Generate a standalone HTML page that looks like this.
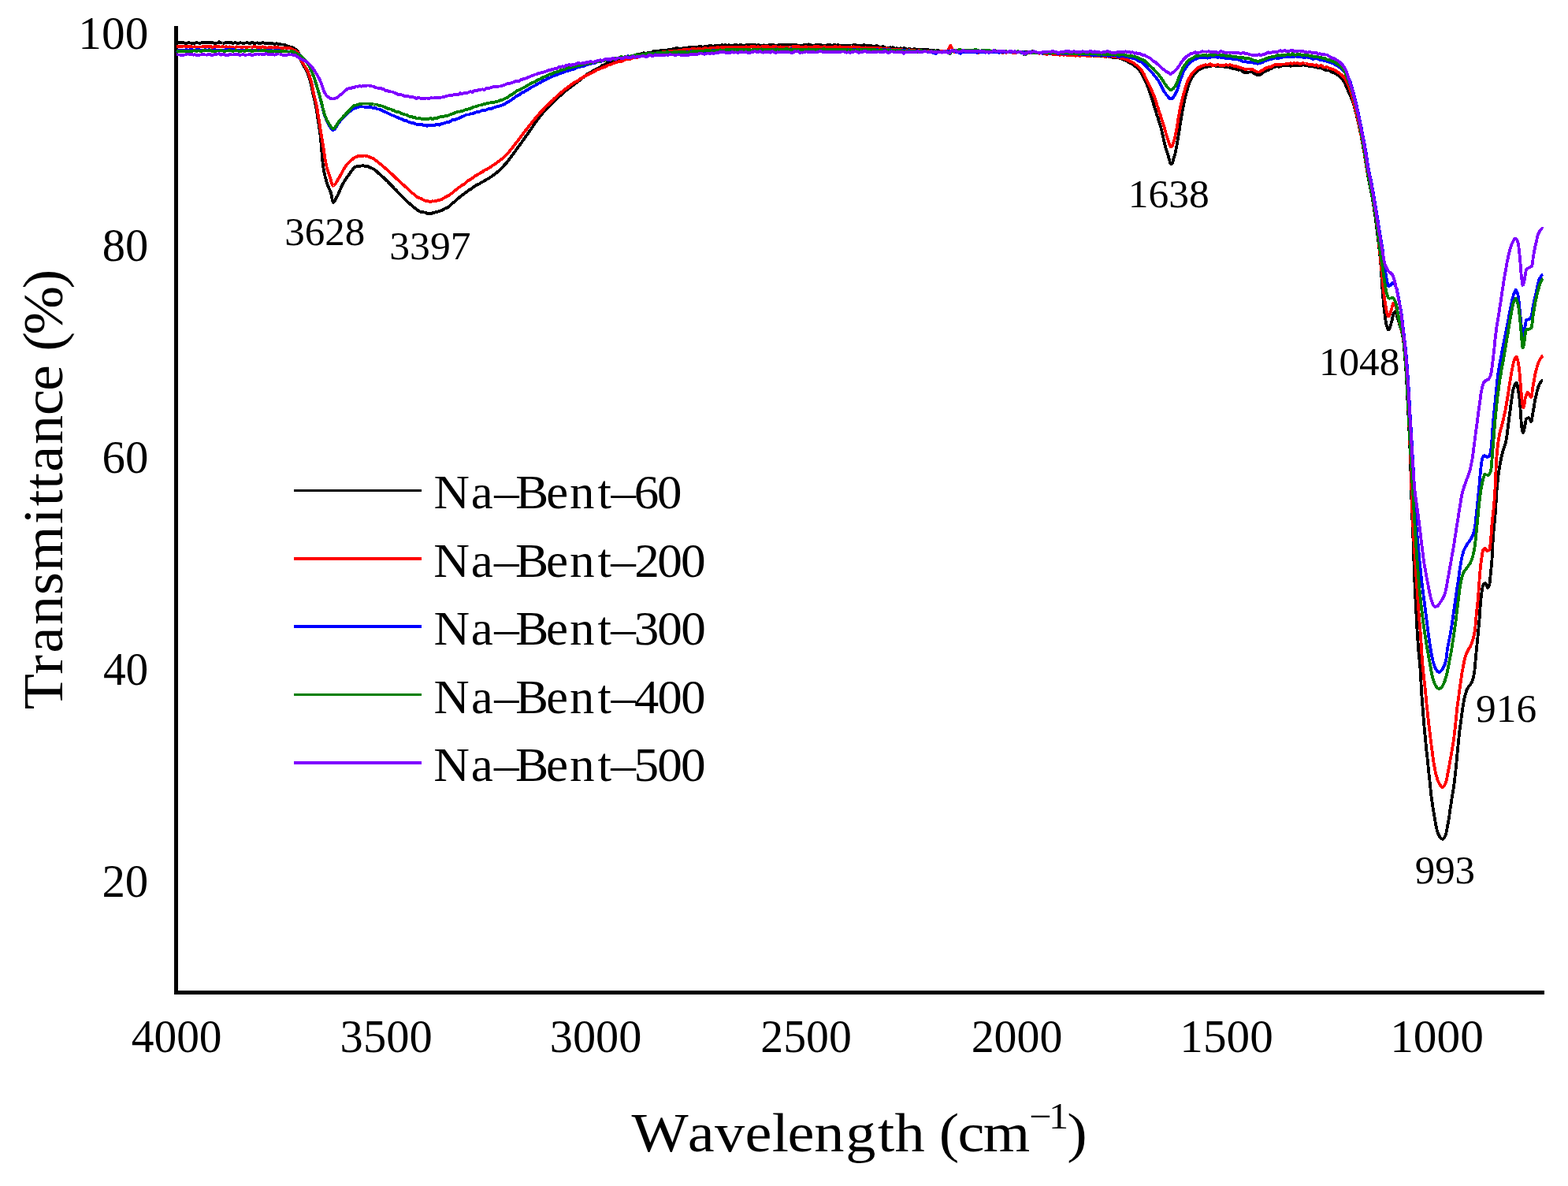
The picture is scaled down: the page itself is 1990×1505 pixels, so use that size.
<!DOCTYPE html>
<html lang="en">
<head>
<meta charset="utf-8">
<title>FTIR spectra of Na-Bent samples</title>
<style>
html,body{margin:0;padding:0;background:#fff;}
body{width:1990px;height:1505px;overflow:hidden;}
svg{display:block;}
text{font-family:"Liberation Serif","DejaVu Serif",serif;fill:#000;font-kerning:none;font-variant-ligatures:none;}
.curve{fill:none;stroke-width:3.8;stroke-linejoin:round;stroke-linecap:butt;}
</style>
</head>
<body>
<svg width="1990" height="1505" viewBox="0 0 1990 1505">
<rect x="0" y="0" width="1990" height="1505" fill="#ffffff"/>
<g id="axes" shape-rendering="crispEdges">
<rect x="221" y="33" width="5" height="1229" fill="#000"/>
<rect x="221" y="1257" width="1739" height="5" fill="#000"/>
</g>
<g id="curves" shape-rendering="crispEdges">
<polyline class="curve" stroke="#000000" points="224.0,54.6 224.8,54.5 225.5,54.4 226.2,54.3 227.0,54.2 227.8,54.1 228.5,54.2 229.2,54.3 230.0,54.3 230.8,54.2 231.5,54.1 232.2,54.1 233.0,54.3 233.8,54.5 234.5,54.7 235.2,55.0 236.0,55.2 236.8,55.2 237.5,54.8 238.2,54.5 239.0,54.3 239.8,54.3 240.5,54.3 241.2,54.4 242.0,54.6 242.8,54.8 243.5,54.9 244.2,54.8 245.0,54.8 245.8,54.8 246.5,54.7 247.2,54.7 248.0,54.5 248.8,54.3 249.5,54.1 250.2,54.2 251.0,54.4 251.8,54.6 252.5,54.7 253.2,54.8 254.0,55.0 254.8,54.6 255.5,54.2 256.2,53.9 257.0,54.0 257.8,54.2 258.5,54.3 259.2,54.0 260.0,53.8 260.8,53.6 261.5,53.7 262.2,53.8 263.0,53.9 263.8,53.8 264.5,53.7 265.2,53.7 266.0,54.0 266.8,54.3 267.5,54.4 268.2,54.2 269.0,54.0 269.8,54.0 270.5,54.3 271.2,54.6 272.0,54.7 272.8,54.7 273.5,54.7 274.2,54.6 275.0,54.6 275.8,54.5 276.5,54.2 277.2,53.8 278.0,53.3 278.8,53.5 279.5,53.9 280.2,54.2 281.0,54.4 281.8,54.5 282.5,54.6 283.2,54.6 284.0,54.6 284.8,54.7 285.5,54.4 286.2,54.1 287.0,53.8 287.8,54.0 288.5,54.2 289.2,54.3 290.0,54.2 290.8,54.1 291.5,54.1 292.2,54.1 293.0,54.1 293.8,54.2 294.5,54.6 295.2,54.9 296.0,55.1 296.8,54.7 297.5,54.4 298.2,54.2 299.0,54.3 299.8,54.5 300.5,54.7 301.2,54.8 302.0,55.0 302.8,55.0 303.5,54.7 304.2,54.4 305.0,54.3 305.8,54.4 306.5,54.5 307.2,54.6 308.0,54.6 308.8,54.6 309.5,54.7 310.2,54.6 311.0,54.6 311.8,54.5 312.5,54.2 313.2,54.0 314.0,54.1 314.8,54.4 315.5,54.6 316.2,54.9 317.0,55.1 317.8,55.3 318.5,54.8 319.2,54.3 320.0,53.7 320.8,54.2 321.5,54.7 322.2,55.1 323.0,54.9 323.8,54.8 324.5,54.6 325.2,54.5 326.0,54.4 326.8,54.3 327.5,54.8 328.2,55.3 329.0,55.6 329.8,55.4 330.5,55.2 331.2,54.9 332.0,54.5 332.8,54.2 333.5,54.0 334.2,54.3 335.0,54.5 335.8,54.7 336.5,54.8 337.2,54.9 338.0,54.8 338.8,54.7 339.5,54.6 340.2,54.6 341.0,54.8 341.8,54.9 342.5,54.9 343.2,54.9 344.0,54.8 344.8,54.9 345.5,55.1 346.2,55.3 347.0,55.5 347.8,55.7 348.5,56.0 349.2,55.8 350.0,55.5 350.8,55.2 351.5,55.5 352.2,55.7 353.0,56.0 353.8,55.9 354.5,55.9 355.2,56.0 356.0,56.2 356.8,56.4 357.5,56.6 358.2,56.5 359.0,56.5 359.8,56.5 360.5,56.7 361.2,57.0 362.0,57.3 362.8,57.5 363.5,57.7 364.2,58.0 365.0,58.4 365.8,58.8 366.5,59.1 367.2,59.3 368.0,59.6 368.8,59.7 369.5,59.7 370.2,59.7 371.0,59.9 371.8,60.3 372.5,60.8 373.2,61.3 374.0,61.9 374.8,62.5 375.5,62.9 376.2,63.5 377.0,64.3 377.8,65.3 378.5,66.4 379.2,67.7 380.0,69.1 380.8,71.0 381.5,73.9 382.2,77.0 383.0,79.2 383.8,80.8 384.5,82.2 385.2,83.3 386.0,84.4 386.8,85.5 387.5,86.6 388.2,87.9 389.0,89.4 389.8,91.1 390.5,92.9 391.2,94.9 392.0,97.1 392.8,99.4 393.5,101.8 394.2,104.6 395.0,108.1 395.8,111.9 396.5,115.8 397.2,119.4 398.0,122.5 398.8,125.4 399.5,128.3 400.2,131.6 401.0,135.2 401.8,139.4 402.5,144.1 403.2,149.3 404.0,154.5 404.8,159.7 405.5,164.5 406.2,169.6 407.0,176.2 407.8,184.9 408.5,194.4 409.2,203.3 410.0,210.3 410.8,215.0 411.5,218.9 412.2,222.4 413.0,225.5 413.8,228.2 414.5,230.8 415.2,233.2 416.0,235.3 416.8,237.1 417.5,238.8 418.2,240.4 419.0,242.1 419.8,244.2 420.5,246.8 421.2,251.1 422.0,255.2 422.8,256.9 423.5,256.5 424.2,255.7 425.0,254.6 425.8,253.1 426.5,251.6 427.2,250.1 428.0,248.8 428.8,247.3 429.5,245.7 430.2,244.1 431.0,242.3 431.8,240.6 432.5,238.8 433.2,237.1 434.0,235.5 434.8,234.0 435.5,232.6 436.2,231.4 437.0,230.1 437.8,228.9 438.5,227.8 439.2,226.7 440.0,225.6 440.8,224.5 441.5,223.5 442.2,222.4 443.0,221.4 443.8,220.4 444.5,219.2 445.2,218.1 446.0,217.0 446.8,216.0 447.5,215.0 448.2,214.1 449.0,213.3 449.8,212.5 450.5,212.0 451.2,211.7 452.0,211.4 452.8,211.2 453.5,211.0 454.2,211.0 455.0,210.9 455.8,210.8 456.5,210.8 457.2,210.7 458.0,210.5 458.8,210.4 459.5,210.3 460.2,210.3 461.0,210.3 461.8,210.5 462.5,210.7 463.2,210.8 464.0,210.9 464.8,211.1 465.5,211.1 466.2,211.2 467.0,211.2 467.8,211.5 468.5,211.9 469.2,212.3 470.0,212.7 470.8,213.1 471.5,213.4 472.2,213.7 473.0,214.0 473.8,214.3 474.5,214.8 475.2,215.4 476.0,216.1 476.8,216.6 477.5,217.1 478.2,217.7 479.0,218.4 479.8,219.1 480.5,219.9 481.2,220.5 482.0,221.1 482.8,221.8 483.5,222.4 484.2,223.1 485.0,223.8 485.8,224.4 486.5,225.0 487.2,225.7 488.0,226.4 488.8,227.2 489.5,227.9 490.2,228.6 491.0,229.3 491.8,230.0 492.5,230.8 493.2,231.6 494.0,232.4 494.8,233.2 495.5,234.1 496.2,234.8 497.0,235.5 497.8,236.2 498.5,237.0 499.2,237.9 500.0,238.7 500.8,239.5 501.5,240.2 502.2,240.8 503.0,241.6 503.8,242.5 504.5,243.4 505.2,244.1 506.0,244.9 506.8,245.6 507.5,246.4 508.2,247.3 509.0,248.1 509.8,248.9 510.5,249.7 511.2,250.4 512.0,251.1 512.8,251.8 513.5,252.5 514.2,253.3 515.0,254.1 515.8,254.9 516.5,255.6 517.2,256.3 518.0,257.0 518.8,257.5 519.5,258.1 520.2,258.6 521.0,259.3 521.8,259.9 522.5,260.6 523.2,261.3 524.0,261.9 524.8,262.6 525.5,263.2 526.2,263.8 527.0,264.4 527.8,265.1 528.5,265.8 529.2,266.5 530.0,266.8 530.8,267.2 531.5,267.5 532.2,268.0 533.0,268.4 533.8,268.7 534.5,268.9 535.2,269.0 536.0,269.1 536.8,269.3 537.5,269.4 538.2,269.5 539.0,269.6 539.8,269.6 540.5,269.9 541.2,270.5 542.0,271.0 542.8,271.0 543.5,270.8 544.2,270.6 545.0,270.8 545.8,271.0 546.5,271.2 547.2,271.0 548.0,270.7 548.8,270.4 549.5,270.2 550.2,269.9 551.0,269.7 551.8,269.5 552.5,269.4 553.2,269.3 554.0,269.1 554.8,268.8 555.5,268.6 556.2,268.5 557.0,268.3 557.8,268.1 558.5,267.8 559.2,267.4 560.0,267.1 560.8,266.8 561.5,266.5 562.2,266.1 563.0,265.6 563.8,265.1 564.5,264.7 565.2,264.4 566.0,264.1 566.8,263.8 567.5,263.6 568.2,263.3 569.0,262.7 569.8,262.0 570.5,261.2 571.2,260.6 572.0,259.9 572.8,259.3 573.5,258.7 574.2,258.1 575.0,257.5 575.8,256.9 576.5,256.3 577.2,255.7 578.0,254.9 578.8,254.1 579.5,253.3 580.2,252.7 581.0,252.1 581.8,251.6 582.5,250.9 583.2,250.3 584.0,249.6 584.8,248.9 585.5,248.2 586.2,247.5 587.0,247.2 587.8,246.8 588.5,246.4 589.2,245.8 590.0,245.1 590.8,244.6 591.5,244.0 592.2,243.5 593.0,243.0 593.8,242.4 594.5,241.8 595.2,241.2 596.0,240.8 596.8,240.4 597.5,239.9 598.2,239.4 599.0,238.8 599.8,238.2 600.5,237.8 601.2,237.3 602.0,236.8 602.8,236.2 603.5,235.7 604.2,235.1 605.0,234.7 605.8,234.2 606.5,233.9 607.2,233.7 608.0,233.6 608.8,233.1 609.5,232.5 610.2,231.9 611.0,231.5 611.8,231.2 612.5,230.8 613.2,230.4 614.0,230.0 614.8,229.5 615.5,229.0 616.2,228.6 617.0,228.1 617.8,227.7 618.5,227.2 619.2,226.8 620.0,226.4 620.8,226.1 621.5,225.7 622.2,225.1 623.0,224.5 623.8,224.0 624.5,223.4 625.2,222.9 626.0,222.4 626.8,221.8 627.5,221.3 628.2,220.7 629.0,220.2 629.8,219.6 630.5,219.0 631.2,218.3 632.0,217.6 632.8,216.9 633.5,216.2 634.2,215.5 635.0,214.8 635.8,214.0 636.5,213.2 637.2,212.5 638.0,211.7 638.8,210.9 639.5,210.2 640.2,209.4 641.0,208.7 641.8,207.8 642.5,207.0 643.2,206.1 644.0,205.1 644.8,204.2 645.5,203.2 646.2,202.3 647.0,201.3 647.8,200.3 648.5,199.3 649.2,198.2 650.0,197.2 650.8,196.2 651.5,195.1 652.2,194.1 653.0,193.1 653.8,192.0 654.5,191.0 655.2,190.0 656.0,189.0 656.8,188.0 657.5,186.9 658.2,185.9 659.0,184.9 659.8,183.8 660.5,182.8 661.2,181.7 662.0,180.7 662.8,179.6 663.5,178.6 664.2,177.5 665.0,176.5 665.8,175.4 666.5,174.3 667.2,173.3 668.0,172.2 668.8,171.2 669.5,170.1 670.2,169.1 671.0,168.0 671.8,166.9 672.5,165.9 673.2,164.8 674.0,163.7 674.8,162.6 675.5,161.5 676.2,160.4 677.0,159.3 677.8,158.2 678.5,157.1 679.2,156.0 680.0,155.0 680.8,153.9 681.5,152.9 682.2,151.8 683.0,150.8 683.8,149.8 684.5,148.9 685.2,147.9 686.0,147.0 686.8,146.1 687.5,145.1 688.2,144.2 689.0,143.3 689.8,142.5 690.5,141.6 691.2,140.8 692.0,140.0 692.8,139.2 693.5,138.4 694.2,137.5 695.0,136.7 695.8,135.9 696.5,135.1 697.2,134.4 698.0,133.6 698.8,132.8 699.5,132.1 700.2,131.3 701.0,130.5 701.8,129.7 702.5,129.0 703.2,128.3 704.0,127.6 704.8,127.0 705.5,126.3 706.2,125.5 707.0,124.8 707.8,124.1 708.5,123.4 709.2,122.7 710.0,122.1 710.8,121.6 711.5,121.1 712.2,120.4 713.0,119.7 713.8,119.0 714.5,118.4 715.2,117.8 716.0,117.2 716.8,116.5 717.5,115.8 718.2,115.1 719.0,114.5 719.8,113.9 720.5,113.3 721.2,112.7 722.0,112.1 722.8,111.5 723.5,110.9 724.2,110.3 725.0,109.7 725.8,109.2 726.5,108.7 727.2,108.2 728.0,107.5 728.8,106.9 729.5,106.3 730.2,105.8 731.0,105.3 731.8,104.7 732.5,104.1 733.2,103.5 734.0,103.0 734.8,102.5 735.5,102.1 736.2,101.4 737.0,100.5 737.8,99.7 738.5,99.1 739.2,98.7 740.0,98.3 740.8,97.8 741.5,97.1 742.2,96.5 743.0,96.0 743.8,95.4 744.5,94.9 745.2,94.3 746.0,93.7 746.8,93.1 747.5,92.7 748.2,92.3 749.0,92.0 749.8,91.6 750.5,91.3 751.2,91.0 752.0,90.4 752.8,89.9 753.5,89.4 754.2,89.0 755.0,88.6 755.8,88.2 756.5,87.7 757.2,87.3 758.0,86.9 758.8,86.6 759.5,86.4 760.2,86.1 761.0,85.6 761.8,85.1 762.5,84.5 763.2,83.9 764.0,83.3 764.8,82.9 765.5,82.7 766.2,82.6 767.0,82.3 767.8,81.8 768.5,81.3 769.2,80.8 770.0,80.4 770.8,79.9 771.5,79.8 772.2,79.8 773.0,79.9 773.8,79.9 774.5,79.9 775.2,79.9 776.0,79.6 776.8,79.1 777.5,78.7 778.2,78.3 779.0,77.9 779.8,77.5 780.5,77.2 781.2,77.0 782.0,76.8 782.8,76.9 783.5,77.0 784.2,77.0 785.0,76.6 785.8,76.3 786.5,75.9 787.2,75.7 788.0,75.5 788.8,75.2 789.5,75.0 790.2,74.7 791.0,74.5 791.8,74.3 792.5,74.1 793.2,73.9 794.0,73.8 794.8,73.7 795.5,73.5 796.2,73.3 797.0,73.0 797.8,72.7 798.5,72.5 799.2,72.2 800.0,71.9 800.8,71.5 801.5,71.1 802.2,70.9 803.0,70.9 803.8,71.0 804.5,70.7 805.2,70.3 806.0,70.0 806.8,69.9 807.5,70.0 808.2,70.1 809.0,69.7 809.8,69.1 810.5,68.6 811.2,68.5 812.0,68.5 812.8,68.5 813.5,68.4 814.2,68.3 815.0,68.1 815.8,67.8 816.5,67.4 817.2,67.1 818.0,67.5 818.8,67.8 819.5,68.1 820.2,67.9 821.0,67.8 821.8,67.5 822.5,67.1 823.2,66.7 824.0,66.4 824.8,66.5 825.5,66.5 826.2,66.5 827.0,66.4 827.8,66.2 828.5,65.8 829.2,65.2 830.0,64.6 830.8,64.5 831.5,64.8 832.2,65.2 833.0,65.3 833.8,65.1 834.5,65.0 835.2,64.8 836.0,64.8 836.8,64.7 837.5,64.4 838.2,64.1 839.0,63.8 839.8,63.8 840.5,63.8 841.2,63.8 842.0,63.7 842.8,63.7 843.5,63.6 844.2,63.7 845.0,63.8 845.8,63.9 846.5,63.7 847.2,63.4 848.0,63.2 848.8,63.0 849.5,62.9 850.2,62.7 851.0,62.9 851.8,63.1 852.5,63.1 853.2,62.7 854.0,62.3 854.8,61.9 855.5,61.8 856.2,61.8 857.0,61.6 857.8,61.3 858.5,61.0 859.2,60.9 860.0,61.4 860.8,62.0 861.5,62.2 862.2,62.0 863.0,61.8 863.8,61.7 864.5,61.6 865.2,61.5 866.0,61.4 866.8,61.3 867.5,61.2 868.2,61.1 869.0,60.9 869.8,60.8 870.5,60.7 871.2,60.6 872.0,60.6 872.8,60.5 873.5,60.3 874.2,60.2 875.0,60.1 875.8,60.1 876.5,60.0 877.2,60.0 878.0,60.0 878.8,60.0 879.5,60.2 880.2,60.4 881.0,60.6 881.8,60.4 882.5,60.2 883.2,60.0 884.0,59.8 884.8,59.6 885.5,59.5 886.2,59.3 887.0,59.2 887.8,59.1 888.5,59.0 889.2,59.0 890.0,59.0 890.8,59.4 891.5,59.7 892.2,59.8 893.0,59.6 893.8,59.4 894.5,59.2 895.2,59.0 896.0,58.9 896.8,58.8 897.5,58.7 898.2,58.5 899.0,58.4 899.8,58.2 900.5,58.0 901.2,58.0 902.0,58.2 902.8,58.3 903.5,58.4 904.2,58.6 905.0,58.7 905.8,58.5 906.5,58.3 907.2,58.0 908.0,57.9 908.8,57.9 909.5,57.9 910.2,57.9 911.0,57.8 911.8,57.8 912.5,57.8 913.2,57.9 914.0,57.9 914.8,57.5 915.5,57.2 916.2,56.9 917.0,57.1 917.8,57.3 918.5,57.5 919.2,57.4 920.0,57.2 920.8,57.2 921.5,57.5 922.2,57.8 923.0,57.9 923.8,57.6 924.5,57.3 925.2,57.1 926.0,57.4 926.8,57.6 927.5,57.8 928.2,58.0 929.0,58.1 929.8,58.1 930.5,57.7 931.2,57.4 932.0,57.2 932.8,57.1 933.5,57.1 934.2,57.1 935.0,57.3 935.8,57.4 936.5,57.4 937.2,57.4 938.0,57.4 938.8,57.2 939.5,57.0 940.2,56.8 941.0,57.0 941.8,57.3 942.5,57.6 943.2,57.8 944.0,58.1 944.8,58.4 945.5,58.0 946.2,57.6 947.0,57.2 947.8,57.2 948.5,57.2 949.2,57.2 950.0,57.0 950.8,56.9 951.5,56.8 952.2,57.0 953.0,57.3 953.8,57.4 954.5,57.1 955.2,56.8 956.0,56.6 956.8,56.6 957.5,56.6 958.2,56.8 959.0,57.3 959.8,57.7 960.5,57.8 961.2,57.4 962.0,57.0 962.8,56.9 963.5,57.3 964.2,57.7 965.0,57.9 965.8,58.0 966.5,58.0 967.2,57.9 968.0,57.7 968.8,57.5 969.5,57.4 970.2,57.5 971.0,57.5 971.8,57.7 972.5,58.0 973.2,58.2 974.0,58.0 974.8,57.6 975.5,57.2 976.2,57.1 977.0,57.0 977.8,56.9 978.5,56.8 979.2,56.6 980.0,56.5 980.8,56.7 981.5,57.0 982.2,57.3 983.0,57.5 983.8,57.8 984.5,58.0 985.2,57.9 986.0,57.8 986.8,57.7 987.5,57.3 988.2,56.9 989.0,56.7 989.8,56.7 990.5,56.7 991.2,56.8 992.0,56.8 992.8,56.9 993.5,57.0 994.2,57.1 995.0,57.3 995.8,57.3 996.5,57.2 997.2,57.1 998.0,57.1 998.8,57.2 999.5,57.3 1000.2,57.3 1001.0,57.3 1001.8,57.4 1002.5,57.3 1003.2,57.2 1004.0,57.1 1004.8,57.1 1005.5,57.1 1006.2,57.2 1007.0,57.2 1007.8,57.3 1008.5,57.3 1009.2,57.3 1010.0,57.2 1010.8,57.2 1011.5,57.3 1012.2,57.4 1013.0,57.5 1013.8,57.8 1014.5,58.0 1015.2,58.2 1016.0,58.0 1016.8,57.8 1017.5,57.6 1018.2,57.5 1019.0,57.4 1019.8,57.2 1020.5,56.9 1021.2,56.6 1022.0,56.5 1022.8,56.9 1023.5,57.2 1024.2,57.4 1025.0,56.9 1025.8,56.5 1026.5,56.3 1027.2,56.4 1028.0,56.5 1028.8,56.8 1029.5,57.2 1030.2,57.6 1031.0,57.8 1031.8,57.8 1032.5,57.8 1033.2,57.7 1034.0,57.5 1034.8,57.3 1035.5,57.1 1036.2,56.8 1037.0,56.5 1037.8,56.7 1038.5,56.9 1039.2,57.2 1040.0,57.2 1040.8,57.1 1041.5,57.1 1042.2,57.3 1043.0,57.5 1043.8,57.8 1044.5,58.1 1045.2,58.4 1046.0,58.7 1046.8,58.3 1047.5,58.0 1048.2,57.6 1049.0,57.4 1049.8,57.2 1050.5,57.1 1051.2,57.0 1052.0,57.0 1052.8,56.9 1053.5,57.2 1054.2,57.4 1055.0,57.5 1055.8,57.5 1056.5,57.5 1057.2,57.4 1058.0,57.2 1058.8,57.1 1059.5,57.1 1060.2,57.3 1061.0,57.5 1061.8,57.6 1062.5,57.3 1063.2,57.1 1064.0,57.2 1064.8,57.7 1065.5,58.1 1066.2,58.2 1067.0,58.2 1067.8,58.2 1068.5,58.2 1069.2,58.3 1070.0,58.3 1070.8,58.1 1071.5,57.8 1072.2,57.5 1073.0,57.6 1073.8,57.8 1074.5,58.0 1075.2,57.9 1076.0,57.8 1076.8,57.7 1077.5,57.6 1078.2,57.6 1079.0,57.5 1079.8,57.5 1080.5,57.6 1081.2,57.6 1082.0,57.4 1082.8,57.2 1083.5,57.1 1084.2,57.0 1085.0,57.0 1085.8,57.1 1086.5,57.5 1087.2,57.9 1088.0,58.2 1088.8,58.0 1089.5,57.9 1090.2,57.8 1091.0,57.9 1091.8,57.9 1092.5,58.1 1093.2,58.2 1094.0,58.4 1094.8,58.2 1095.5,57.7 1096.2,57.2 1097.0,57.1 1097.8,57.3 1098.5,57.5 1099.2,57.7 1100.0,57.9 1100.8,58.1 1101.5,58.2 1102.2,58.2 1103.0,58.3 1103.8,58.2 1104.5,58.1 1105.2,58.0 1106.0,58.3 1106.8,58.6 1107.5,58.9 1108.2,58.8 1109.0,58.7 1109.8,58.7 1110.5,58.5 1111.2,58.3 1112.0,58.1 1112.8,58.2 1113.5,58.4 1114.2,58.5 1115.0,58.9 1115.8,59.3 1116.5,59.6 1117.2,59.6 1118.0,59.6 1118.8,59.6 1119.5,59.2 1120.2,58.9 1121.0,58.8 1121.8,59.5 1122.5,60.1 1123.2,60.5 1124.0,60.5 1124.8,60.4 1125.5,60.5 1126.2,60.7 1127.0,60.9 1127.8,60.9 1128.5,60.6 1129.2,60.4 1130.0,60.3 1130.8,60.4 1131.5,60.5 1132.2,60.4 1133.0,60.3 1133.8,60.3 1134.5,60.7 1135.2,61.4 1136.0,62.1 1136.8,62.0 1137.5,61.6 1138.2,61.1 1139.0,61.4 1139.8,61.7 1140.5,62.1 1141.2,61.8 1142.0,61.5 1142.8,61.2 1143.5,61.3 1144.2,61.5 1145.0,61.7 1145.8,61.5 1146.5,61.2 1147.2,61.0 1148.0,61.2 1148.8,61.5 1149.5,61.8 1150.2,62.1 1151.0,62.4 1151.8,62.6 1152.5,62.2 1153.2,61.9 1154.0,61.8 1154.8,62.2 1155.5,62.7 1156.2,63.0 1157.0,62.9 1157.8,62.8 1158.5,62.7 1159.2,62.5 1160.0,62.3 1160.8,62.2 1161.5,62.4 1162.2,62.5 1163.0,62.6 1163.8,62.7 1164.5,62.8 1165.2,62.9 1166.0,63.0 1166.8,63.1 1167.5,63.1 1168.2,63.1 1169.0,63.1 1169.8,63.0 1170.5,63.0 1171.2,63.0 1172.0,63.2 1172.8,63.3 1173.5,63.4 1174.2,63.4 1175.0,63.3 1175.8,63.2 1176.5,63.2 1177.2,63.2 1178.0,63.2 1178.8,63.5 1179.5,63.8 1180.2,64.0 1181.0,64.3 1181.8,64.5 1182.5,64.6 1183.2,64.2 1184.0,63.8 1184.8,63.6 1185.5,63.9 1186.2,64.2 1187.0,64.4 1187.8,64.4 1188.5,64.3 1189.2,64.2 1190.0,64.2 1190.8,64.2 1191.5,64.3 1192.2,64.7 1193.0,65.0 1193.8,65.1 1194.5,64.9 1195.2,64.7 1196.0,64.8 1196.8,65.2 1197.5,65.6 1198.2,65.5 1199.0,65.1 1199.8,64.7 1200.5,64.7 1201.2,65.0 1202.0,65.2 1202.8,65.2 1203.5,65.1 1204.2,65.0 1205.0,64.9 1205.8,64.8 1206.5,64.8 1207.2,65.0 1208.0,65.2 1208.8,65.5 1209.5,65.4 1210.2,65.3 1211.0,65.2 1211.8,65.3 1212.5,65.5 1213.2,65.6 1214.0,65.5 1214.8,65.4 1215.5,65.3 1216.2,65.1 1217.0,64.9 1217.8,64.8 1218.5,65.0 1219.2,65.2 1220.0,65.4 1220.8,65.4 1221.5,65.4 1222.2,65.5 1223.0,65.7 1223.8,65.9 1224.5,65.9 1225.2,65.5 1226.0,65.2 1226.8,65.1 1227.5,65.3 1228.2,65.4 1229.0,65.4 1229.8,65.1 1230.5,64.7 1231.2,64.9 1232.0,65.3 1232.8,65.8 1233.5,65.7 1234.2,65.4 1235.0,65.1 1235.8,64.9 1236.5,64.8 1237.2,64.7 1238.0,64.9 1238.8,65.3 1239.5,65.6 1240.2,65.8 1241.0,66.1 1241.8,66.3 1242.5,65.8 1243.2,65.4 1244.0,64.9 1244.8,65.0 1245.5,65.1 1246.2,65.1 1247.0,65.2 1247.8,65.3 1248.5,65.3 1249.2,65.3 1250.0,65.2 1250.8,65.2 1251.5,65.5 1252.2,65.8 1253.0,66.0 1253.8,65.7 1254.5,65.5 1255.2,65.4 1256.0,65.4 1256.8,65.4 1257.5,65.6 1258.2,65.8 1259.0,66.1 1259.8,66.1 1260.5,65.8 1261.2,65.6 1262.0,65.6 1262.8,65.8 1263.5,66.1 1264.2,66.0 1265.0,65.8 1265.8,65.5 1266.5,65.4 1267.2,65.4 1268.0,65.3 1268.8,65.2 1269.5,65.1 1270.2,65.0 1271.0,65.6 1271.8,66.2 1272.5,66.9 1273.2,66.7 1274.0,66.3 1274.8,65.9 1275.5,66.0 1276.2,66.1 1277.0,66.2 1277.8,66.2 1278.5,66.1 1279.2,66.1 1280.0,66.1 1280.8,66.2 1281.5,66.2 1282.2,66.2 1283.0,66.2 1283.8,66.3 1284.5,66.6 1285.2,67.0 1286.0,67.1 1286.8,66.6 1287.5,66.0 1288.2,65.7 1289.0,65.6 1289.8,65.5 1290.5,65.5 1291.2,65.6 1292.0,65.7 1292.8,65.8 1293.5,65.7 1294.2,65.7 1295.0,65.9 1295.8,66.3 1296.5,66.7 1297.2,66.8 1298.0,66.9 1298.8,66.9 1299.5,66.7 1300.2,66.4 1301.0,66.1 1301.8,66.0 1302.5,65.9 1303.2,65.9 1304.0,66.0 1304.8,66.2 1305.5,66.4 1306.2,66.8 1307.0,67.1 1307.8,67.4 1308.5,66.8 1309.2,66.0 1310.0,65.3 1310.8,65.9 1311.5,66.6 1312.2,67.2 1313.0,66.9 1313.8,66.6 1314.5,66.5 1315.2,66.9 1316.0,67.3 1316.8,67.6 1317.5,67.2 1318.2,66.9 1319.0,66.7 1319.8,66.8 1320.5,67.0 1321.2,67.1 1322.0,66.9 1322.8,66.7 1323.5,66.6 1324.2,66.8 1325.0,66.9 1325.8,67.2 1326.5,67.7 1327.2,68.1 1328.0,68.3 1328.8,68.3 1329.5,68.2 1330.2,68.1 1331.0,67.9 1331.8,67.7 1332.5,67.6 1333.2,67.6 1334.0,67.5 1334.8,67.4 1335.5,67.3 1336.2,67.1 1337.0,67.4 1337.8,67.7 1338.5,68.0 1339.2,68.1 1340.0,68.2 1340.8,68.3 1341.5,68.4 1342.2,68.4 1343.0,68.4 1343.8,68.5 1344.5,68.5 1345.2,68.6 1346.0,68.4 1346.8,68.3 1347.5,68.2 1348.2,68.4 1349.0,68.6 1349.8,68.8 1350.5,68.9 1351.2,68.9 1352.0,69.1 1352.8,69.3 1353.5,69.6 1354.2,69.9 1355.0,70.0 1355.8,70.1 1356.5,70.1 1357.2,69.8 1358.0,69.5 1358.8,69.3 1359.5,69.2 1360.2,69.1 1361.0,69.2 1361.8,69.4 1362.5,69.5 1363.2,69.6 1364.0,69.5 1364.8,69.4 1365.5,69.4 1366.2,69.4 1367.0,69.5 1367.8,69.6 1368.5,69.7 1369.2,69.9 1370.0,69.8 1370.8,69.7 1371.5,69.5 1372.2,69.8 1373.0,70.1 1373.8,70.5 1374.5,70.4 1375.2,70.3 1376.0,70.2 1376.8,70.3 1377.5,70.4 1378.2,70.5 1379.0,70.5 1379.8,70.4 1380.5,70.4 1381.2,70.3 1382.0,70.2 1382.8,70.2 1383.5,70.2 1384.2,70.2 1385.0,70.2 1385.8,70.4 1386.5,70.5 1387.2,70.6 1388.0,70.6 1388.8,70.6 1389.5,70.6 1390.2,70.8 1391.0,71.0 1391.8,71.1 1392.5,71.1 1393.2,71.1 1394.0,71.0 1394.8,70.8 1395.5,70.6 1396.2,70.7 1397.0,71.0 1397.8,71.3 1398.5,71.3 1399.2,71.1 1400.0,70.9 1400.8,71.0 1401.5,71.1 1402.2,71.3 1403.0,71.5 1403.8,71.6 1404.5,71.7 1405.2,71.5 1406.0,71.3 1406.8,71.0 1407.5,71.4 1408.2,71.9 1409.0,72.3 1409.8,72.4 1410.5,72.5 1411.2,72.6 1412.0,72.7 1412.8,72.7 1413.5,72.8 1414.2,72.8 1415.0,72.9 1415.8,73.0 1416.5,73.1 1417.2,73.2 1418.0,73.4 1418.8,73.4 1419.5,73.5 1420.2,73.6 1421.0,73.9 1421.8,74.2 1422.5,74.5 1423.2,74.7 1424.0,74.9 1424.8,75.2 1425.5,75.6 1426.2,76.0 1427.0,76.2 1427.8,76.4 1428.5,76.6 1429.2,77.0 1430.0,77.5 1430.8,78.0 1431.5,78.4 1432.2,78.8 1433.0,79.2 1433.8,79.5 1434.5,79.9 1435.2,80.3 1436.0,80.7 1436.8,81.2 1437.5,81.6 1438.2,82.2 1439.0,82.8 1439.8,83.5 1440.5,83.9 1441.2,84.4 1442.0,84.9 1442.8,85.7 1443.5,86.6 1444.2,87.4 1445.0,88.2 1445.8,89.0 1446.5,89.8 1447.2,90.8 1448.0,92.0 1448.8,93.2 1449.5,94.5 1450.2,95.9 1451.0,97.3 1451.8,98.8 1452.5,100.4 1453.2,102.0 1454.0,103.6 1454.8,105.3 1455.5,107.0 1456.2,108.9 1457.0,110.9 1457.8,113.0 1458.5,115.2 1459.2,117.4 1460.0,119.7 1460.8,122.0 1461.5,124.2 1462.2,126.5 1463.0,128.9 1463.8,131.3 1464.5,133.7 1465.2,136.1 1466.0,138.6 1466.8,141.0 1467.5,143.4 1468.2,145.8 1469.0,148.0 1469.8,150.3 1470.5,152.6 1471.2,154.9 1472.0,157.3 1472.8,159.8 1473.5,162.5 1474.2,165.3 1475.0,168.6 1475.8,172.0 1476.5,175.5 1477.2,178.9 1478.0,182.1 1478.8,185.1 1479.5,187.7 1480.2,190.3 1481.0,192.7 1481.8,195.1 1482.5,197.4 1483.2,199.8 1484.0,202.5 1484.8,205.5 1485.5,207.7 1486.2,207.9 1487.0,208.1 1487.8,206.7 1488.5,204.7 1489.2,202.4 1490.0,199.9 1490.8,197.5 1491.5,194.5 1492.2,191.0 1493.0,187.2 1493.8,183.2 1494.5,179.1 1495.2,174.7 1496.0,169.9 1496.8,164.9 1497.5,159.9 1498.2,155.0 1499.0,150.5 1499.8,146.2 1500.5,141.9 1501.2,137.8 1502.0,133.7 1502.8,129.9 1503.5,126.4 1504.2,123.2 1505.0,120.3 1505.8,117.4 1506.5,114.7 1507.2,112.1 1508.0,109.7 1508.8,107.5 1509.5,105.4 1510.2,103.7 1511.0,102.1 1511.8,100.6 1512.5,99.2 1513.2,97.9 1514.0,96.7 1514.8,95.6 1515.5,94.5 1516.2,93.6 1517.0,92.7 1517.8,92.0 1518.5,91.4 1519.2,90.7 1520.0,90.0 1520.8,89.3 1521.5,88.6 1522.2,88.1 1523.0,87.6 1523.8,87.2 1524.5,86.9 1525.2,86.6 1526.0,86.3 1526.8,86.0 1527.5,85.7 1528.2,85.6 1529.0,85.5 1529.8,85.4 1530.5,85.2 1531.2,84.9 1532.0,84.7 1532.8,84.4 1533.5,84.2 1534.2,84.0 1535.0,83.9 1535.8,84.0 1536.5,84.0 1537.2,83.8 1538.0,83.5 1538.8,83.3 1539.5,83.2 1540.2,83.1 1541.0,83.0 1541.8,83.4 1542.5,83.8 1543.2,84.2 1544.0,84.2 1544.8,84.1 1545.5,84.1 1546.2,84.2 1547.0,84.3 1547.8,84.4 1548.5,84.1 1549.2,83.8 1550.0,83.7 1550.8,84.0 1551.5,84.3 1552.2,84.5 1553.0,84.6 1553.8,84.6 1554.5,84.7 1555.2,84.7 1556.0,84.8 1556.8,84.7 1557.5,84.6 1558.2,84.5 1559.0,84.7 1559.8,85.1 1560.5,85.5 1561.2,85.9 1562.0,86.3 1562.8,86.6 1563.5,86.8 1564.2,86.9 1565.0,86.9 1565.8,87.0 1566.5,87.0 1567.2,87.1 1568.0,87.3 1568.8,87.6 1569.5,87.9 1570.2,88.2 1571.0,88.5 1571.8,88.8 1572.5,88.6 1573.2,88.3 1574.0,88.1 1574.8,88.8 1575.5,89.5 1576.2,90.2 1577.0,90.6 1577.8,91.1 1578.5,91.5 1579.2,91.8 1580.0,92.0 1580.8,92.2 1581.5,92.3 1582.2,92.4 1583.0,92.3 1583.8,92.1 1584.5,91.8 1585.2,91.6 1586.0,91.4 1586.8,91.2 1587.5,91.1 1588.2,91.2 1589.0,91.5 1589.8,91.9 1590.5,92.4 1591.2,92.9 1592.0,93.4 1592.8,93.8 1593.5,94.2 1594.2,94.5 1595.0,94.8 1595.8,95.0 1596.5,95.2 1597.2,95.2 1598.0,95.1 1598.8,95.0 1599.5,94.7 1600.2,94.4 1601.0,93.8 1601.8,93.1 1602.5,92.5 1603.2,92.0 1604.0,91.5 1604.8,91.1 1605.5,90.6 1606.2,90.2 1607.0,89.9 1607.8,89.7 1608.5,89.5 1609.2,89.2 1610.0,88.7 1610.8,88.2 1611.5,87.7 1612.2,87.5 1613.0,87.3 1613.8,87.0 1614.5,86.4 1615.2,85.8 1616.0,85.3 1616.8,85.1 1617.5,85.0 1618.2,84.8 1619.0,84.6 1619.8,84.5 1620.5,84.5 1621.2,84.5 1622.0,84.6 1622.8,84.6 1623.5,84.6 1624.2,84.6 1625.0,84.3 1625.8,83.8 1626.5,83.2 1627.2,83.1 1628.0,83.1 1628.8,83.1 1629.5,83.3 1630.2,83.4 1631.0,83.6 1631.8,83.5 1632.5,83.3 1633.2,83.0 1634.0,82.8 1634.8,82.6 1635.5,82.5 1636.2,82.8 1637.0,83.2 1637.8,83.7 1638.5,83.6 1639.2,83.4 1640.0,83.3 1640.8,83.3 1641.5,83.3 1642.2,83.2 1643.0,83.0 1643.8,82.8 1644.5,82.7 1645.2,82.9 1646.0,83.2 1646.8,83.3 1647.5,83.1 1648.2,82.9 1649.0,82.7 1649.8,83.0 1650.5,83.2 1651.2,83.3 1652.0,82.9 1652.8,82.6 1653.5,82.4 1654.2,82.5 1655.0,82.6 1655.8,82.7 1656.5,83.0 1657.2,83.3 1658.0,83.4 1658.8,83.3 1659.5,83.3 1660.2,83.4 1661.0,83.8 1661.8,84.1 1662.5,84.3 1663.2,84.3 1664.0,84.4 1664.8,84.3 1665.5,84.3 1666.2,84.2 1667.0,84.4 1667.8,84.7 1668.5,85.0 1669.2,85.1 1670.0,85.2 1670.8,85.2 1671.5,85.5 1672.2,85.9 1673.0,86.2 1673.8,86.1 1674.5,86.0 1675.2,86.0 1676.0,86.2 1676.8,86.4 1677.5,86.6 1678.2,87.0 1679.0,87.5 1679.8,87.9 1680.5,88.2 1681.2,88.6 1682.0,88.9 1682.8,89.1 1683.5,89.3 1684.2,89.4 1685.0,89.4 1685.8,89.3 1686.5,89.5 1687.2,89.7 1688.0,90.1 1688.8,90.4 1689.5,90.9 1690.2,91.4 1691.0,91.7 1691.8,91.9 1692.5,92.1 1693.2,92.4 1694.0,92.7 1694.8,93.0 1695.5,93.5 1696.2,94.1 1697.0,94.7 1697.8,95.2 1698.5,95.8 1699.2,96.4 1700.0,96.9 1700.8,97.5 1701.5,98.2 1702.2,98.9 1703.0,99.8 1703.8,100.7 1704.5,101.7 1705.2,102.7 1706.0,103.8 1706.8,105.3 1707.5,106.9 1708.2,108.7 1709.0,110.5 1709.8,112.4 1710.5,114.2 1711.2,116.0 1712.0,117.6 1712.8,119.3 1713.5,120.9 1714.2,122.6 1715.0,124.3 1715.8,126.1 1716.5,128.0 1717.2,130.1 1718.0,132.4 1718.8,134.9 1719.5,137.7 1720.2,140.6 1721.0,143.6 1721.8,146.7 1722.5,149.7 1723.2,152.9 1724.0,156.2 1724.8,159.5 1725.5,163.0 1726.2,166.5 1727.0,170.2 1727.8,174.0 1728.5,177.9 1729.2,181.9 1730.0,186.1 1730.8,190.4 1731.5,194.8 1732.2,199.5 1733.0,204.3 1733.8,209.1 1734.5,213.8 1735.2,218.2 1736.0,222.4 1736.8,226.3 1737.5,230.1 1738.2,233.9 1739.0,237.6 1739.8,241.3 1740.5,245.1 1741.2,249.0 1742.0,253.2 1742.8,257.5 1743.5,262.2 1744.2,267.2 1745.0,272.4 1745.8,277.9 1746.5,283.5 1747.2,289.4 1748.0,295.5 1748.8,301.7 1749.5,308.0 1750.2,314.3 1751.0,321.0 1751.8,328.4 1752.5,337.0 1753.2,348.8 1754.0,361.5 1754.8,371.5 1755.5,380.5 1756.2,388.5 1757.0,395.2 1757.8,400.9 1758.5,406.1 1759.2,410.5 1760.0,413.8 1760.8,416.2 1761.5,418.0 1762.2,418.4 1763.0,417.8 1763.8,416.1 1764.5,413.9 1765.2,411.5 1766.0,408.9 1766.8,405.5 1767.5,402.1 1768.2,399.4 1769.0,397.6 1769.8,396.1 1770.5,395.4 1771.2,395.7 1772.0,397.6 1772.8,400.2 1773.5,402.9 1774.2,405.2 1775.0,407.7 1775.8,410.3 1776.5,413.0 1777.2,415.5 1778.0,417.8 1778.8,420.1 1779.5,422.8 1780.2,426.3 1781.0,431.6 1781.8,438.5 1782.5,446.3 1783.2,455.2 1784.0,465.2 1784.8,476.2 1785.5,489.3 1786.2,504.2 1787.0,518.9 1787.8,533.4 1788.5,548.7 1789.2,564.5 1790.0,582.6 1790.8,612.0 1791.5,636.9 1792.2,655.3 1793.0,672.7 1793.8,692.7 1794.5,714.3 1795.2,734.6 1796.0,751.6 1796.8,766.6 1797.5,780.4 1798.2,793.9 1799.0,807.2 1799.8,818.9 1800.5,827.8 1801.2,834.5 1802.0,842.0 1802.8,853.1 1803.5,866.6 1804.2,879.8 1805.0,890.8 1805.8,900.7 1806.5,910.0 1807.2,918.8 1808.0,927.2 1808.8,935.3 1809.5,943.1 1810.2,950.5 1811.0,957.7 1811.8,964.8 1812.5,971.9 1813.2,979.1 1814.0,986.5 1814.8,993.9 1815.5,1001.1 1816.2,1007.8 1817.0,1013.7 1817.8,1019.2 1818.5,1024.3 1819.2,1029.1 1820.0,1033.6 1820.8,1037.9 1821.5,1042.2 1822.2,1046.4 1823.0,1050.2 1823.8,1053.5 1824.5,1056.0 1825.2,1058.0 1826.0,1059.6 1826.8,1061.1 1827.5,1062.5 1828.2,1063.4 1829.0,1064.0 1829.8,1064.4 1830.5,1064.7 1831.2,1064.7 1832.0,1064.0 1832.8,1063.4 1833.5,1062.3 1834.2,1060.6 1835.0,1058.4 1835.8,1055.4 1836.5,1051.7 1837.2,1047.6 1838.0,1043.4 1838.8,1038.9 1839.5,1034.1 1840.2,1029.0 1841.0,1023.8 1841.8,1018.7 1842.5,1013.9 1843.2,1009.2 1844.0,1004.6 1844.8,999.8 1845.5,994.6 1846.2,988.8 1847.0,981.9 1847.8,974.4 1848.5,966.7 1849.2,959.1 1850.0,951.4 1850.8,943.5 1851.5,936.0 1852.2,929.2 1853.0,923.1 1853.8,917.4 1854.5,912.0 1855.2,906.7 1856.0,901.4 1856.8,896.1 1857.5,891.4 1858.2,887.5 1859.0,884.2 1859.8,881.2 1860.5,878.6 1861.2,876.3 1862.0,874.5 1862.8,873.1 1863.5,871.9 1864.2,870.9 1865.0,870.1 1865.8,869.1 1866.5,868.1 1867.2,866.9 1868.0,865.4 1868.8,863.5 1869.5,861.2 1870.2,858.3 1871.0,854.5 1871.8,847.3 1872.5,839.0 1873.2,831.2 1874.0,823.3 1874.8,815.5 1875.5,808.0 1876.2,800.5 1877.0,792.2 1877.8,782.3 1878.5,771.8 1879.2,762.7 1880.0,755.0 1880.8,749.4 1881.5,745.7 1882.2,742.8 1883.0,741.4 1883.8,740.7 1884.5,740.3 1885.2,740.3 1886.0,741.3 1886.8,742.9 1887.5,744.4 1888.2,746.0 1889.0,744.6 1889.8,743.0 1890.5,740.6 1891.2,734.3 1892.0,725.5 1892.8,718.6 1893.5,710.5 1894.2,695.4 1895.0,680.3 1895.8,672.0 1896.5,665.6 1897.2,658.3 1898.0,647.4 1898.8,634.4 1899.5,623.2 1900.2,615.1 1901.0,608.1 1901.8,602.0 1902.5,596.7 1903.2,592.0 1904.0,587.7 1904.8,583.8 1905.5,580.2 1906.2,576.9 1907.0,573.8 1907.8,571.0 1908.5,568.7 1909.2,566.6 1910.0,564.4 1910.8,561.9 1911.5,558.8 1912.2,554.5 1913.0,548.9 1913.8,542.6 1914.5,536.5 1915.2,530.7 1916.0,524.9 1916.8,519.2 1917.5,513.8 1918.2,508.4 1919.0,502.9 1919.8,497.9 1920.5,494.2 1921.2,491.8 1922.0,489.6 1922.8,487.8 1923.5,486.5 1924.2,485.6 1925.0,486.6 1925.8,489.1 1926.5,492.8 1927.2,497.1 1928.0,502.4 1928.8,509.7 1929.5,518.3 1930.2,528.8 1931.0,540.0 1931.8,545.1 1932.5,548.5 1933.2,549.1 1934.0,546.6 1934.8,542.8 1935.5,539.1 1936.2,534.6 1937.0,531.5 1937.8,531.1 1938.5,530.7 1939.2,530.3 1940.0,530.2 1940.8,530.6 1941.5,532.0 1942.2,533.6 1943.0,534.9 1943.8,534.1 1944.5,530.1 1945.2,525.0 1946.0,520.8 1946.8,516.4 1947.5,511.9 1948.2,507.6 1949.0,503.8 1949.8,500.6 1950.5,497.5 1951.2,494.6 1952.0,492.0 1952.8,489.7 1953.5,488.0 1954.2,486.6 1955.0,485.4 1955.8,484.3 1956.5,483.4 1957.2,482.7 1958.0,482.4 1958.4,482.4"/>
<polyline class="curve" stroke="#ff0000" points="224.0,58.8 224.8,58.8 225.5,58.8 226.2,58.7 227.0,58.7 227.8,58.7 228.5,59.0 229.2,59.2 230.0,59.4 230.8,59.2 231.5,59.0 232.2,58.8 233.0,58.6 233.8,58.4 234.5,58.5 235.2,58.9 236.0,59.3 236.8,59.5 237.5,59.3 238.2,59.2 239.0,59.2 239.8,59.3 240.5,59.4 241.2,59.4 242.0,59.3 242.8,59.3 243.5,59.3 244.2,59.4 245.0,59.5 245.8,59.5 246.5,59.4 247.2,59.3 248.0,59.4 248.8,59.6 249.5,59.8 250.2,59.7 251.0,59.6 251.8,59.5 252.5,59.5 253.2,59.5 254.0,59.5 254.8,59.5 255.5,59.5 256.2,59.5 257.0,59.2 257.8,58.9 258.5,58.7 259.2,58.9 260.0,59.1 260.8,59.2 261.5,59.2 262.2,59.2 263.0,59.2 263.8,59.3 264.5,59.4 265.2,59.4 266.0,59.1 266.8,58.9 267.5,58.9 268.2,59.4 269.0,59.9 269.8,60.0 270.5,59.8 271.2,59.6 272.0,59.3 272.8,59.2 273.5,59.0 274.2,58.8 275.0,58.8 275.8,58.7 276.5,58.8 277.2,59.1 278.0,59.3 278.8,59.4 279.5,59.4 280.2,59.4 281.0,59.4 281.8,59.3 282.5,59.2 283.2,59.3 284.0,59.4 284.8,59.6 285.5,59.5 286.2,59.4 287.0,59.3 287.8,59.4 288.5,59.6 289.2,59.8 290.0,59.6 290.8,59.4 291.5,59.3 292.2,59.4 293.0,59.5 293.8,59.6 294.5,59.8 295.2,60.0 296.0,60.1 296.8,60.4 297.5,60.6 298.2,60.6 299.0,60.1 299.8,59.6 300.5,59.3 301.2,59.4 302.0,59.5 302.8,59.5 303.5,59.4 304.2,59.4 305.0,59.5 305.8,59.8 306.5,60.0 307.2,59.9 308.0,59.7 308.8,59.4 309.5,59.4 310.2,59.5 311.0,59.6 311.8,59.7 312.5,59.7 313.2,59.8 314.0,59.7 314.8,59.6 315.5,59.5 316.2,59.4 317.0,59.5 317.8,59.5 318.5,59.6 319.2,59.6 320.0,59.7 320.8,59.5 321.5,59.2 322.2,59.0 323.0,59.1 323.8,59.2 324.5,59.4 325.2,59.5 326.0,59.7 326.8,59.9 327.5,59.9 328.2,60.0 329.0,60.1 329.8,60.1 330.5,60.0 331.2,59.9 332.0,59.7 332.8,59.5 333.5,59.4 334.2,59.6 335.0,59.8 335.8,60.0 336.5,60.2 337.2,60.4 338.0,60.5 338.8,60.5 339.5,60.5 340.2,60.4 341.0,60.3 341.8,60.2 342.5,60.1 343.2,60.0 344.0,59.9 344.8,60.0 345.5,60.3 346.2,60.5 347.0,60.4 347.8,60.3 348.5,60.1 349.2,60.0 350.0,59.9 350.8,59.8 351.5,59.9 352.2,60.0 353.0,60.0 353.8,60.4 354.5,60.8 355.2,61.1 356.0,60.9 356.8,60.7 357.5,60.6 358.2,60.8 359.0,60.9 359.8,61.0 360.5,60.8 361.2,60.6 362.0,60.5 362.8,60.7 363.5,61.0 364.2,61.1 365.0,60.9 365.8,60.7 366.5,60.7 367.2,60.9 368.0,61.1 368.8,61.5 369.5,62.1 370.2,62.6 371.0,62.9 371.8,63.0 372.5,63.2 373.2,63.5 374.0,63.8 374.8,64.2 375.5,64.7 376.2,65.2 377.0,65.8 377.8,66.4 378.5,67.3 379.2,68.6 380.0,70.2 380.8,72.0 381.5,73.9 382.2,75.8 383.0,77.6 383.8,79.1 384.5,80.4 385.2,81.6 386.0,82.7 386.8,83.8 387.5,84.9 388.2,86.1 389.0,87.4 389.8,88.9 390.5,90.5 391.2,92.3 392.0,94.2 392.8,96.3 393.5,98.6 394.2,101.0 395.0,103.6 395.8,106.9 396.5,110.6 397.2,114.5 398.0,118.2 398.8,121.5 399.5,124.5 400.2,127.3 401.0,130.4 401.8,134.0 402.5,137.9 403.2,142.3 404.0,147.0 404.8,151.9 405.5,156.8 406.2,161.6 407.0,166.2 407.8,170.8 408.5,175.4 409.2,180.0 410.0,184.6 410.8,189.6 411.5,194.7 412.2,199.8 413.0,204.3 413.8,208.1 414.5,211.3 415.2,214.1 416.0,216.7 416.8,219.1 417.5,221.4 418.2,223.6 419.0,225.8 419.8,228.3 420.5,230.9 421.2,233.2 422.0,234.9 422.8,235.7 423.5,235.5 424.2,234.8 425.0,234.0 425.8,233.1 426.5,231.9 427.2,230.7 428.0,229.4 428.8,228.0 429.5,226.8 430.2,225.6 431.0,224.4 431.8,223.1 432.5,221.8 433.2,220.4 434.0,219.0 434.8,217.5 435.5,216.1 436.2,214.7 437.0,213.4 437.8,212.2 438.5,211.1 439.2,210.1 440.0,209.2 440.8,208.3 441.5,207.4 442.2,206.5 443.0,205.7 443.8,204.9 444.5,204.2 445.2,203.5 446.0,202.9 446.8,202.4 447.5,201.9 448.2,201.3 449.0,200.7 449.8,200.1 450.5,199.8 451.2,199.5 452.0,199.3 452.8,198.9 453.5,198.4 454.2,198.1 455.0,198.1 455.8,198.2 456.5,198.2 457.2,198.2 458.0,198.2 458.8,198.2 459.5,198.2 460.2,198.1 461.0,198.0 461.8,197.7 462.5,197.5 463.2,197.4 464.0,197.7 464.8,198.0 465.5,198.2 466.2,198.4 467.0,198.6 467.8,198.8 468.5,199.0 469.2,199.3 470.0,199.6 470.8,200.1 471.5,200.5 472.2,200.7 473.0,200.8 473.8,201.0 474.5,201.5 475.2,202.2 476.0,202.9 476.8,203.4 477.5,203.9 478.2,204.4 479.0,205.1 479.8,205.8 480.5,206.4 481.2,207.0 482.0,207.6 482.8,208.2 483.5,208.7 484.2,209.3 485.0,209.9 485.8,210.5 486.5,211.2 487.2,211.9 488.0,212.5 488.8,213.2 489.5,213.9 490.2,214.5 491.0,215.2 491.8,215.9 492.5,216.6 493.2,217.3 494.0,218.0 494.8,218.7 495.5,219.4 496.2,220.0 497.0,220.7 497.8,221.3 498.5,222.1 499.2,222.9 500.0,223.7 500.8,224.4 501.5,225.1 502.2,225.8 503.0,226.5 503.8,227.2 504.5,227.8 505.2,228.5 506.0,229.2 506.8,229.9 507.5,230.7 508.2,231.4 509.0,232.1 509.8,232.8 510.5,233.4 511.2,234.0 512.0,234.7 512.8,235.3 513.5,236.0 514.2,236.7 515.0,237.3 515.8,238.0 516.5,238.7 517.2,239.4 518.0,240.2 518.8,240.7 519.5,241.3 520.2,241.9 521.0,242.7 521.8,243.5 522.5,244.3 523.2,244.9 524.0,245.5 524.8,246.1 525.5,246.7 526.2,247.3 527.0,247.9 527.8,248.6 528.5,249.3 529.2,249.9 530.0,250.3 530.8,250.7 531.5,251.0 532.2,251.3 533.0,251.5 533.8,251.7 534.5,252.1 535.2,252.5 536.0,252.9 536.8,253.3 537.5,253.8 538.2,254.1 539.0,254.4 539.8,254.7 540.5,254.8 541.2,254.8 542.0,254.8 542.8,255.0 543.5,255.3 544.2,255.5 545.0,255.7 545.8,255.8 546.5,255.9 547.2,255.7 548.0,255.5 548.8,255.3 549.5,255.3 550.2,255.4 551.0,255.4 551.8,255.3 552.5,255.1 553.2,254.9 554.0,254.7 554.8,254.5 555.5,254.3 556.2,254.1 557.0,254.0 557.8,253.8 558.5,253.6 559.2,253.4 560.0,253.1 560.8,252.8 561.5,252.4 562.2,252.0 563.0,251.6 563.8,251.1 564.5,250.7 565.2,250.3 566.0,249.8 566.8,249.4 567.5,249.1 568.2,248.7 569.0,248.3 569.8,247.7 570.5,247.2 571.2,246.7 572.0,246.2 572.8,245.7 573.5,245.2 574.2,244.6 575.0,243.9 575.8,243.3 576.5,242.6 577.2,241.9 578.0,241.4 578.8,240.8 579.5,240.4 580.2,239.7 581.0,238.9 581.8,238.2 582.5,237.7 583.2,237.3 584.0,236.9 584.8,236.3 585.5,235.7 586.2,235.1 587.0,234.7 587.8,234.4 588.5,234.0 589.2,233.5 590.0,232.9 590.8,232.3 591.5,231.6 592.2,230.8 593.0,230.1 593.8,229.6 594.5,229.1 595.2,228.7 596.0,228.2 596.8,227.8 597.5,227.3 598.2,226.8 599.0,226.3 599.8,225.8 600.5,225.3 601.2,224.8 602.0,224.2 602.8,223.7 603.5,223.1 604.2,222.7 605.0,222.2 605.8,221.8 606.5,221.4 607.2,221.0 608.0,220.5 608.8,220.0 609.5,219.6 610.2,219.1 611.0,218.7 611.8,218.4 612.5,218.0 613.2,217.4 614.0,216.7 614.8,216.0 615.5,215.8 616.2,215.6 617.0,215.4 617.8,214.8 618.5,214.2 619.2,213.7 620.0,213.4 620.8,213.1 621.5,212.8 622.2,212.2 623.0,211.7 623.8,211.1 624.5,210.6 625.2,210.0 626.0,209.5 626.8,209.1 627.5,208.7 628.2,208.2 629.0,207.6 629.8,207.0 630.5,206.4 631.2,205.9 632.0,205.4 632.8,204.8 633.5,204.2 634.2,203.7 635.0,203.1 635.8,202.6 636.5,202.1 637.2,201.6 638.0,201.0 638.8,200.3 639.5,199.7 640.2,199.0 641.0,198.3 641.8,197.6 642.5,196.7 643.2,195.9 644.0,195.1 644.8,194.2 645.5,193.4 646.2,192.5 647.0,191.5 647.8,190.6 648.5,189.6 649.2,188.7 650.0,187.7 650.8,186.8 651.5,185.8 652.2,184.8 653.0,183.8 653.8,182.9 654.5,181.9 655.2,181.0 656.0,180.0 656.8,179.1 657.5,178.1 658.2,177.2 659.0,176.2 659.8,175.2 660.5,174.2 661.2,173.3 662.0,172.3 662.8,171.3 663.5,170.3 664.2,169.3 665.0,168.3 665.8,167.3 666.5,166.3 667.2,165.4 668.0,164.4 668.8,163.4 669.5,162.5 670.2,161.5 671.0,160.6 671.8,159.6 672.5,158.7 673.2,157.8 674.0,156.8 674.8,155.9 675.5,154.9 676.2,154.0 677.0,153.1 677.8,152.2 678.5,151.2 679.2,150.3 680.0,149.4 680.8,148.5 681.5,147.7 682.2,146.8 683.0,146.0 683.8,145.1 684.5,144.2 685.2,143.4 686.0,142.6 686.8,141.8 687.5,141.1 688.2,140.3 689.0,139.5 689.8,138.7 690.5,137.9 691.2,137.1 692.0,136.3 692.8,135.5 693.5,134.8 694.2,134.1 695.0,133.4 695.8,132.7 696.5,132.0 697.2,131.2 698.0,130.5 698.8,129.8 699.5,129.0 700.2,128.3 701.0,127.6 701.8,126.9 702.5,126.2 703.2,125.4 704.0,124.7 704.8,123.9 705.5,123.2 706.2,122.6 707.0,121.9 707.8,121.2 708.5,120.4 709.2,119.6 710.0,119.0 710.8,118.5 711.5,117.9 712.2,117.2 713.0,116.6 713.8,115.9 714.5,115.2 715.2,114.6 716.0,114.0 716.8,113.5 717.5,112.9 718.2,112.4 719.0,111.9 719.8,111.4 720.5,110.9 721.2,110.2 722.0,109.6 722.8,108.9 723.5,108.4 724.2,107.9 725.0,107.4 725.8,106.9 726.5,106.4 727.2,106.0 728.0,105.4 728.8,104.8 729.5,104.3 730.2,103.9 731.0,103.5 731.8,103.2 732.5,102.9 733.2,102.6 734.0,102.1 734.8,101.4 735.5,100.7 736.2,100.2 737.0,99.9 737.8,99.6 738.5,99.1 739.2,98.4 740.0,97.8 740.8,97.4 741.5,97.1 742.2,96.8 743.0,96.4 743.8,95.9 744.5,95.4 745.2,95.0 746.0,94.7 746.8,94.3 747.5,93.9 748.2,93.6 749.0,93.3 749.8,93.0 750.5,92.7 751.2,92.4 752.0,91.9 752.8,91.4 753.5,90.9 754.2,90.6 755.0,90.2 755.8,89.8 756.5,89.3 757.2,88.9 758.0,88.5 758.8,88.3 759.5,88.1 760.2,87.9 761.0,87.4 761.8,87.0 762.5,86.7 763.2,86.5 764.0,86.3 764.8,86.0 765.5,85.6 766.2,85.2 767.0,84.9 767.8,84.8 768.5,84.7 769.2,84.3 770.0,83.6 770.8,82.9 771.5,82.6 772.2,82.5 773.0,82.4 773.8,82.3 774.5,82.1 775.2,82.0 776.0,81.6 776.8,81.2 777.5,80.8 778.2,80.5 779.0,80.2 779.8,79.9 780.5,79.7 781.2,79.5 782.0,79.3 782.8,79.0 783.5,78.6 784.2,78.3 785.0,78.2 785.8,78.1 786.5,78.1 787.2,78.1 788.0,78.2 788.8,78.2 789.5,77.8 790.2,77.4 791.0,77.1 791.8,76.6 792.5,76.1 793.2,75.7 794.0,75.6 794.8,75.4 795.5,75.3 796.2,75.1 797.0,75.0 797.8,74.9 798.5,74.9 799.2,74.9 800.0,74.7 800.8,74.3 801.5,73.9 802.2,73.6 803.0,73.5 803.8,73.3 804.5,73.3 805.2,73.3 806.0,73.4 806.8,73.3 807.5,73.1 808.2,72.9 809.0,72.7 809.8,72.4 810.5,72.0 811.2,71.8 812.0,71.5 812.8,71.3 813.5,71.1 814.2,70.9 815.0,70.7 815.8,70.6 816.5,70.6 817.2,70.5 818.0,70.2 818.8,69.8 819.5,69.6 820.2,69.8 821.0,70.0 821.8,70.2 822.5,69.8 823.2,69.5 824.0,69.3 824.8,69.3 825.5,69.3 826.2,69.3 827.0,69.4 827.8,69.4 828.5,69.4 829.2,69.1 830.0,68.9 830.8,68.6 831.5,68.2 832.2,67.7 833.0,67.6 833.8,67.8 834.5,67.9 835.2,67.9 836.0,67.9 836.8,67.8 837.5,67.5 838.2,67.1 839.0,66.8 839.8,66.6 840.5,66.4 841.2,66.3 842.0,66.3 842.8,66.3 843.5,66.3 844.2,66.0 845.0,65.7 845.8,65.4 846.5,65.7 847.2,66.0 848.0,66.3 848.8,65.7 849.5,65.1 850.2,64.5 851.0,64.6 851.8,64.6 852.5,64.7 853.2,64.7 854.0,64.8 854.8,64.8 855.5,64.7 856.2,64.6 857.0,64.5 857.8,64.5 858.5,64.5 859.2,64.4 860.0,64.4 860.8,64.3 861.5,64.2 862.2,64.1 863.0,63.9 863.8,63.9 864.5,64.0 865.2,64.1 866.0,63.9 866.8,63.3 867.5,62.8 868.2,62.7 869.0,62.9 869.8,63.2 870.5,63.1 871.2,63.0 872.0,62.8 872.8,62.8 873.5,62.8 874.2,62.9 875.0,62.9 875.8,62.8 876.5,62.8 877.2,62.6 878.0,62.3 878.8,62.1 879.5,62.1 880.2,62.1 881.0,62.1 881.8,62.2 882.5,62.4 883.2,62.5 884.0,62.4 884.8,62.3 885.5,62.1 886.2,61.9 887.0,61.7 887.8,61.6 888.5,62.0 889.2,62.3 890.0,62.6 890.8,62.6 891.5,62.6 892.2,62.3 893.0,61.7 893.8,61.1 894.5,60.9 895.2,61.1 896.0,61.3 896.8,61.5 897.5,61.8 898.2,62.1 899.0,62.0 899.8,61.7 900.5,61.4 901.2,61.2 902.0,61.1 902.8,61.0 903.5,60.9 904.2,60.8 905.0,60.7 905.8,60.6 906.5,60.5 907.2,60.4 908.0,60.4 908.8,60.4 909.5,60.4 910.2,60.3 911.0,60.2 911.8,60.1 912.5,60.3 913.2,60.4 914.0,60.6 914.8,60.4 915.5,60.2 916.2,60.0 917.0,60.0 917.8,59.9 918.5,59.9 919.2,59.7 920.0,59.6 920.8,59.5 921.5,59.7 922.2,59.8 923.0,59.9 923.8,59.7 924.5,59.6 925.2,59.5 926.0,59.6 926.8,59.7 927.5,59.8 928.2,60.0 929.0,60.2 929.8,60.2 930.5,60.1 931.2,60.0 932.0,60.0 932.8,60.0 933.5,60.0 934.2,60.0 935.0,59.9 935.8,59.9 936.5,59.9 937.2,59.8 938.0,59.8 938.8,59.7 939.5,59.7 940.2,59.6 941.0,59.6 941.8,59.6 942.5,59.5 943.2,59.7 944.0,59.8 944.8,60.0 945.5,59.7 946.2,59.4 947.0,59.2 947.8,59.5 948.5,59.9 949.2,60.2 950.0,60.0 950.8,59.8 951.5,59.6 952.2,59.5 953.0,59.3 953.8,59.3 954.5,59.3 955.2,59.3 956.0,59.3 956.8,59.3 957.5,59.3 958.2,59.3 959.0,59.4 959.8,59.5 960.5,59.6 961.2,59.4 962.0,59.3 962.8,59.3 963.5,59.6 964.2,59.9 965.0,59.9 965.8,59.6 966.5,59.3 967.2,59.0 968.0,58.8 968.8,58.5 969.5,58.6 970.2,58.9 971.0,59.1 971.8,59.0 972.5,58.8 973.2,58.6 974.0,58.8 974.8,59.1 975.5,59.4 976.2,59.6 977.0,59.7 977.8,59.9 978.5,59.9 979.2,59.8 980.0,59.7 980.8,59.4 981.5,59.1 982.2,58.8 983.0,58.9 983.8,59.0 984.5,59.1 985.2,59.5 986.0,59.9 986.8,60.2 987.5,59.9 988.2,59.7 989.0,59.5 989.8,59.5 990.5,59.4 991.2,59.5 992.0,59.6 992.8,59.8 993.5,60.0 994.2,60.2 995.0,60.4 995.8,60.4 996.5,60.2 997.2,60.1 998.0,59.9 998.8,59.7 999.5,59.5 1000.2,59.5 1001.0,59.5 1001.8,59.5 1002.5,59.6 1003.2,59.6 1004.0,59.7 1004.8,59.5 1005.5,59.4 1006.2,59.2 1007.0,59.1 1007.8,59.0 1008.5,58.9 1009.2,59.1 1010.0,59.3 1010.8,59.4 1011.5,59.3 1012.2,59.1 1013.0,59.0 1013.8,59.1 1014.5,59.3 1015.2,59.4 1016.0,59.4 1016.8,59.5 1017.5,59.5 1018.2,59.9 1019.0,60.2 1019.8,60.4 1020.5,59.9 1021.2,59.4 1022.0,59.1 1022.8,59.2 1023.5,59.3 1024.2,59.4 1025.0,59.4 1025.8,59.4 1026.5,59.4 1027.2,59.5 1028.0,59.6 1028.8,59.7 1029.5,59.8 1030.2,59.9 1031.0,59.9 1031.8,59.6 1032.5,59.4 1033.2,59.3 1034.0,59.2 1034.8,59.2 1035.5,59.1 1036.2,59.0 1037.0,58.9 1037.8,58.9 1038.5,59.0 1039.2,59.1 1040.0,59.4 1040.8,59.6 1041.5,59.8 1042.2,59.8 1043.0,59.7 1043.8,59.6 1044.5,59.5 1045.2,59.3 1046.0,59.2 1046.8,59.3 1047.5,59.4 1048.2,59.5 1049.0,59.6 1049.8,59.6 1050.5,59.7 1051.2,59.8 1052.0,59.9 1052.8,59.9 1053.5,59.8 1054.2,59.6 1055.0,59.5 1055.8,59.6 1056.5,59.6 1057.2,59.6 1058.0,59.4 1058.8,59.1 1059.5,59.0 1060.2,59.1 1061.0,59.3 1061.8,59.5 1062.5,60.0 1063.2,60.4 1064.0,60.3 1064.8,59.7 1065.5,59.1 1066.2,59.1 1067.0,59.4 1067.8,59.7 1068.5,59.8 1069.2,59.9 1070.0,60.0 1070.8,60.0 1071.5,59.9 1072.2,59.8 1073.0,59.8 1073.8,59.7 1074.5,59.7 1075.2,59.8 1076.0,59.9 1076.8,60.0 1077.5,60.1 1078.2,60.1 1079.0,60.1 1079.8,60.1 1080.5,60.1 1081.2,60.1 1082.0,59.8 1082.8,59.6 1083.5,59.4 1084.2,59.7 1085.0,59.9 1085.8,60.1 1086.5,60.0 1087.2,59.9 1088.0,59.9 1088.8,60.0 1089.5,60.0 1090.2,60.1 1091.0,60.2 1091.8,60.4 1092.5,60.5 1093.2,60.6 1094.0,60.6 1094.8,60.7 1095.5,60.7 1096.2,60.8 1097.0,60.7 1097.8,60.5 1098.5,60.3 1099.2,60.4 1100.0,60.6 1100.8,60.9 1101.5,61.0 1102.2,61.0 1103.0,61.1 1103.8,61.1 1104.5,61.1 1105.2,61.2 1106.0,61.2 1106.8,61.3 1107.5,61.4 1108.2,61.2 1109.0,61.0 1109.8,60.8 1110.5,60.9 1111.2,60.9 1112.0,60.9 1112.8,61.1 1113.5,61.3 1114.2,61.5 1115.0,61.2 1115.8,61.0 1116.5,60.8 1117.2,61.1 1118.0,61.3 1118.8,61.6 1119.5,61.5 1120.2,61.4 1121.0,61.4 1121.8,61.5 1122.5,61.6 1123.2,61.6 1124.0,61.5 1124.8,61.3 1125.5,61.3 1126.2,61.5 1127.0,61.7 1127.8,61.8 1128.5,62.0 1129.2,62.2 1130.0,62.4 1130.8,62.6 1131.5,62.8 1132.2,62.9 1133.0,63.0 1133.8,63.0 1134.5,63.0 1135.2,62.9 1136.0,62.8 1136.8,62.8 1137.5,62.8 1138.2,62.8 1139.0,62.8 1139.8,62.7 1140.5,62.7 1141.2,62.9 1142.0,63.1 1142.8,63.3 1143.5,63.3 1144.2,63.2 1145.0,63.2 1145.8,63.4 1146.5,63.5 1147.2,63.7 1148.0,63.9 1148.8,64.1 1149.5,64.3 1150.2,64.1 1151.0,63.9 1151.8,63.6 1152.5,63.5 1153.2,63.3 1154.0,63.2 1154.8,63.4 1155.5,63.5 1156.2,63.6 1157.0,63.5 1157.8,63.5 1158.5,63.5 1159.2,63.6 1160.0,63.7 1160.8,63.9 1161.5,64.3 1162.2,64.7 1163.0,64.8 1163.8,64.7 1164.5,64.6 1165.2,64.4 1166.0,64.2 1166.8,64.0 1167.5,64.2 1168.2,64.5 1169.0,64.9 1169.8,65.0 1170.5,65.2 1171.2,65.3 1172.0,65.1 1172.8,64.9 1173.5,64.7 1174.2,64.7 1175.0,64.6 1175.8,64.6 1176.5,64.7 1177.2,64.7 1178.0,64.8 1178.8,64.9 1179.5,65.0 1180.2,65.1 1181.0,65.2 1181.8,65.3 1182.5,65.3 1183.2,65.4 1184.0,65.5 1184.8,65.6 1185.5,65.6 1186.2,65.6 1187.0,65.6 1187.8,65.6 1188.5,65.6 1189.2,65.7 1190.0,65.7 1190.8,65.7 1191.5,65.7 1192.2,65.6 1193.0,65.5 1193.8,65.3 1194.5,65.0 1195.2,64.6 1196.0,64.6 1196.8,64.8 1197.5,65.0 1198.2,65.2 1199.0,65.2 1199.8,65.3 1200.5,65.3 1201.2,65.2 1202.0,64.9 1202.8,64.2 1203.5,63.1 1204.2,61.9 1205.0,60.4 1205.8,58.8 1206.5,58.1 1207.2,59.3 1208.0,61.2 1208.8,62.7 1209.5,63.9 1210.2,64.9 1211.0,65.8 1211.8,65.8 1212.5,65.8 1213.2,65.7 1214.0,65.6 1214.8,65.6 1215.5,65.6 1216.2,65.7 1217.0,65.8 1217.8,65.9 1218.5,66.0 1219.2,66.0 1220.0,66.0 1220.8,65.9 1221.5,65.9 1222.2,65.7 1223.0,65.3 1223.8,64.9 1224.5,64.7 1225.2,65.0 1226.0,65.3 1226.8,65.5 1227.5,65.5 1228.2,65.6 1229.0,65.6 1229.8,65.5 1230.5,65.4 1231.2,65.5 1232.0,65.7 1232.8,65.9 1233.5,66.1 1234.2,66.2 1235.0,66.4 1235.8,66.3 1236.5,66.0 1237.2,65.8 1238.0,65.6 1238.8,65.6 1239.5,65.5 1240.2,65.9 1241.0,66.4 1241.8,66.9 1242.5,66.5 1243.2,66.2 1244.0,65.8 1244.8,65.7 1245.5,65.6 1246.2,65.5 1247.0,65.7 1247.8,65.9 1248.5,66.1 1249.2,66.2 1250.0,66.2 1250.8,66.2 1251.5,66.0 1252.2,65.9 1253.0,65.8 1253.8,66.0 1254.5,66.3 1255.2,66.4 1256.0,66.2 1256.8,66.0 1257.5,65.8 1258.2,65.8 1259.0,65.7 1259.8,65.8 1260.5,65.9 1261.2,66.1 1262.0,66.2 1262.8,66.3 1263.5,66.4 1264.2,66.3 1265.0,66.1 1265.8,65.9 1266.5,65.9 1267.2,66.1 1268.0,66.2 1268.8,66.2 1269.5,66.2 1270.2,66.1 1271.0,66.5 1271.8,66.9 1272.5,67.4 1273.2,67.0 1274.0,66.4 1274.8,65.9 1275.5,66.2 1276.2,66.5 1277.0,66.8 1277.8,66.6 1278.5,66.4 1279.2,66.2 1280.0,66.2 1280.8,66.2 1281.5,66.2 1282.2,66.3 1283.0,66.5 1283.8,66.6 1284.5,66.6 1285.2,66.6 1286.0,66.7 1286.8,66.7 1287.5,66.8 1288.2,66.8 1289.0,66.7 1289.8,66.5 1290.5,66.4 1291.2,66.3 1292.0,66.2 1292.8,66.1 1293.5,66.1 1294.2,66.1 1295.0,66.2 1295.8,66.4 1296.5,66.6 1297.2,66.7 1298.0,66.7 1298.8,66.7 1299.5,66.8 1300.2,67.0 1301.0,67.1 1301.8,67.1 1302.5,66.9 1303.2,66.8 1304.0,66.9 1304.8,67.0 1305.5,67.1 1306.2,67.2 1307.0,67.3 1307.8,67.4 1308.5,67.3 1309.2,67.1 1310.0,66.9 1310.8,66.7 1311.5,66.5 1312.2,66.3 1313.0,66.4 1313.8,66.5 1314.5,66.6 1315.2,66.6 1316.0,66.6 1316.8,66.7 1317.5,67.2 1318.2,67.7 1319.0,68.0 1319.8,67.7 1320.5,67.4 1321.2,67.3 1322.0,67.6 1322.8,68.0 1323.5,68.2 1324.2,68.1 1325.0,68.1 1325.8,68.2 1326.5,68.4 1327.2,68.6 1328.0,68.7 1328.8,68.7 1329.5,68.6 1330.2,68.5 1331.0,68.4 1331.8,68.3 1332.5,68.3 1333.2,68.4 1334.0,68.4 1334.8,68.5 1335.5,68.6 1336.2,68.7 1337.0,68.8 1337.8,68.8 1338.5,68.9 1339.2,68.9 1340.0,68.8 1340.8,68.8 1341.5,68.9 1342.2,69.0 1343.0,69.1 1343.8,69.4 1344.5,69.7 1345.2,70.0 1346.0,69.5 1346.8,69.1 1347.5,68.8 1348.2,69.1 1349.0,69.5 1349.8,69.7 1350.5,69.6 1351.2,69.5 1352.0,69.4 1352.8,69.6 1353.5,69.8 1354.2,70.0 1355.0,70.1 1355.8,70.3 1356.5,70.3 1357.2,70.2 1358.0,70.1 1358.8,70.2 1359.5,70.3 1360.2,70.5 1361.0,70.4 1361.8,70.1 1362.5,69.7 1363.2,69.9 1364.0,70.3 1364.8,70.7 1365.5,70.7 1366.2,70.5 1367.0,70.2 1367.8,70.3 1368.5,70.5 1369.2,70.7 1370.0,70.7 1370.8,70.7 1371.5,70.6 1372.2,70.2 1373.0,69.8 1373.8,69.4 1374.5,69.7 1375.2,69.9 1376.0,70.2 1376.8,70.4 1377.5,70.5 1378.2,70.7 1379.0,70.9 1379.8,71.1 1380.5,71.3 1381.2,71.1 1382.0,70.9 1382.8,70.7 1383.5,70.7 1384.2,70.7 1385.0,70.7 1385.8,70.4 1386.5,70.2 1387.2,70.2 1388.0,70.6 1388.8,71.0 1389.5,71.3 1390.2,71.4 1391.0,71.5 1391.8,71.4 1392.5,71.1 1393.2,70.8 1394.0,70.7 1394.8,70.7 1395.5,70.6 1396.2,70.5 1397.0,70.3 1397.8,70.1 1398.5,70.3 1399.2,70.7 1400.0,71.1 1400.8,71.4 1401.5,71.7 1402.2,72.0 1403.0,71.8 1403.8,71.6 1404.5,71.3 1405.2,71.4 1406.0,71.6 1406.8,71.7 1407.5,71.7 1408.2,71.6 1409.0,71.6 1409.8,71.5 1410.5,71.3 1411.2,71.3 1412.0,71.7 1412.8,72.1 1413.5,72.4 1414.2,72.2 1415.0,71.9 1415.8,71.8 1416.5,72.0 1417.2,72.3 1418.0,72.5 1418.8,72.7 1419.5,72.9 1420.2,73.1 1421.0,73.3 1421.8,73.6 1422.5,73.8 1423.2,73.9 1424.0,74.1 1424.8,74.3 1425.5,74.5 1426.2,74.7 1427.0,74.9 1427.8,75.1 1428.5,75.3 1429.2,75.5 1430.0,75.7 1430.8,76.0 1431.5,76.4 1432.2,76.9 1433.0,77.3 1433.8,77.7 1434.5,78.0 1435.2,78.2 1436.0,78.6 1436.8,78.9 1437.5,79.3 1438.2,79.7 1439.0,80.2 1439.8,80.7 1440.5,81.3 1441.2,81.9 1442.0,82.5 1442.8,83.0 1443.5,83.5 1444.2,84.2 1445.0,84.9 1445.8,85.6 1446.5,86.4 1447.2,87.2 1448.0,88.1 1448.8,89.1 1449.5,90.2 1450.2,91.5 1451.0,92.8 1451.8,94.3 1452.5,95.8 1453.2,97.3 1454.0,98.9 1454.8,100.5 1455.5,102.1 1456.2,103.6 1457.0,105.1 1457.8,106.6 1458.5,108.1 1459.2,109.6 1460.0,111.2 1460.8,112.8 1461.5,114.4 1462.2,116.1 1463.0,117.8 1463.8,119.6 1464.5,121.5 1465.2,123.6 1466.0,125.7 1466.8,128.0 1467.5,130.3 1468.2,132.6 1469.0,135.0 1469.8,137.3 1470.5,139.6 1471.2,141.8 1472.0,144.1 1472.8,146.3 1473.5,148.5 1474.2,150.8 1475.0,153.1 1475.8,155.4 1476.5,157.8 1477.2,160.3 1478.0,163.0 1478.8,165.7 1479.5,168.5 1480.2,171.2 1481.0,173.6 1481.8,175.8 1482.5,178.0 1483.2,180.3 1484.0,182.5 1484.8,184.4 1485.5,185.8 1486.2,186.6 1487.0,186.2 1487.8,185.0 1488.5,183.3 1489.2,181.0 1490.0,178.4 1490.8,175.6 1491.5,172.7 1492.2,169.7 1493.0,165.8 1493.8,161.3 1494.5,156.4 1495.2,151.5 1496.0,146.9 1496.8,142.8 1497.5,139.1 1498.2,135.5 1499.0,132.0 1499.8,128.7 1500.5,125.5 1501.2,122.6 1502.0,119.8 1502.8,117.1 1503.5,114.4 1504.2,111.9 1505.0,109.5 1505.8,107.2 1506.5,105.1 1507.2,103.2 1508.0,101.6 1508.8,100.1 1509.5,98.7 1510.2,97.4 1511.0,96.2 1511.8,95.0 1512.5,93.9 1513.2,92.9 1514.0,92.0 1514.8,91.0 1515.5,90.4 1516.2,89.8 1517.0,89.2 1517.8,88.4 1518.5,87.6 1519.2,86.8 1520.0,86.3 1520.8,85.9 1521.5,85.4 1522.2,85.0 1523.0,84.7 1523.8,84.3 1524.5,84.1 1525.2,83.8 1526.0,83.6 1526.8,83.4 1527.5,83.2 1528.2,82.9 1529.0,82.6 1529.8,82.3 1530.5,82.3 1531.2,82.5 1532.0,82.6 1532.8,82.5 1533.5,82.2 1534.2,82.0 1535.0,81.7 1535.8,81.4 1536.5,81.1 1537.2,81.7 1538.0,82.5 1538.8,83.3 1539.5,83.1 1540.2,82.7 1541.0,82.4 1541.8,82.6 1542.5,82.8 1543.2,82.9 1544.0,82.5 1544.8,82.2 1545.5,81.9 1546.2,82.3 1547.0,82.6 1547.8,83.0 1548.5,83.0 1549.2,83.1 1550.0,83.1 1550.8,83.1 1551.5,83.2 1552.2,83.1 1553.0,82.9 1553.8,82.7 1554.5,82.6 1555.2,82.4 1556.0,82.3 1556.8,82.3 1557.5,82.5 1558.2,82.7 1559.0,82.7 1559.8,82.5 1560.5,82.3 1561.2,82.3 1562.0,82.5 1562.8,82.6 1563.5,82.9 1564.2,83.3 1565.0,83.6 1565.8,83.7 1566.5,83.7 1567.2,83.7 1568.0,83.9 1568.8,84.1 1569.5,84.4 1570.2,84.5 1571.0,84.7 1571.8,84.9 1572.5,85.3 1573.2,85.7 1574.0,86.1 1574.8,86.2 1575.5,86.3 1576.2,86.4 1577.0,86.6 1577.8,86.8 1578.5,87.2 1579.2,87.7 1580.0,88.2 1580.8,88.4 1581.5,88.2 1582.2,87.8 1583.0,87.6 1583.8,87.5 1584.5,87.5 1585.2,87.5 1586.0,87.6 1586.8,87.8 1587.5,87.8 1588.2,87.6 1589.0,87.7 1589.8,88.0 1590.5,88.5 1591.2,89.1 1592.0,89.6 1592.8,89.9 1593.5,90.2 1594.2,90.6 1595.0,91.0 1595.8,91.3 1596.5,91.5 1597.2,91.6 1598.0,91.5 1598.8,91.1 1599.5,90.6 1600.2,90.0 1601.0,89.7 1601.8,89.4 1602.5,89.0 1603.2,88.5 1604.0,88.0 1604.8,87.5 1605.5,87.1 1606.2,86.6 1607.0,86.3 1607.8,86.0 1608.5,85.7 1609.2,85.4 1610.0,85.3 1610.8,85.3 1611.5,85.2 1612.2,85.0 1613.0,84.7 1613.8,84.5 1614.5,84.0 1615.2,83.5 1616.0,83.1 1616.8,82.7 1617.5,82.4 1618.2,82.1 1619.0,82.2 1619.8,82.3 1620.5,82.3 1621.2,82.0 1622.0,81.8 1622.8,81.7 1623.5,81.8 1624.2,81.9 1625.0,81.9 1625.8,81.8 1626.5,81.6 1627.2,81.6 1628.0,81.5 1628.8,81.5 1629.5,81.5 1630.2,81.5 1631.0,81.5 1631.8,81.3 1632.5,81.1 1633.2,80.9 1634.0,80.9 1634.8,80.8 1635.5,80.8 1636.2,80.6 1637.0,80.4 1637.8,80.2 1638.5,80.3 1639.2,80.5 1640.0,80.7 1640.8,80.5 1641.5,80.3 1642.2,80.2 1643.0,80.3 1643.8,80.5 1644.5,80.6 1645.2,80.5 1646.0,80.3 1646.8,80.2 1647.5,80.4 1648.2,80.5 1649.0,80.7 1649.8,80.7 1650.5,80.8 1651.2,80.7 1652.0,80.5 1652.8,80.2 1653.5,80.1 1654.2,80.3 1655.0,80.4 1655.8,80.5 1656.5,80.6 1657.2,80.6 1658.0,80.8 1658.8,81.1 1659.5,81.5 1660.2,81.7 1661.0,82.0 1661.8,82.2 1662.5,82.3 1663.2,82.2 1664.0,82.2 1664.8,82.2 1665.5,82.1 1666.2,82.1 1667.0,82.4 1667.8,82.7 1668.5,83.1 1669.2,82.9 1670.0,82.6 1670.8,82.3 1671.5,82.8 1672.2,83.3 1673.0,83.8 1673.8,83.6 1674.5,83.5 1675.2,83.3 1676.0,83.2 1676.8,83.1 1677.5,83.1 1678.2,83.9 1679.0,84.8 1679.8,85.5 1680.5,85.5 1681.2,85.5 1682.0,85.5 1682.8,85.4 1683.5,85.2 1684.2,85.3 1685.0,85.6 1685.8,86.0 1686.5,86.3 1687.2,86.5 1688.0,86.7 1688.8,87.0 1689.5,87.3 1690.2,87.7 1691.0,87.9 1691.8,88.1 1692.5,88.3 1693.2,88.7 1694.0,89.1 1694.8,89.6 1695.5,90.1 1696.2,90.6 1697.0,91.2 1697.8,91.6 1698.5,92.0 1699.2,92.5 1700.0,93.1 1700.8,93.6 1701.5,94.3 1702.2,94.8 1703.0,95.4 1703.8,96.1 1704.5,96.9 1705.2,97.7 1706.0,98.5 1706.8,99.6 1707.5,100.8 1708.2,102.1 1709.0,103.5 1709.8,105.0 1710.5,106.6 1711.2,108.3 1712.0,110.1 1712.8,112.1 1713.5,114.3 1714.2,116.5 1715.0,118.9 1715.8,121.3 1716.5,124.0 1717.2,126.8 1718.0,129.8 1718.8,132.9 1719.5,136.0 1720.2,139.2 1721.0,142.2 1721.8,145.4 1722.5,148.5 1723.2,151.8 1724.0,155.1 1724.8,158.6 1725.5,162.1 1726.2,165.7 1727.0,169.4 1727.8,173.2 1728.5,177.0 1729.2,181.0 1730.0,185.0 1730.8,189.2 1731.5,193.7 1732.2,198.3 1733.0,203.0 1733.8,207.7 1734.5,212.2 1735.2,216.6 1736.0,220.7 1736.8,224.7 1737.5,228.5 1738.2,232.2 1739.0,235.9 1739.8,239.7 1740.5,243.5 1741.2,247.5 1742.0,251.7 1742.8,255.9 1743.5,260.1 1744.2,264.4 1745.0,268.8 1745.8,273.5 1746.5,278.5 1747.2,283.9 1748.0,289.8 1748.8,296.5 1749.5,303.8 1750.2,311.4 1751.0,319.2 1751.8,327.1 1752.5,334.7 1753.2,342.3 1754.0,350.2 1754.8,357.9 1755.5,364.9 1756.2,371.4 1757.0,377.6 1757.8,383.3 1758.5,387.9 1759.2,391.8 1760.0,395.6 1760.8,398.9 1761.5,401.2 1762.2,401.6 1763.0,401.2 1763.8,399.5 1764.5,397.2 1765.2,394.9 1766.0,392.5 1766.8,389.5 1767.5,386.7 1768.2,384.9 1769.0,384.9 1769.8,385.5 1770.5,386.7 1771.2,388.1 1772.0,390.0 1772.8,392.6 1773.5,395.6 1774.2,398.8 1775.0,402.5 1775.8,406.8 1776.5,411.1 1777.2,414.5 1778.0,417.1 1778.8,419.4 1779.5,421.8 1780.2,424.8 1781.0,429.2 1781.8,435.6 1782.5,443.0 1783.2,451.5 1784.0,461.1 1784.8,471.6 1785.5,483.7 1786.2,498.0 1787.0,513.1 1787.8,528.3 1788.5,544.2 1789.2,560.7 1790.0,578.0 1790.8,599.5 1791.5,625.4 1792.2,646.3 1793.0,662.2 1793.8,675.9 1794.5,688.7 1795.2,700.2 1796.0,711.1 1796.8,721.8 1797.5,733.0 1798.2,744.2 1799.0,755.3 1799.8,766.0 1800.5,776.1 1801.2,785.3 1802.0,794.4 1802.8,803.8 1803.5,814.4 1804.2,826.6 1805.0,838.2 1805.8,847.0 1806.5,854.2 1807.2,860.8 1808.0,867.4 1808.8,874.6 1809.5,882.1 1810.2,889.8 1811.0,897.3 1811.8,904.6 1812.5,911.4 1813.2,918.0 1814.0,924.5 1814.8,930.8 1815.5,936.9 1816.2,942.8 1817.0,948.6 1817.8,954.5 1818.5,960.3 1819.2,965.7 1820.0,970.5 1820.8,974.5 1821.5,978.2 1822.2,981.6 1823.0,984.6 1823.8,987.4 1824.5,989.7 1825.2,991.6 1826.0,993.1 1826.8,994.5 1827.5,995.8 1828.2,997.0 1829.0,997.9 1829.8,998.6 1830.5,999.0 1831.2,998.7 1832.0,998.1 1832.8,997.3 1833.5,996.3 1834.2,994.6 1835.0,992.6 1835.8,990.1 1836.5,986.6 1837.2,982.6 1838.0,978.4 1838.8,974.4 1839.5,970.4 1840.2,966.3 1841.0,962.2 1841.8,957.9 1842.5,953.4 1843.2,948.9 1844.0,944.3 1844.8,939.5 1845.5,934.3 1846.2,928.4 1847.0,921.4 1847.8,913.5 1848.5,905.8 1849.2,899.0 1850.0,893.0 1850.8,887.4 1851.5,882.0 1852.2,876.6 1853.0,871.1 1853.8,865.7 1854.5,860.5 1855.2,855.7 1856.0,851.1 1856.8,846.8 1857.5,843.0 1858.2,839.5 1859.0,836.1 1859.8,833.2 1860.5,830.8 1861.2,828.9 1862.0,827.3 1862.8,825.8 1863.5,824.5 1864.2,823.3 1865.0,822.1 1865.8,820.8 1866.5,819.3 1867.2,817.7 1868.0,815.7 1868.8,813.5 1869.5,811.1 1870.2,808.2 1871.0,804.7 1871.8,800.6 1872.5,794.0 1873.2,785.5 1874.0,777.3 1874.8,770.3 1875.5,763.3 1876.2,755.1 1877.0,743.6 1877.8,732.5 1878.5,724.0 1879.2,716.5 1880.0,710.5 1880.8,705.2 1881.5,700.8 1882.2,698.3 1883.0,697.2 1883.8,696.2 1884.5,695.7 1885.2,696.5 1886.0,697.6 1886.8,698.7 1887.5,699.2 1888.2,699.0 1889.0,698.6 1889.8,698.0 1890.5,697.6 1891.2,692.9 1892.0,684.8 1892.8,675.2 1893.5,665.2 1894.2,657.5 1895.0,650.6 1895.8,643.1 1896.5,635.2 1897.2,625.9 1898.0,609.5 1898.8,589.3 1899.5,579.2 1900.2,571.0 1901.0,564.4 1901.8,559.0 1902.5,554.4 1903.2,550.4 1904.0,547.2 1904.8,544.4 1905.5,541.7 1906.2,539.1 1907.0,536.1 1907.8,532.9 1908.5,529.6 1909.2,526.2 1910.0,522.7 1910.8,519.0 1911.5,515.1 1912.2,510.9 1913.0,506.2 1913.8,501.2 1914.5,496.3 1915.2,491.4 1916.0,486.7 1916.8,482.0 1917.5,477.2 1918.2,472.8 1919.0,468.8 1919.8,465.2 1920.5,461.6 1921.2,458.6 1922.0,456.2 1922.8,454.7 1923.5,453.5 1924.2,452.8 1925.0,453.4 1925.8,455.5 1926.5,458.7 1927.2,462.5 1928.0,467.9 1928.8,476.3 1929.5,485.2 1930.2,493.7 1931.0,502.6 1931.8,509.9 1932.5,514.4 1933.2,517.4 1934.0,516.3 1934.8,511.4 1935.5,506.3 1936.2,503.6 1937.0,501.1 1937.8,499.2 1938.5,498.0 1939.2,498.1 1940.0,499.1 1940.8,500.4 1941.5,501.9 1942.2,503.2 1943.0,504.2 1943.8,503.0 1944.5,498.0 1945.2,492.1 1946.0,487.7 1946.8,483.4 1947.5,479.3 1948.2,475.5 1949.0,472.1 1949.8,469.2 1950.5,466.5 1951.2,463.9 1952.0,461.6 1952.8,459.6 1953.5,457.9 1954.2,456.5 1955.0,455.2 1955.8,454.0 1956.5,453.0 1957.2,452.2 1958.0,451.5 1958.4,451.3"/>
<polyline class="curve" stroke="#0000ff" points="224.0,63.9 224.8,64.2 225.5,64.5 226.2,64.2 227.0,64.0 227.8,63.8 228.5,63.6 229.2,63.5 230.0,63.4 230.8,63.6 231.5,63.7 232.2,63.8 233.0,63.8 233.8,63.7 234.5,63.6 235.2,63.4 236.0,63.2 236.8,63.2 237.5,63.3 238.2,63.5 239.0,63.5 239.8,63.5 240.5,63.4 241.2,63.3 242.0,63.0 242.8,62.7 243.5,62.8 244.2,63.1 245.0,63.4 245.8,63.4 246.5,63.4 247.2,63.4 248.0,63.4 248.8,63.3 249.5,63.3 250.2,63.2 251.0,63.0 251.8,62.8 252.5,63.0 253.2,63.2 254.0,63.4 254.8,63.4 255.5,63.5 256.2,63.5 257.0,63.5 257.8,63.6 258.5,63.6 259.2,63.4 260.0,63.2 260.8,63.1 261.5,63.4 262.2,63.6 263.0,63.8 263.8,63.5 264.5,63.2 265.2,63.0 266.0,63.2 266.8,63.4 267.5,63.6 268.2,63.8 269.0,64.0 269.8,64.0 270.5,63.7 271.2,63.4 272.0,63.3 272.8,63.3 273.5,63.3 274.2,63.5 275.0,63.7 275.8,64.0 276.5,63.9 277.2,63.7 278.0,63.5 278.8,63.4 279.5,63.4 280.2,63.5 281.0,63.5 281.8,63.6 282.5,63.7 283.2,63.8 284.0,64.0 284.8,64.1 285.5,63.6 286.2,63.1 287.0,62.6 287.8,62.8 288.5,63.1 289.2,63.3 290.0,63.2 290.8,63.2 291.5,63.2 292.2,63.2 293.0,63.2 293.8,63.2 294.5,63.2 295.2,63.3 296.0,63.3 296.8,63.3 297.5,63.3 298.2,63.4 299.0,63.5 299.8,63.7 300.5,63.8 301.2,63.6 302.0,63.4 302.8,63.4 303.5,63.5 304.2,63.7 305.0,63.8 305.8,63.9 306.5,63.9 307.2,63.8 308.0,63.6 308.8,63.5 309.5,63.5 310.2,63.7 311.0,63.8 311.8,64.0 312.5,64.2 313.2,64.5 314.0,64.4 314.8,64.2 315.5,64.0 316.2,63.8 317.0,63.7 317.8,63.5 318.5,63.6 319.2,63.7 320.0,63.8 320.8,63.7 321.5,63.5 322.2,63.4 323.0,63.6 323.8,63.8 324.5,64.0 325.2,64.1 326.0,64.2 326.8,64.2 327.5,64.0 328.2,63.7 329.0,63.6 329.8,63.7 330.5,63.8 331.2,63.9 332.0,64.1 332.8,64.3 333.5,64.3 334.2,64.1 335.0,63.9 335.8,63.8 336.5,63.9 337.2,64.0 338.0,64.0 338.8,63.8 339.5,63.6 340.2,63.6 341.0,63.6 341.8,63.6 342.5,63.7 343.2,63.7 344.0,63.8 344.8,64.1 345.5,64.6 346.2,65.0 347.0,64.8 347.8,64.4 348.5,64.0 349.2,64.0 350.0,64.0 350.8,64.0 351.5,64.0 352.2,64.0 353.0,64.1 353.8,64.2 354.5,64.2 355.2,64.3 356.0,64.5 356.8,64.7 357.5,64.8 358.2,64.8 359.0,64.7 359.8,64.8 360.5,65.1 361.2,65.4 362.0,65.6 362.8,65.4 363.5,65.2 364.2,65.1 365.0,65.4 365.8,65.6 366.5,65.7 367.2,65.6 368.0,65.5 368.8,65.5 369.5,65.6 370.2,65.8 371.0,65.7 371.8,65.7 372.5,65.7 373.2,65.9 374.0,66.4 374.8,66.9 375.5,67.3 376.2,67.7 377.0,68.1 377.8,68.5 378.5,68.9 379.2,69.4 380.0,69.7 380.8,70.1 381.5,70.5 382.2,71.2 383.0,72.0 383.8,72.8 384.5,73.5 385.2,74.2 386.0,74.9 386.8,75.8 387.5,76.7 388.2,77.6 389.0,78.5 389.8,79.5 390.5,80.6 391.2,81.8 392.0,83.1 392.8,84.5 393.5,86.1 394.2,87.7 395.0,89.4 395.8,91.2 396.5,93.0 397.2,94.9 398.0,96.9 398.8,99.1 399.5,101.4 400.2,103.7 401.0,106.1 401.8,108.5 402.5,111.0 403.2,113.5 404.0,116.1 404.8,118.7 405.5,121.4 406.2,124.2 407.0,127.0 407.8,129.8 408.5,132.8 409.2,135.9 410.0,139.1 410.8,142.1 411.5,144.7 412.2,146.9 413.0,149.0 413.8,151.0 414.5,152.8 415.2,154.4 416.0,155.9 416.8,157.3 417.5,158.6 418.2,159.9 419.0,161.1 419.8,162.3 420.5,163.4 421.2,164.3 422.0,164.8 422.8,165.0 423.5,164.8 424.2,164.4 425.0,163.6 425.8,162.6 426.5,161.4 427.2,160.2 428.0,158.9 428.8,157.6 429.5,156.4 430.2,155.3 431.0,154.4 431.8,153.5 432.5,152.6 433.2,151.8 434.0,150.9 434.8,150.1 435.5,149.3 436.2,148.5 437.0,147.7 437.8,147.0 438.5,146.2 439.2,145.5 440.0,144.9 440.8,144.3 441.5,143.6 442.2,142.9 443.0,142.1 443.8,141.5 444.5,141.1 445.2,140.6 446.0,140.0 446.8,139.3 447.5,138.7 448.2,138.2 449.0,137.9 449.8,137.6 450.5,137.3 451.2,137.1 452.0,136.9 452.8,136.6 453.5,136.3 454.2,136.0 455.0,135.8 455.8,135.6 456.5,135.4 457.2,135.3 458.0,135.2 458.8,135.2 459.5,135.3 460.2,135.4 461.0,135.5 461.8,135.6 462.5,135.7 463.2,135.8 464.0,135.9 464.8,135.9 465.5,135.9 466.2,135.8 467.0,135.7 467.8,135.7 468.5,135.8 469.2,135.9 470.0,136.1 470.8,136.2 471.5,136.3 472.2,136.5 473.0,136.9 473.8,137.2 474.5,137.2 475.2,137.0 476.0,136.9 476.8,137.2 477.5,137.8 478.2,138.4 479.0,138.5 479.8,138.4 480.5,138.4 481.2,138.6 482.0,138.8 482.8,139.1 483.5,139.5 484.2,139.9 485.0,140.3 485.8,140.7 486.5,141.1 487.2,141.5 488.0,141.7 488.8,142.0 489.5,142.3 490.2,142.7 491.0,143.1 491.8,143.5 492.5,143.8 493.2,144.0 494.0,144.4 494.8,144.8 495.5,145.2 496.2,145.6 497.0,146.0 497.8,146.3 498.5,146.5 499.2,146.7 500.0,146.9 500.8,147.3 501.5,147.8 502.2,148.2 503.0,148.6 503.8,148.8 504.5,149.0 505.2,149.3 506.0,149.7 506.8,150.0 507.5,150.3 508.2,150.5 509.0,150.7 509.8,151.1 510.5,151.4 511.2,151.8 512.0,152.2 512.8,152.6 513.5,153.0 514.2,153.2 515.0,153.2 515.8,153.2 516.5,153.7 517.2,154.2 518.0,154.6 518.8,154.9 519.5,155.1 520.2,155.3 521.0,155.6 521.8,155.8 522.5,156.0 523.2,156.0 524.0,155.9 524.8,156.0 525.5,156.4 526.2,156.9 527.0,157.3 527.8,157.5 528.5,157.8 529.2,158.0 530.0,157.9 530.8,157.9 531.5,157.9 532.2,158.1 533.0,158.4 533.8,158.4 534.5,158.2 535.2,157.9 536.0,158.1 536.8,158.6 537.5,159.1 538.2,159.3 539.0,159.1 539.8,159.0 540.5,159.2 541.2,159.4 542.0,159.7 542.8,159.5 543.5,159.1 544.2,158.7 545.0,158.9 545.8,159.2 546.5,159.6 547.2,159.4 548.0,159.2 548.8,159.0 549.5,159.1 550.2,159.2 551.0,159.2 551.8,158.9 552.5,158.5 553.2,158.2 554.0,158.1 554.8,158.1 555.5,158.0 556.2,158.3 557.0,158.6 557.8,158.6 558.5,158.1 559.2,157.6 560.0,157.2 560.8,157.0 561.5,156.9 562.2,156.7 563.0,156.6 563.8,156.4 564.5,156.2 565.2,155.8 566.0,155.5 566.8,155.3 567.5,155.3 568.2,155.2 569.0,155.1 569.8,154.8 570.5,154.6 571.2,154.1 572.0,153.6 572.8,153.0 573.5,152.6 574.2,152.2 575.0,151.8 575.8,151.7 576.5,151.8 577.2,151.9 578.0,151.7 578.8,151.4 579.5,151.1 580.2,150.8 581.0,150.5 581.8,150.2 582.5,150.0 583.2,149.7 584.0,149.4 584.8,148.9 585.5,148.4 586.2,147.9 587.0,147.7 587.8,147.5 588.5,147.3 589.2,146.9 590.0,146.5 590.8,146.1 591.5,145.8 592.2,145.6 593.0,145.4 593.8,145.4 594.5,145.5 595.2,145.4 596.0,144.9 596.8,144.5 597.5,144.3 598.2,144.4 599.0,144.6 599.8,144.4 600.5,143.9 601.2,143.4 602.0,143.1 602.8,142.8 603.5,142.5 604.2,142.3 605.0,142.3 605.8,142.2 606.5,142.1 607.2,142.0 608.0,141.9 608.8,141.7 609.5,141.3 610.2,140.9 611.0,140.5 611.8,140.1 612.5,139.7 613.2,139.7 614.0,139.7 614.8,139.7 615.5,139.7 616.2,139.6 617.0,139.6 617.8,139.1 618.5,138.7 619.2,138.3 620.0,138.1 620.8,137.9 621.5,137.7 622.2,137.8 623.0,137.8 623.8,137.8 624.5,137.5 625.2,137.2 626.0,136.9 626.8,136.5 627.5,136.2 628.2,135.9 629.0,135.8 629.8,135.6 630.5,135.5 631.2,135.2 632.0,134.9 632.8,134.7 633.5,134.6 634.2,134.5 635.0,134.2 635.8,133.9 636.5,133.6 637.2,133.4 638.0,133.2 638.8,133.0 639.5,132.6 640.2,132.2 641.0,131.8 641.8,131.2 642.5,130.6 643.2,130.0 644.0,129.7 644.8,129.4 645.5,129.0 646.2,128.6 647.0,128.2 647.8,127.7 648.5,127.2 649.2,126.6 650.0,126.1 650.8,125.6 651.5,125.1 652.2,124.7 653.0,124.0 653.8,123.4 654.5,122.8 655.2,122.3 656.0,121.8 656.8,121.3 657.5,121.0 658.2,120.7 659.0,120.3 659.8,119.7 660.5,119.1 661.2,118.5 662.0,118.0 662.8,117.5 663.5,117.1 664.2,116.9 665.0,116.7 665.8,116.4 666.5,115.8 667.2,115.2 668.0,114.7 668.8,114.3 669.5,113.9 670.2,113.5 671.0,112.9 671.8,112.4 672.5,112.0 673.2,111.5 674.0,111.1 674.8,110.7 675.5,110.3 676.2,109.9 677.0,109.5 677.8,109.2 678.5,108.8 679.2,108.5 680.0,108.1 680.8,107.7 681.5,107.1 682.2,106.5 683.0,105.8 683.8,105.6 684.5,105.5 685.2,105.3 686.0,104.7 686.8,104.1 687.5,103.5 688.2,103.1 689.0,102.7 689.8,102.3 690.5,102.1 691.2,101.8 692.0,101.5 692.8,101.0 693.5,100.6 694.2,100.1 695.0,99.6 695.8,99.0 696.5,98.7 697.2,98.7 698.0,98.6 698.8,98.3 699.5,97.7 700.2,97.1 701.0,96.7 701.8,96.5 702.5,96.3 703.2,96.0 704.0,95.7 704.8,95.4 705.5,95.2 706.2,95.0 707.0,94.9 707.8,94.5 708.5,94.0 709.2,93.5 710.0,93.3 710.8,93.2 711.5,93.1 712.2,92.7 713.0,92.2 713.8,91.8 714.5,91.7 715.2,91.6 716.0,91.6 716.8,91.1 717.5,90.7 718.2,90.2 719.0,90.0 719.8,89.8 720.5,89.6 721.2,89.6 722.0,89.6 722.8,89.5 723.5,89.1 724.2,88.7 725.0,88.3 725.8,88.0 726.5,87.8 727.2,87.6 728.0,87.6 728.8,87.6 729.5,87.4 730.2,87.0 731.0,86.5 731.8,86.1 732.5,85.7 733.2,85.4 734.0,85.2 734.8,85.1 735.5,85.1 736.2,84.8 737.0,84.3 737.8,83.9 738.5,83.8 739.2,83.8 740.0,83.9 740.8,83.8 741.5,83.6 742.2,83.4 743.0,83.0 743.8,82.6 744.5,82.2 745.2,81.9 746.0,81.7 746.8,81.5 747.5,81.4 748.2,81.3 749.0,81.2 749.8,81.0 750.5,80.8 751.2,80.6 752.0,80.3 752.8,80.0 753.5,79.7 754.2,79.7 755.0,79.8 755.8,79.7 756.5,79.2 757.2,78.7 758.0,78.3 758.8,78.3 759.5,78.3 760.2,78.3 761.0,78.1 761.8,78.0 762.5,77.8 763.2,77.7 764.0,77.5 764.8,77.4 765.5,77.3 766.2,77.2 767.0,77.0 767.8,76.6 768.5,76.3 769.2,76.2 770.0,76.3 770.8,76.4 771.5,76.2 772.2,76.0 773.0,75.7 773.8,75.5 774.5,75.3 775.2,75.1 776.0,74.9 776.8,74.6 777.5,74.4 778.2,74.3 779.0,74.2 779.8,74.1 780.5,74.1 781.2,74.2 782.0,74.3 782.8,74.0 783.5,73.7 784.2,73.4 785.0,73.4 785.8,73.4 786.5,73.4 787.2,73.4 788.0,73.4 788.8,73.4 789.5,73.3 790.2,73.1 791.0,73.0 791.8,73.0 792.5,73.0 793.2,72.8 794.0,72.4 794.8,72.1 795.5,71.8 796.2,71.6 797.0,71.3 797.8,71.3 798.5,71.5 799.2,71.7 800.0,71.6 800.8,71.4 801.5,71.3 802.2,71.2 803.0,71.2 803.8,71.2 804.5,71.1 805.2,70.8 806.0,70.6 806.8,70.5 807.5,70.6 808.2,70.7 809.0,70.6 809.8,70.5 810.5,70.3 811.2,70.2 812.0,70.1 812.8,70.0 813.5,69.9 814.2,69.8 815.0,69.7 815.8,69.6 816.5,69.5 817.2,69.4 818.0,69.3 818.8,69.2 819.5,69.1 820.2,69.0 821.0,68.9 821.8,68.8 822.5,68.9 823.2,68.9 824.0,68.9 824.8,68.6 825.5,68.3 826.2,68.2 827.0,68.4 827.8,68.7 828.5,68.7 829.2,68.4 830.0,68.1 830.8,67.9 831.5,68.0 832.2,68.1 833.0,68.1 833.8,67.9 834.5,67.6 835.2,67.5 836.0,67.4 836.8,67.4 837.5,67.5 838.2,67.8 839.0,68.1 839.8,67.9 840.5,67.5 841.2,67.1 842.0,66.9 842.8,66.7 843.5,66.5 844.2,66.6 845.0,66.6 845.8,66.6 846.5,66.7 847.2,66.7 848.0,66.7 848.8,67.0 849.5,67.4 850.2,67.6 851.0,67.3 851.8,67.0 852.5,66.7 853.2,66.8 854.0,66.9 854.8,66.9 855.5,66.6 856.2,66.2 857.0,66.1 857.8,66.2 858.5,66.4 859.2,66.5 860.0,66.5 860.8,66.5 861.5,66.6 862.2,66.7 863.0,66.9 863.8,66.8 864.5,66.4 865.2,66.0 866.0,65.9 866.8,66.0 867.5,66.2 868.2,66.2 869.0,66.1 869.8,66.1 870.5,65.9 871.2,65.7 872.0,65.4 872.8,65.5 873.5,65.6 874.2,65.7 875.0,65.7 875.8,65.6 876.5,65.5 877.2,65.2 878.0,64.9 878.8,64.6 879.5,64.9 880.2,65.3 881.0,65.7 881.8,65.7 882.5,65.6 883.2,65.6 884.0,65.4 884.8,65.2 885.5,65.0 886.2,64.9 887.0,64.7 887.8,64.7 888.5,65.0 889.2,65.4 890.0,65.6 890.8,65.4 891.5,65.2 892.2,65.1 893.0,65.2 893.8,65.2 894.5,65.3 895.2,65.3 896.0,65.3 896.8,65.2 897.5,64.9 898.2,64.5 899.0,64.5 899.8,64.6 900.5,64.8 901.2,64.7 902.0,64.6 902.8,64.4 903.5,64.3 904.2,64.3 905.0,64.3 905.8,64.2 906.5,64.2 907.2,64.2 908.0,64.1 908.8,64.1 909.5,64.1 910.2,64.2 911.0,64.4 911.8,64.5 912.5,64.3 913.2,64.2 914.0,64.0 914.8,63.9 915.5,63.8 916.2,63.8 917.0,63.7 917.8,63.7 918.5,63.7 919.2,63.7 920.0,63.8 920.8,63.8 921.5,63.6 922.2,63.4 923.0,63.3 923.8,63.3 924.5,63.3 925.2,63.4 926.0,63.4 926.8,63.5 927.5,63.5 928.2,63.4 929.0,63.3 929.8,63.3 930.5,63.3 931.2,63.4 932.0,63.4 932.8,63.3 933.5,63.2 934.2,63.4 935.0,63.8 935.8,64.2 936.5,64.2 937.2,64.1 938.0,64.0 938.8,63.9 939.5,63.7 940.2,63.6 941.0,63.5 941.8,63.4 942.5,63.3 943.2,63.6 944.0,63.9 944.8,64.3 945.5,64.0 946.2,63.7 947.0,63.4 947.8,63.4 948.5,63.3 949.2,63.2 950.0,63.3 950.8,63.3 951.5,63.4 952.2,63.4 953.0,63.4 953.8,63.4 954.5,63.6 955.2,63.7 956.0,63.8 956.8,63.6 957.5,63.3 958.2,63.3 959.0,63.6 959.8,63.9 960.5,63.9 961.2,63.5 962.0,63.0 962.8,62.9 963.5,63.1 964.2,63.3 965.0,63.3 965.8,63.0 966.5,62.8 967.2,62.9 968.0,63.4 968.8,63.8 969.5,63.7 970.2,63.4 971.0,63.0 971.8,63.0 972.5,63.0 973.2,63.0 974.0,63.2 974.8,63.3 975.5,63.5 976.2,63.5 977.0,63.6 977.8,63.6 978.5,63.3 979.2,62.9 980.0,62.5 980.8,62.7 981.5,62.8 982.2,62.9 983.0,62.7 983.8,62.5 984.5,62.4 985.2,62.7 986.0,62.9 986.8,63.1 987.5,63.0 988.2,63.0 989.0,63.0 989.8,62.9 990.5,62.9 991.2,62.8 992.0,62.8 992.8,62.7 993.5,62.7 994.2,62.8 995.0,62.8 995.8,62.8 996.5,62.7 997.2,62.7 998.0,62.8 998.8,63.0 999.5,63.2 1000.2,63.3 1001.0,63.5 1001.8,63.6 1002.5,63.3 1003.2,62.8 1004.0,62.3 1004.8,62.3 1005.5,62.6 1006.2,62.9 1007.0,62.9 1007.8,62.9 1008.5,62.8 1009.2,62.9 1010.0,63.1 1010.8,63.2 1011.5,63.0 1012.2,62.8 1013.0,62.6 1013.8,62.7 1014.5,62.8 1015.2,62.9 1016.0,62.8 1016.8,62.7 1017.5,62.6 1018.2,62.8 1019.0,63.1 1019.8,63.3 1020.5,63.2 1021.2,63.1 1022.0,63.0 1022.8,63.0 1023.5,63.0 1024.2,63.0 1025.0,63.0 1025.8,63.1 1026.5,63.1 1027.2,63.0 1028.0,62.9 1028.8,62.8 1029.5,62.6 1030.2,62.4 1031.0,62.5 1031.8,62.8 1032.5,63.1 1033.2,63.2 1034.0,63.2 1034.8,63.1 1035.5,63.1 1036.2,63.0 1037.0,62.9 1037.8,63.1 1038.5,63.2 1039.2,63.4 1040.0,63.5 1040.8,63.5 1041.5,63.5 1042.2,63.2 1043.0,62.9 1043.8,62.5 1044.5,62.6 1045.2,62.6 1046.0,62.6 1046.8,63.0 1047.5,63.4 1048.2,63.7 1049.0,63.7 1049.8,63.7 1050.5,63.6 1051.2,63.3 1052.0,62.9 1052.8,62.7 1053.5,62.6 1054.2,62.5 1055.0,62.5 1055.8,62.6 1056.5,62.7 1057.2,62.7 1058.0,62.7 1058.8,62.8 1059.5,62.7 1060.2,62.5 1061.0,62.4 1061.8,62.4 1062.5,62.7 1063.2,62.9 1064.0,62.9 1064.8,62.7 1065.5,62.5 1066.2,62.4 1067.0,62.4 1067.8,62.5 1068.5,62.7 1069.2,63.0 1070.0,63.3 1070.8,63.2 1071.5,63.0 1072.2,62.7 1073.0,62.8 1073.8,62.9 1074.5,63.0 1075.2,63.1 1076.0,63.2 1076.8,63.3 1077.5,63.3 1078.2,63.3 1079.0,63.4 1079.8,63.2 1080.5,63.0 1081.2,62.9 1082.0,62.9 1082.8,63.0 1083.5,63.0 1084.2,62.9 1085.0,62.7 1085.8,62.7 1086.5,63.1 1087.2,63.5 1088.0,63.7 1088.8,63.6 1089.5,63.4 1090.2,63.2 1091.0,62.9 1091.8,62.7 1092.5,62.6 1093.2,62.7 1094.0,62.9 1094.8,63.1 1095.5,63.2 1096.2,63.3 1097.0,63.3 1097.8,63.3 1098.5,63.2 1099.2,63.3 1100.0,63.5 1100.8,63.8 1101.5,63.8 1102.2,63.7 1103.0,63.6 1103.8,63.4 1104.5,63.1 1105.2,62.8 1106.0,62.8 1106.8,62.9 1107.5,63.0 1108.2,62.9 1109.0,62.7 1109.8,62.5 1110.5,62.7 1111.2,63.0 1112.0,63.2 1112.8,63.2 1113.5,63.2 1114.2,63.3 1115.0,63.7 1115.8,64.1 1116.5,64.4 1117.2,64.0 1118.0,63.6 1118.8,63.3 1119.5,63.0 1120.2,62.7 1121.0,62.5 1121.8,62.7 1122.5,63.0 1123.2,63.2 1124.0,63.3 1124.8,63.5 1125.5,63.5 1126.2,63.3 1127.0,63.1 1127.8,63.1 1128.5,63.2 1129.2,63.2 1130.0,63.3 1130.8,63.4 1131.5,63.5 1132.2,63.7 1133.0,63.8 1133.8,63.9 1134.5,64.0 1135.2,63.9 1136.0,63.9 1136.8,63.8 1137.5,63.7 1138.2,63.7 1139.0,63.9 1139.8,64.1 1140.5,64.4 1141.2,64.3 1142.0,64.2 1142.8,64.0 1143.5,64.0 1144.2,64.1 1145.0,64.1 1145.8,64.0 1146.5,63.9 1147.2,63.8 1148.0,64.0 1148.8,64.1 1149.5,64.2 1150.2,64.5 1151.0,64.7 1151.8,64.8 1152.5,64.5 1153.2,64.2 1154.0,64.1 1154.8,64.4 1155.5,64.6 1156.2,64.8 1157.0,65.0 1157.8,65.1 1158.5,65.2 1159.2,65.1 1160.0,64.9 1160.8,64.9 1161.5,65.0 1162.2,65.1 1163.0,65.1 1163.8,64.9 1164.5,64.8 1165.2,64.9 1166.0,65.3 1166.8,65.7 1167.5,65.8 1168.2,65.8 1169.0,65.8 1169.8,65.7 1170.5,65.6 1171.2,65.5 1172.0,65.3 1172.8,65.0 1173.5,64.7 1174.2,64.8 1175.0,65.0 1175.8,65.1 1176.5,65.4 1177.2,65.8 1178.0,66.1 1178.8,66.3 1179.5,66.4 1180.2,66.6 1181.0,66.4 1181.8,66.3 1182.5,66.2 1183.2,66.5 1184.0,66.7 1184.8,66.8 1185.5,66.7 1186.2,67.3 1187.0,67.9 1187.8,68.0 1188.5,67.5 1189.2,66.6 1190.0,66.2 1190.8,66.1 1191.5,66.1 1192.2,66.2 1193.0,66.2 1193.8,66.0 1194.5,65.7 1195.2,65.4 1196.0,65.4 1196.8,65.8 1197.5,66.1 1198.2,66.3 1199.0,66.3 1199.8,66.3 1200.5,66.1 1201.2,65.7 1202.0,65.3 1202.8,65.2 1203.5,65.1 1204.2,65.1 1205.0,65.3 1205.8,65.5 1206.5,65.8 1207.2,65.7 1208.0,65.5 1208.8,65.3 1209.5,65.1 1210.2,64.8 1211.0,64.5 1211.8,65.0 1212.5,65.5 1213.2,66.0 1214.0,65.9 1214.8,65.8 1215.5,65.7 1216.2,65.6 1217.0,66.3 1217.8,67.1 1218.5,67.9 1219.2,67.5 1220.0,66.9 1220.8,66.4 1221.5,66.3 1222.2,66.0 1223.0,65.9 1223.8,65.7 1224.5,65.7 1225.2,65.8 1226.0,66.0 1226.8,66.0 1227.5,65.8 1228.2,65.6 1229.0,65.6 1229.8,65.6 1230.5,65.7 1231.2,65.8 1232.0,66.0 1232.8,66.1 1233.5,66.1 1234.2,66.0 1235.0,65.8 1235.8,65.8 1236.5,65.8 1237.2,65.8 1238.0,66.1 1238.8,66.4 1239.5,66.7 1240.2,66.7 1241.0,66.6 1241.8,66.4 1242.5,66.4 1243.2,66.4 1244.0,66.4 1244.8,66.4 1245.5,66.3 1246.2,66.3 1247.0,66.3 1247.8,66.3 1248.5,66.3 1249.2,66.5 1250.0,66.6 1250.8,66.7 1251.5,66.5 1252.2,66.3 1253.0,66.2 1253.8,66.5 1254.5,66.7 1255.2,66.8 1256.0,66.4 1256.8,66.0 1257.5,65.7 1258.2,65.9 1259.0,66.0 1259.8,65.9 1260.5,65.8 1261.2,65.6 1262.0,65.6 1262.8,65.8 1263.5,66.0 1264.2,66.1 1265.0,66.2 1265.8,66.4 1266.5,66.5 1267.2,66.7 1268.0,66.8 1268.8,66.6 1269.5,66.3 1270.2,66.0 1271.0,66.0 1271.8,66.1 1272.5,66.2 1273.2,66.2 1274.0,66.1 1274.8,66.1 1275.5,66.0 1276.2,66.0 1277.0,65.9 1277.8,65.9 1278.5,65.8 1279.2,65.8 1280.0,66.0 1280.8,66.2 1281.5,66.3 1282.2,66.0 1283.0,65.8 1283.8,65.6 1284.5,65.9 1285.2,66.2 1286.0,66.4 1286.8,66.4 1287.5,66.4 1288.2,66.4 1289.0,66.3 1289.8,66.2 1290.5,66.1 1291.2,66.0 1292.0,66.0 1292.8,65.9 1293.5,65.9 1294.2,65.8 1295.0,66.1 1295.8,66.6 1296.5,67.1 1297.2,67.0 1298.0,66.5 1298.8,66.1 1299.5,66.2 1300.2,66.6 1301.0,67.1 1301.8,67.1 1302.5,67.0 1303.2,66.8 1304.0,66.7 1304.8,66.6 1305.5,66.4 1306.2,66.3 1307.0,66.2 1307.8,66.1 1308.5,66.4 1309.2,66.8 1310.0,67.1 1310.8,67.2 1311.5,67.3 1312.2,67.4 1313.0,67.0 1313.8,66.7 1314.5,66.3 1315.2,66.4 1316.0,66.6 1316.8,66.7 1317.5,66.9 1318.2,67.1 1319.0,67.3 1319.8,67.2 1320.5,67.1 1321.2,67.1 1322.0,67.4 1322.8,67.7 1323.5,67.7 1324.2,67.3 1325.0,67.0 1325.8,66.9 1326.5,67.0 1327.2,67.2 1328.0,67.2 1328.8,66.9 1329.5,66.7 1330.2,66.9 1331.0,67.4 1331.8,68.0 1332.5,67.9 1333.2,67.5 1334.0,67.1 1334.8,66.8 1335.5,66.6 1336.2,66.4 1337.0,66.7 1337.8,67.0 1338.5,67.3 1339.2,67.4 1340.0,67.4 1340.8,67.5 1341.5,67.8 1342.2,68.1 1343.0,68.4 1343.8,68.1 1344.5,67.8 1345.2,67.5 1346.0,67.6 1346.8,67.7 1347.5,67.8 1348.2,67.9 1349.0,68.0 1349.8,68.2 1350.5,68.3 1351.2,68.5 1352.0,68.6 1352.8,68.4 1353.5,68.2 1354.2,68.1 1355.0,68.3 1355.8,68.5 1356.5,68.6 1357.2,68.5 1358.0,68.5 1358.8,68.4 1359.5,68.3 1360.2,68.2 1361.0,68.3 1361.8,68.3 1362.5,68.4 1363.2,68.5 1364.0,68.5 1364.8,68.5 1365.5,68.5 1366.2,68.4 1367.0,68.3 1367.8,68.5 1368.5,68.8 1369.2,69.2 1370.0,69.0 1370.8,68.6 1371.5,68.3 1372.2,68.6 1373.0,69.0 1373.8,69.4 1374.5,69.5 1375.2,69.5 1376.0,69.5 1376.8,69.3 1377.5,69.2 1378.2,69.1 1379.0,69.0 1379.8,69.0 1380.5,68.9 1381.2,69.1 1382.0,69.2 1382.8,69.3 1383.5,69.4 1384.2,69.6 1385.0,69.7 1385.8,69.8 1386.5,69.8 1387.2,69.9 1388.0,69.9 1388.8,69.8 1389.5,69.9 1390.2,70.0 1391.0,70.1 1391.8,70.1 1392.5,69.9 1393.2,69.7 1394.0,69.7 1394.8,69.9 1395.5,70.0 1396.2,70.0 1397.0,69.7 1397.8,69.5 1398.5,69.7 1399.2,70.1 1400.0,70.4 1400.8,70.5 1401.5,70.4 1402.2,70.4 1403.0,70.3 1403.8,70.3 1404.5,70.2 1405.2,70.5 1406.0,70.7 1406.8,71.0 1407.5,71.0 1408.2,70.9 1409.0,70.9 1409.8,70.4 1410.5,69.9 1411.2,69.5 1412.0,69.9 1412.8,70.4 1413.5,70.8 1414.2,70.6 1415.0,70.4 1415.8,70.3 1416.5,70.8 1417.2,71.2 1418.0,71.5 1418.8,71.8 1419.5,72.0 1420.2,72.1 1421.0,71.7 1421.8,71.3 1422.5,71.1 1423.2,71.3 1424.0,71.4 1424.8,71.5 1425.5,71.5 1426.2,71.5 1427.0,71.6 1427.8,71.8 1428.5,71.9 1429.2,72.0 1430.0,72.2 1430.8,72.3 1431.5,72.4 1432.2,72.6 1433.0,72.8 1433.8,72.8 1434.5,72.6 1435.2,72.6 1436.0,73.0 1436.8,73.5 1437.5,74.0 1438.2,74.1 1439.0,74.1 1439.8,74.2 1440.5,74.6 1441.2,75.0 1442.0,75.5 1442.8,75.9 1443.5,76.4 1444.2,76.8 1445.0,77.2 1445.8,77.5 1446.5,77.9 1447.2,78.2 1448.0,78.5 1448.8,78.8 1449.5,79.4 1450.2,80.0 1451.0,80.6 1451.8,81.3 1452.5,82.0 1453.2,82.7 1454.0,83.5 1454.8,84.3 1455.5,85.1 1456.2,85.9 1457.0,86.7 1457.8,87.6 1458.5,88.3 1459.2,89.1 1460.0,89.9 1460.8,90.8 1461.5,91.6 1462.2,92.5 1463.0,93.3 1463.8,94.2 1464.5,95.1 1465.2,96.0 1466.0,96.9 1466.8,97.8 1467.5,98.8 1468.2,99.8 1469.0,100.9 1469.8,101.9 1470.5,103.1 1471.2,104.3 1472.0,105.6 1472.8,107.1 1473.5,108.6 1474.2,110.2 1475.0,111.7 1475.8,113.1 1476.5,114.5 1477.2,115.8 1478.0,116.8 1478.8,117.9 1479.5,118.9 1480.2,120.0 1481.0,121.0 1481.8,122.0 1482.5,122.9 1483.2,123.8 1484.0,124.6 1484.8,125.1 1485.5,125.4 1486.2,125.4 1487.0,125.3 1487.8,124.9 1488.5,124.2 1489.2,123.3 1490.0,122.2 1490.8,120.9 1491.5,119.5 1492.2,118.1 1493.0,116.7 1493.8,115.0 1494.5,112.9 1495.2,110.5 1496.0,108.0 1496.8,105.4 1497.5,103.1 1498.2,100.9 1499.0,98.8 1499.8,96.7 1500.5,94.6 1501.2,92.7 1502.0,90.9 1502.8,89.4 1503.5,88.2 1504.2,87.0 1505.0,85.8 1505.8,84.7 1506.5,83.7 1507.2,82.8 1508.0,81.9 1508.8,81.0 1509.5,80.2 1510.2,79.5 1511.0,78.9 1511.8,78.3 1512.5,77.8 1513.2,77.2 1514.0,76.7 1514.8,76.2 1515.5,75.8 1516.2,75.4 1517.0,75.1 1517.8,74.8 1518.5,74.5 1519.2,74.2 1520.0,73.9 1520.8,73.6 1521.5,73.4 1522.2,73.1 1523.0,72.8 1523.8,72.7 1524.5,72.9 1525.2,73.0 1526.0,73.0 1526.8,72.9 1527.5,72.7 1528.2,72.7 1529.0,72.9 1529.8,73.0 1530.5,73.2 1531.2,73.4 1532.0,73.6 1532.8,73.6 1533.5,73.4 1534.2,73.1 1535.0,73.0 1535.8,72.8 1536.5,72.7 1537.2,72.5 1538.0,72.2 1538.8,72.0 1539.5,72.0 1540.2,72.1 1541.0,72.1 1541.8,72.0 1542.5,72.0 1543.2,72.0 1544.0,72.3 1544.8,72.7 1545.5,73.0 1546.2,72.8 1547.0,72.6 1547.8,72.5 1548.5,72.7 1549.2,72.8 1550.0,72.9 1550.8,72.9 1551.5,72.9 1552.2,72.9 1553.0,73.1 1553.8,73.3 1554.5,73.5 1555.2,73.8 1556.0,74.1 1556.8,74.2 1557.5,74.0 1558.2,73.8 1559.0,73.9 1559.8,74.0 1560.5,74.2 1561.2,74.3 1562.0,74.4 1562.8,74.4 1563.5,74.7 1564.2,75.1 1565.0,75.4 1565.8,75.4 1566.5,75.3 1567.2,75.2 1568.0,75.2 1568.8,75.3 1569.5,75.4 1570.2,75.5 1571.0,75.6 1571.8,75.8 1572.5,75.9 1573.2,76.1 1574.0,76.2 1574.8,76.6 1575.5,77.0 1576.2,77.4 1577.0,77.8 1577.8,78.3 1578.5,78.6 1579.2,78.3 1580.0,78.0 1580.8,77.8 1581.5,78.2 1582.2,78.6 1583.0,78.9 1583.8,78.9 1584.5,78.9 1585.2,79.0 1586.0,78.9 1586.8,78.9 1587.5,78.9 1588.2,79.2 1589.0,79.4 1589.8,79.6 1590.5,79.7 1591.2,79.8 1592.0,79.9 1592.8,79.9 1593.5,79.9 1594.2,80.2 1595.0,80.6 1595.8,81.0 1596.5,80.8 1597.2,80.2 1598.0,79.6 1598.8,79.6 1599.5,79.7 1600.2,79.7 1601.0,79.5 1601.8,79.2 1602.5,78.9 1603.2,78.5 1604.0,78.0 1604.8,77.6 1605.5,77.3 1606.2,77.0 1607.0,76.7 1607.8,76.5 1608.5,76.2 1609.2,76.0 1610.0,75.7 1610.8,75.4 1611.5,75.2 1612.2,75.0 1613.0,74.9 1613.8,74.8 1614.5,74.6 1615.2,74.5 1616.0,74.3 1616.8,73.8 1617.5,73.3 1618.2,73.1 1619.0,73.4 1619.8,73.7 1620.5,73.9 1621.2,73.9 1622.0,73.9 1622.8,73.8 1623.5,73.6 1624.2,73.3 1625.0,73.2 1625.8,73.1 1626.5,73.1 1627.2,72.9 1628.0,72.5 1628.8,72.1 1629.5,72.0 1630.2,72.2 1631.0,72.4 1631.8,72.3 1632.5,72.2 1633.2,72.0 1634.0,72.0 1634.8,72.0 1635.5,72.0 1636.2,72.2 1637.0,72.4 1637.8,72.6 1638.5,72.4 1639.2,72.1 1640.0,71.8 1640.8,71.9 1641.5,72.0 1642.2,72.0 1643.0,71.8 1643.8,71.5 1644.5,71.3 1645.2,71.5 1646.0,71.8 1646.8,72.1 1647.5,72.1 1648.2,72.2 1649.0,72.2 1649.8,72.1 1650.5,72.0 1651.2,72.0 1652.0,72.1 1652.8,72.1 1653.5,72.3 1654.2,72.8 1655.0,73.2 1655.8,73.3 1656.5,72.9 1657.2,72.6 1658.0,72.5 1658.8,72.6 1659.5,72.7 1660.2,72.8 1661.0,72.9 1661.8,73.1 1662.5,73.4 1663.2,73.7 1664.0,74.1 1664.8,74.4 1665.5,74.6 1666.2,74.8 1667.0,74.8 1667.8,74.6 1668.5,74.5 1669.2,74.5 1670.0,74.4 1670.8,74.4 1671.5,74.5 1672.2,74.7 1673.0,74.9 1673.8,75.2 1674.5,75.5 1675.2,75.8 1676.0,75.7 1676.8,75.6 1677.5,75.6 1678.2,76.1 1679.0,76.6 1679.8,77.0 1680.5,77.1 1681.2,77.3 1682.0,77.5 1682.8,77.5 1683.5,77.6 1684.2,77.7 1685.0,78.0 1685.8,78.3 1686.5,78.6 1687.2,78.8 1688.0,79.1 1688.8,79.4 1689.5,79.8 1690.2,80.2 1691.0,80.5 1691.8,80.6 1692.5,80.7 1693.2,81.1 1694.0,81.7 1694.8,82.3 1695.5,82.7 1696.2,83.0 1697.0,83.4 1697.8,83.8 1698.5,84.3 1699.2,84.8 1700.0,85.4 1700.8,86.0 1701.5,86.7 1702.2,87.3 1703.0,87.9 1703.8,88.6 1704.5,89.4 1705.2,90.1 1706.0,90.9 1706.8,91.8 1707.5,92.7 1708.2,93.7 1709.0,94.7 1709.8,95.8 1710.5,97.0 1711.2,98.4 1712.0,99.8 1712.8,101.4 1713.5,103.4 1714.2,105.7 1715.0,108.2 1715.8,110.8 1716.5,113.5 1717.2,116.1 1718.0,118.9 1718.8,121.8 1719.5,124.7 1720.2,127.8 1721.0,130.9 1721.8,134.1 1722.5,137.4 1723.2,140.8 1724.0,144.4 1724.8,148.0 1725.5,151.6 1726.2,155.2 1727.0,158.9 1727.8,162.6 1728.5,166.3 1729.2,170.2 1730.0,174.0 1730.8,177.9 1731.5,181.8 1732.2,185.9 1733.0,190.1 1733.8,194.6 1734.5,199.4 1735.2,204.3 1736.0,209.2 1736.8,213.7 1737.5,217.9 1738.2,221.5 1739.0,224.8 1739.8,228.1 1740.5,231.7 1741.2,235.7 1742.0,239.8 1742.8,244.0 1743.5,248.4 1744.2,252.8 1745.0,257.3 1745.8,261.8 1746.5,266.4 1747.2,271.1 1748.0,275.9 1748.8,280.7 1749.5,285.5 1750.2,290.2 1751.0,294.7 1751.8,299.0 1752.5,303.3 1753.2,307.8 1754.0,312.6 1754.8,317.9 1755.5,324.0 1756.2,330.3 1757.0,336.4 1757.8,341.7 1758.5,346.6 1759.2,351.2 1760.0,355.0 1760.8,358.7 1761.5,361.8 1762.2,363.0 1763.0,363.1 1763.8,362.5 1764.5,361.9 1765.2,361.3 1766.0,360.4 1766.8,359.3 1767.5,358.9 1768.2,359.3 1769.0,360.0 1769.8,360.9 1770.5,362.1 1771.2,363.4 1772.0,364.9 1772.8,367.3 1773.5,370.6 1774.2,374.4 1775.0,378.4 1775.8,382.3 1776.5,386.1 1777.2,390.1 1778.0,394.4 1778.8,399.2 1779.5,404.8 1780.2,411.3 1781.0,418.1 1781.8,424.7 1782.5,430.7 1783.2,436.6 1784.0,443.9 1784.8,452.0 1785.5,461.0 1786.2,470.6 1787.0,481.2 1787.8,493.4 1788.5,506.3 1789.2,519.0 1790.0,531.8 1790.8,544.8 1791.5,557.6 1792.2,570.4 1793.0,583.3 1793.8,596.1 1794.5,608.6 1795.2,623.1 1796.0,643.6 1796.8,657.5 1797.5,667.8 1798.2,676.4 1799.0,684.1 1799.8,691.7 1800.5,699.8 1801.2,707.9 1802.0,715.7 1802.8,723.3 1803.5,730.4 1804.2,737.0 1805.0,743.2 1805.8,749.0 1806.5,754.7 1807.2,760.5 1808.0,766.4 1808.8,772.4 1809.5,778.4 1810.2,784.4 1811.0,790.3 1811.8,796.1 1812.5,801.9 1813.2,807.7 1814.0,813.2 1814.8,818.3 1815.5,822.9 1816.2,827.3 1817.0,831.4 1817.8,835.2 1818.5,838.5 1819.2,841.2 1820.0,843.7 1820.8,845.8 1821.5,847.5 1822.2,848.9 1823.0,850.1 1823.8,851.1 1824.5,851.9 1825.2,852.6 1826.0,853.0 1826.8,852.9 1827.5,852.5 1828.2,851.9 1829.0,851.3 1829.8,850.5 1830.5,849.3 1831.2,848.0 1832.0,846.6 1832.8,845.2 1833.5,843.6 1834.2,841.5 1835.0,838.6 1835.8,833.3 1836.5,827.1 1837.2,822.0 1838.0,818.0 1838.8,814.3 1839.5,810.7 1840.2,806.9 1841.0,802.7 1841.8,798.2 1842.5,793.3 1843.2,788.3 1844.0,783.2 1844.8,778.1 1845.5,772.9 1846.2,767.5 1847.0,762.2 1847.8,757.0 1848.5,751.9 1849.2,746.8 1850.0,741.7 1850.8,736.5 1851.5,731.0 1852.2,725.4 1853.0,720.2 1853.8,715.7 1854.5,711.6 1855.2,707.9 1856.0,704.5 1856.8,701.6 1857.5,699.4 1858.2,697.5 1859.0,695.9 1859.8,694.5 1860.5,693.2 1861.2,692.0 1862.0,690.7 1862.8,689.5 1863.5,688.5 1864.2,687.5 1865.0,686.5 1865.8,685.5 1866.5,684.4 1867.2,683.1 1868.0,681.6 1868.8,679.9 1869.5,678.0 1870.2,675.7 1871.0,672.9 1871.8,669.5 1872.5,664.0 1873.2,656.6 1874.0,649.3 1874.8,642.5 1875.5,635.6 1876.2,628.5 1877.0,620.9 1877.8,612.1 1878.5,603.0 1879.2,595.6 1880.0,589.4 1880.8,584.1 1881.5,580.9 1882.2,579.4 1883.0,578.4 1883.8,578.2 1884.5,578.3 1885.2,578.8 1886.0,579.5 1886.8,580.1 1887.5,580.3 1888.2,580.0 1889.0,579.5 1889.8,578.8 1890.5,577.8 1891.2,576.5 1892.0,572.8 1892.8,566.3 1893.5,557.4 1894.2,546.1 1895.0,535.7 1895.8,527.4 1896.5,519.9 1897.2,512.7 1898.0,505.5 1898.8,497.8 1899.5,490.0 1900.2,482.5 1901.0,476.1 1901.8,470.9 1902.5,466.3 1903.2,462.0 1904.0,458.1 1904.8,454.2 1905.5,450.3 1906.2,446.4 1907.0,442.5 1907.8,438.8 1908.5,435.1 1909.2,431.3 1910.0,427.6 1910.8,423.8 1911.5,420.1 1912.2,416.4 1913.0,412.6 1913.8,408.7 1914.5,404.6 1915.2,400.5 1916.0,396.5 1916.8,392.7 1917.5,388.7 1918.2,384.9 1919.0,381.3 1919.8,378.1 1920.5,375.5 1921.2,373.4 1922.0,371.4 1922.8,369.8 1923.5,368.0 1924.2,368.7 1925.0,370.2 1925.8,372.0 1926.5,374.2 1927.2,378.1 1928.0,385.3 1928.8,393.5 1929.5,400.9 1930.2,408.4 1931.0,415.0 1931.8,421.4 1932.5,426.7 1933.2,427.7 1934.0,424.3 1934.8,419.4 1935.5,414.9 1936.2,409.8 1937.0,406.3 1937.8,405.7 1938.5,405.5 1939.2,405.4 1940.0,405.2 1940.8,405.0 1941.5,404.4 1942.2,403.5 1943.0,402.5 1943.8,400.7 1944.5,396.8 1945.2,391.8 1946.0,387.0 1946.8,383.2 1947.5,379.8 1948.2,376.6 1949.0,373.5 1949.8,370.4 1950.5,367.1 1951.2,363.6 1952.0,360.0 1952.8,356.8 1953.5,354.5 1954.2,353.0 1955.0,351.7 1955.8,350.6 1956.5,349.6 1957.2,348.8 1958.0,348.4 1958.4,348.4"/>
<polyline class="curve" stroke="#007f00" points="224.0,65.1 224.8,64.9 225.5,64.8 226.2,65.0 227.0,65.2 227.8,65.3 228.5,65.2 229.2,65.1 230.0,65.0 230.8,64.9 231.5,64.8 232.2,64.8 233.0,64.8 233.8,64.8 234.5,64.8 235.2,64.8 236.0,64.7 236.8,64.8 237.5,64.9 238.2,65.1 239.0,65.1 239.8,64.9 240.5,64.8 241.2,64.7 242.0,64.8 242.8,64.9 243.5,64.8 244.2,64.7 245.0,64.6 245.8,64.5 246.5,64.3 247.2,64.2 248.0,64.4 248.8,64.7 249.5,65.1 250.2,64.9 251.0,64.6 251.8,64.3 252.5,64.5 253.2,64.7 254.0,65.0 254.8,64.9 255.5,64.9 256.2,64.8 257.0,64.5 257.8,64.3 258.5,64.0 259.2,64.1 260.0,64.2 260.8,64.3 261.5,64.3 262.2,64.4 263.0,64.4 263.8,64.4 264.5,64.3 265.2,64.3 266.0,64.2 266.8,64.2 267.5,64.3 268.2,64.5 269.0,64.8 269.8,64.8 270.5,64.7 271.2,64.6 272.0,64.6 272.8,64.6 273.5,64.7 274.2,64.7 275.0,64.6 275.8,64.5 276.5,64.5 277.2,64.6 278.0,64.7 278.8,64.6 279.5,64.4 280.2,64.3 281.0,64.3 281.8,64.4 282.5,64.5 283.2,64.6 284.0,64.7 284.8,64.8 285.5,64.7 286.2,64.6 287.0,64.6 287.8,64.5 288.5,64.4 289.2,64.4 290.0,64.3 290.8,64.2 291.5,64.1 292.2,64.3 293.0,64.5 293.8,64.6 294.5,64.6 295.2,64.6 296.0,64.6 296.8,64.6 297.5,64.5 298.2,64.4 299.0,64.3 299.8,64.3 300.5,64.3 301.2,64.5 302.0,64.6 302.8,64.9 303.5,65.1 304.2,65.4 305.0,65.3 305.8,64.9 306.5,64.5 307.2,64.4 308.0,64.5 308.8,64.6 309.5,64.6 310.2,64.7 311.0,64.7 311.8,64.4 312.5,64.0 313.2,63.6 314.0,63.8 314.8,64.1 315.5,64.5 316.2,64.5 317.0,64.3 317.8,64.2 318.5,64.5 319.2,64.8 320.0,65.1 320.8,64.8 321.5,64.6 322.2,64.4 323.0,64.3 323.8,64.3 324.5,64.2 325.2,64.3 326.0,64.4 326.8,64.4 327.5,64.5 328.2,64.5 329.0,64.5 329.8,64.4 330.5,64.3 331.2,64.3 332.0,64.4 332.8,64.4 333.5,64.4 334.2,64.2 335.0,64.1 335.8,64.0 336.5,64.2 337.2,64.3 338.0,64.5 338.8,64.6 339.5,64.8 340.2,64.9 341.0,65.1 341.8,65.2 342.5,65.2 343.2,65.0 344.0,64.8 344.8,64.8 345.5,64.7 346.2,64.7 347.0,64.8 347.8,64.9 348.5,65.0 349.2,65.1 350.0,65.1 350.8,65.1 351.5,65.2 352.2,65.3 353.0,65.4 353.8,65.3 354.5,65.3 355.2,65.2 356.0,65.1 356.8,65.0 357.5,64.9 358.2,65.0 359.0,65.1 359.8,65.1 360.5,65.2 361.2,65.2 362.0,65.3 362.8,65.3 363.5,65.4 364.2,65.4 365.0,65.5 365.8,65.5 366.5,65.5 367.2,65.5 368.0,65.4 368.8,65.3 369.5,65.2 370.2,65.1 371.0,65.3 371.8,65.7 372.5,66.1 373.2,66.3 374.0,66.5 374.8,66.7 375.5,67.2 376.2,67.7 377.0,68.3 377.8,68.8 378.5,69.2 379.2,69.6 380.0,70.0 380.8,70.3 381.5,70.8 382.2,71.5 383.0,72.2 383.8,72.9 384.5,73.6 385.2,74.3 386.0,75.1 386.8,75.9 387.5,76.7 388.2,77.6 389.0,78.6 389.8,79.6 390.5,80.6 391.2,81.7 392.0,83.0 392.8,84.4 393.5,86.0 394.2,87.6 395.0,89.3 395.8,91.0 396.5,92.8 397.2,94.7 398.0,96.7 398.8,98.9 399.5,101.1 400.2,103.5 401.0,105.9 401.8,108.3 402.5,110.7 403.2,113.2 404.0,115.7 404.8,118.2 405.5,120.8 406.2,123.5 407.0,126.2 407.8,129.0 408.5,132.0 409.2,135.2 410.0,138.4 410.8,141.4 411.5,144.0 412.2,146.1 413.0,148.1 413.8,150.0 414.5,151.7 415.2,153.2 416.0,154.6 416.8,155.8 417.5,157.1 418.2,158.3 419.0,159.5 419.8,160.7 420.5,161.6 421.2,162.5 422.0,163.0 422.8,163.2 423.5,163.1 424.2,162.6 425.0,161.9 425.8,161.0 426.5,159.9 427.2,158.7 428.0,157.4 428.8,156.2 429.5,155.0 430.2,154.0 431.0,153.1 431.8,152.3 432.5,151.4 433.2,150.6 434.0,149.8 434.8,149.0 435.5,148.2 436.2,147.4 437.0,146.6 437.8,145.9 438.5,145.2 439.2,144.4 440.0,143.6 440.8,142.9 441.5,142.1 442.2,141.2 443.0,140.4 443.8,139.5 444.5,138.7 445.2,137.8 446.0,137.0 446.8,136.3 447.5,135.6 448.2,135.0 449.0,134.4 449.8,133.8 450.5,133.6 451.2,133.6 452.0,133.5 452.8,133.2 453.5,133.0 454.2,132.7 455.0,132.5 455.8,132.3 456.5,132.1 457.2,131.9 458.0,131.7 458.8,131.6 459.5,131.6 460.2,131.5 461.0,131.5 461.8,131.5 462.5,131.5 463.2,131.5 464.0,131.5 464.8,131.5 465.5,131.5 466.2,131.4 467.0,131.4 467.8,131.4 468.5,131.6 469.2,131.7 470.0,131.8 470.8,131.8 471.5,131.8 472.2,132.0 473.0,132.3 473.8,132.5 474.5,132.6 475.2,132.6 476.0,132.6 476.8,132.5 477.5,132.4 478.2,132.4 479.0,132.8 479.8,133.3 480.5,133.9 481.2,134.0 482.0,134.1 482.8,134.2 483.5,134.3 484.2,134.4 485.0,134.5 485.8,134.9 486.5,135.2 487.2,135.6 488.0,135.8 488.8,136.0 489.5,136.3 490.2,136.8 491.0,137.4 491.8,137.9 492.5,138.0 493.2,138.2 494.0,138.3 494.8,138.4 495.5,138.5 496.2,138.7 497.0,139.1 497.8,139.6 498.5,140.0 499.2,140.1 500.0,140.3 500.8,140.7 501.5,141.2 502.2,141.7 503.0,141.9 503.8,141.9 504.5,141.9 505.2,142.1 506.0,142.2 506.8,142.4 507.5,142.8 508.2,143.3 509.0,143.8 509.8,144.1 510.5,144.4 511.2,144.6 512.0,144.8 512.8,145.1 513.5,145.3 514.2,145.4 515.0,145.5 515.8,145.5 516.5,146.0 517.2,146.5 518.0,147.0 518.8,147.3 519.5,147.7 520.2,148.0 521.0,147.9 521.8,147.7 522.5,147.6 523.2,148.2 524.0,148.7 524.8,149.1 525.5,149.1 526.2,149.1 527.0,149.2 527.8,149.7 528.5,150.2 529.2,150.5 530.0,150.4 530.8,150.3 531.5,150.2 532.2,150.2 533.0,150.2 533.8,150.3 534.5,150.5 535.2,150.8 536.0,150.9 536.8,150.9 537.5,150.9 538.2,150.8 539.0,150.7 539.8,150.6 540.5,150.7 541.2,150.9 542.0,151.1 542.8,151.1 543.5,150.9 544.2,150.7 545.0,150.5 545.8,150.3 546.5,150.1 547.2,150.5 548.0,150.9 548.8,151.3 549.5,150.9 550.2,150.6 551.0,150.2 551.8,150.0 552.5,149.9 553.2,149.7 554.0,149.7 554.8,149.7 555.5,149.6 556.2,149.2 557.0,148.9 557.8,148.6 558.5,148.4 559.2,148.3 560.0,148.2 560.8,148.2 561.5,148.1 562.2,148.0 563.0,147.8 563.8,147.6 564.5,147.4 565.2,147.3 566.0,147.1 566.8,147.0 567.5,146.9 568.2,146.7 569.0,146.4 569.8,146.0 570.5,145.6 571.2,145.3 572.0,145.2 572.8,145.0 573.5,144.8 574.2,144.5 575.0,144.3 575.8,143.9 576.5,143.5 577.2,143.0 578.0,142.8 578.8,142.7 579.5,142.5 580.2,142.2 581.0,141.9 581.8,141.5 582.5,141.5 583.2,141.6 584.0,141.6 584.8,141.4 585.5,141.2 586.2,141.0 587.0,140.7 587.8,140.5 588.5,140.3 589.2,139.9 590.0,139.6 590.8,139.3 591.5,139.2 592.2,139.1 593.0,139.0 593.8,138.6 594.5,138.3 595.2,138.0 596.0,137.9 596.8,137.8 597.5,137.5 598.2,137.2 599.0,136.8 599.8,136.5 600.5,136.1 601.2,135.8 602.0,135.6 602.8,135.5 603.5,135.4 604.2,135.2 605.0,134.9 605.8,134.6 606.5,134.3 607.2,133.9 608.0,133.6 608.8,133.5 609.5,133.5 610.2,133.5 611.0,133.2 611.8,132.8 612.5,132.5 613.2,132.3 614.0,132.1 614.8,132.0 615.5,131.8 616.2,131.7 617.0,131.6 617.8,131.4 618.5,131.1 619.2,130.9 620.0,130.7 620.8,130.6 621.5,130.5 622.2,130.4 623.0,130.2 623.8,130.1 624.5,130.2 625.2,130.2 626.0,130.2 626.8,130.0 627.5,129.8 628.2,129.6 629.0,129.2 629.8,128.8 630.5,128.6 631.2,128.6 632.0,128.6 632.8,128.4 633.5,128.0 634.2,127.6 635.0,127.3 635.8,127.1 636.5,126.9 637.2,126.7 638.0,126.4 638.8,126.2 639.5,125.8 640.2,125.4 641.0,125.0 641.8,124.7 642.5,124.5 643.2,124.2 644.0,123.7 644.8,123.1 645.5,122.5 646.2,121.9 647.0,121.4 647.8,120.8 648.5,120.5 649.2,120.2 650.0,119.8 650.8,119.3 651.5,118.7 652.2,118.1 653.0,117.6 653.8,117.1 654.5,116.6 655.2,116.0 656.0,115.3 656.8,114.8 657.5,114.6 658.2,114.5 659.0,114.3 659.8,113.9 660.5,113.4 661.2,113.0 662.0,112.6 662.8,112.2 663.5,111.8 664.2,111.4 665.0,111.0 665.8,110.6 666.5,110.2 667.2,109.9 668.0,109.4 668.8,108.9 669.5,108.4 670.2,108.0 671.0,107.6 671.8,107.3 672.5,106.9 673.2,106.3 674.0,105.8 674.8,105.4 675.5,105.0 676.2,104.7 677.0,104.4 677.8,104.1 678.5,103.9 679.2,103.5 680.0,103.0 680.8,102.6 681.5,102.1 682.2,101.6 683.0,101.1 683.8,100.8 684.5,100.6 685.2,100.4 686.0,99.9 686.8,99.5 687.5,99.1 688.2,98.7 689.0,98.3 689.8,97.9 690.5,97.6 691.2,97.4 692.0,97.1 692.8,96.7 693.5,96.3 694.2,95.8 695.0,95.4 695.8,95.0 696.5,94.6 697.2,94.3 698.0,94.0 698.8,93.9 699.5,93.8 700.2,93.8 701.0,93.5 701.8,92.9 702.5,92.3 703.2,92.0 704.0,91.8 704.8,91.7 705.5,91.5 706.2,91.3 707.0,91.1 707.8,90.8 708.5,90.6 709.2,90.3 710.0,89.9 710.8,89.5 711.5,89.0 712.2,88.8 713.0,88.7 713.8,88.5 714.5,88.3 715.2,88.1 716.0,88.0 716.8,87.8 717.5,87.6 718.2,87.5 719.0,87.1 719.8,86.7 720.5,86.4 721.2,86.1 722.0,85.8 722.8,85.6 723.5,85.6 724.2,85.7 725.0,85.6 725.8,85.4 726.5,85.3 727.2,85.0 728.0,84.8 728.8,84.5 729.5,84.2 730.2,83.9 731.0,83.7 731.8,83.5 732.5,83.4 733.2,83.3 734.0,83.2 734.8,83.0 735.5,82.8 736.2,82.6 737.0,82.6 737.8,82.5 738.5,82.2 739.2,81.8 740.0,81.4 740.8,81.3 741.5,81.3 742.2,81.3 743.0,81.1 743.8,80.9 744.5,80.7 745.2,80.5 746.0,80.2 746.8,79.9 747.5,79.9 748.2,79.9 749.0,79.9 749.8,79.7 750.5,79.6 751.2,79.4 752.0,79.2 752.8,79.0 753.5,78.8 754.2,78.8 755.0,78.7 755.8,78.6 756.5,78.3 757.2,77.9 758.0,77.7 758.8,77.7 759.5,77.7 760.2,77.7 761.0,77.6 761.8,77.5 762.5,77.4 763.2,77.3 764.0,77.1 764.8,77.0 765.5,77.0 766.2,76.9 767.0,76.7 767.8,76.3 768.5,75.9 769.2,75.6 770.0,75.5 770.8,75.3 771.5,75.3 772.2,75.4 773.0,75.4 773.8,75.4 774.5,75.3 775.2,75.2 776.0,75.2 776.8,75.3 777.5,75.3 778.2,75.1 779.0,74.8 779.8,74.5 780.5,74.2 781.2,73.9 782.0,73.5 782.8,73.6 783.5,73.7 784.2,73.7 785.0,73.4 785.8,73.1 786.5,72.8 787.2,72.5 788.0,72.3 788.8,72.2 789.5,72.6 790.2,73.0 791.0,73.1 791.8,72.7 792.5,72.3 793.2,72.0 794.0,72.0 794.8,71.9 795.5,71.8 796.2,71.6 797.0,71.5 797.8,71.4 798.5,71.5 799.2,71.5 800.0,71.4 800.8,71.1 801.5,70.8 802.2,70.7 803.0,70.7 803.8,70.7 804.5,70.5 805.2,70.1 806.0,69.7 806.8,69.5 807.5,69.4 808.2,69.2 809.0,69.4 809.8,69.7 810.5,69.9 811.2,69.9 812.0,69.8 812.8,69.7 813.5,69.5 814.2,69.3 815.0,69.1 815.8,69.0 816.5,68.8 817.2,68.7 818.0,68.6 818.8,68.5 819.5,68.4 820.2,68.2 821.0,68.0 821.8,67.9 822.5,68.1 823.2,68.3 824.0,68.4 824.8,68.2 825.5,68.0 826.2,67.9 827.0,67.8 827.8,67.7 828.5,67.6 829.2,67.6 830.0,67.5 830.8,67.4 831.5,67.5 832.2,67.5 833.0,67.5 833.8,67.3 834.5,67.2 835.2,67.2 836.0,67.2 836.8,67.2 837.5,67.0 838.2,66.7 839.0,66.4 839.8,66.4 840.5,66.6 841.2,66.8 842.0,67.0 842.8,67.2 843.5,67.4 844.2,67.1 845.0,66.7 845.8,66.3 846.5,66.3 847.2,66.3 848.0,66.3 848.8,66.4 849.5,66.6 850.2,66.7 851.0,66.6 851.8,66.6 852.5,66.6 853.2,66.5 854.0,66.5 854.8,66.4 855.5,66.0 856.2,65.7 857.0,65.5 857.8,65.8 858.5,66.1 859.2,66.2 860.0,65.9 860.8,65.7 861.5,65.5 862.2,65.6 863.0,65.6 863.8,65.7 864.5,65.8 865.2,66.0 866.0,66.0 866.8,65.9 867.5,65.7 868.2,65.8 869.0,65.9 869.8,66.0 870.5,66.2 871.2,66.5 872.0,66.8 872.8,66.6 873.5,66.3 874.2,66.0 875.0,65.9 875.8,65.8 876.5,65.8 877.2,65.6 878.0,65.4 878.8,65.1 879.5,65.1 880.2,65.1 881.0,65.1 881.8,65.0 882.5,64.9 883.2,64.9 884.0,64.9 884.8,64.9 885.5,64.9 886.2,64.8 887.0,64.7 887.8,64.6 888.5,64.7 889.2,64.7 890.0,64.7 890.8,64.7 891.5,64.7 892.2,64.7 893.0,64.6 893.8,64.4 894.5,64.3 895.2,64.2 896.0,64.1 896.8,64.0 897.5,64.0 898.2,64.0 899.0,64.1 899.8,64.2 900.5,64.4 901.2,64.5 902.0,64.4 902.8,64.3 903.5,64.3 904.2,64.4 905.0,64.5 905.8,64.5 906.5,64.4 907.2,64.4 908.0,64.2 908.8,64.0 909.5,63.8 910.2,63.8 911.0,63.9 911.8,64.0 912.5,63.7 913.2,63.4 914.0,63.1 914.8,63.6 915.5,64.0 916.2,64.4 917.0,64.3 917.8,64.1 918.5,63.9 919.2,63.7 920.0,63.5 920.8,63.3 921.5,63.1 922.2,63.0 923.0,62.9 923.8,63.1 924.5,63.3 925.2,63.3 926.0,63.0 926.8,62.7 927.5,62.5 928.2,62.7 929.0,62.8 929.8,63.0 930.5,63.2 931.2,63.4 932.0,63.4 932.8,63.3 933.5,63.2 934.2,63.2 935.0,63.1 935.8,63.0 936.5,63.1 937.2,63.3 938.0,63.5 938.8,63.3 939.5,63.0 940.2,62.8 941.0,62.8 941.8,63.0 942.5,63.2 943.2,63.1 944.0,63.0 944.8,62.9 945.5,62.8 946.2,62.8 947.0,62.7 947.8,62.9 948.5,63.1 949.2,63.2 950.0,63.0 950.8,62.8 951.5,62.7 952.2,63.1 953.0,63.5 953.8,63.7 954.5,63.4 955.2,63.0 956.0,62.9 956.8,63.2 957.5,63.6 958.2,63.7 959.0,63.2 959.8,62.8 960.5,62.7 961.2,62.9 962.0,63.1 962.8,63.1 963.5,62.9 964.2,62.6 965.0,62.5 965.8,62.5 966.5,62.4 967.2,62.6 968.0,62.8 968.8,63.0 969.5,63.1 970.2,63.1 971.0,63.2 971.8,63.0 972.5,62.8 973.2,62.5 974.0,62.7 974.8,63.0 975.5,63.4 976.2,63.2 977.0,62.9 977.8,62.6 978.5,62.7 979.2,62.9 980.0,63.0 980.8,63.0 981.5,63.0 982.2,63.1 983.0,63.1 983.8,63.1 984.5,63.1 985.2,62.8 986.0,62.5 986.8,62.3 987.5,62.8 988.2,63.2 989.0,63.5 989.8,63.4 990.5,63.2 991.2,63.1 992.0,62.9 992.8,62.8 993.5,62.7 994.2,62.6 995.0,62.5 995.8,62.4 996.5,62.4 997.2,62.3 998.0,62.2 998.8,62.3 999.5,62.3 1000.2,62.5 1001.0,62.8 1001.8,63.0 1002.5,63.0 1003.2,62.9 1004.0,62.8 1004.8,62.7 1005.5,62.6 1006.2,62.5 1007.0,62.5 1007.8,62.6 1008.5,62.7 1009.2,62.9 1010.0,63.2 1010.8,63.5 1011.5,63.3 1012.2,63.0 1013.0,62.8 1013.8,62.7 1014.5,62.7 1015.2,62.7 1016.0,63.0 1016.8,63.2 1017.5,63.4 1018.2,63.3 1019.0,63.2 1019.8,63.1 1020.5,63.0 1021.2,63.0 1022.0,62.9 1022.8,62.8 1023.5,62.7 1024.2,62.6 1025.0,62.5 1025.8,62.4 1026.5,62.3 1027.2,62.4 1028.0,62.4 1028.8,62.5 1029.5,62.6 1030.2,62.7 1031.0,62.7 1031.8,62.8 1032.5,62.8 1033.2,62.9 1034.0,62.9 1034.8,63.0 1035.5,63.1 1036.2,63.1 1037.0,63.1 1037.8,63.1 1038.5,63.1 1039.2,63.0 1040.0,63.0 1040.8,63.0 1041.5,63.0 1042.2,62.9 1043.0,62.7 1043.8,62.5 1044.5,62.4 1045.2,62.2 1046.0,62.1 1046.8,62.3 1047.5,62.5 1048.2,62.7 1049.0,62.7 1049.8,62.6 1050.5,62.5 1051.2,62.6 1052.0,62.6 1052.8,62.7 1053.5,62.7 1054.2,62.8 1055.0,62.8 1055.8,62.7 1056.5,62.5 1057.2,62.4 1058.0,62.5 1058.8,62.5 1059.5,62.5 1060.2,62.7 1061.0,62.8 1061.8,62.9 1062.5,62.9 1063.2,63.0 1064.0,62.9 1064.8,62.8 1065.5,62.7 1066.2,62.8 1067.0,62.9 1067.8,63.1 1068.5,63.1 1069.2,63.0 1070.0,62.9 1070.8,62.8 1071.5,62.7 1072.2,62.6 1073.0,62.7 1073.8,62.8 1074.5,63.0 1075.2,63.2 1076.0,63.4 1076.8,63.7 1077.5,63.4 1078.2,63.0 1079.0,62.7 1079.8,62.9 1080.5,63.2 1081.2,63.4 1082.0,63.5 1082.8,63.5 1083.5,63.5 1084.2,63.5 1085.0,63.6 1085.8,63.5 1086.5,63.2 1087.2,62.9 1088.0,62.8 1088.8,63.1 1089.5,63.5 1090.2,63.7 1091.0,63.4 1091.8,63.2 1092.5,63.0 1093.2,63.0 1094.0,62.9 1094.8,62.9 1095.5,62.9 1096.2,62.9 1097.0,63.0 1097.8,63.1 1098.5,63.2 1099.2,63.2 1100.0,63.1 1100.8,63.0 1101.5,63.0 1102.2,63.0 1103.0,63.0 1103.8,63.1 1104.5,63.3 1105.2,63.5 1106.0,63.3 1106.8,63.1 1107.5,62.8 1108.2,62.8 1109.0,62.7 1109.8,62.7 1110.5,63.0 1111.2,63.2 1112.0,63.5 1112.8,63.5 1113.5,63.5 1114.2,63.5 1115.0,63.6 1115.8,63.6 1116.5,63.7 1117.2,63.4 1118.0,63.1 1118.8,63.0 1119.5,63.3 1120.2,63.6 1121.0,63.8 1121.8,63.8 1122.5,63.7 1123.2,63.8 1124.0,64.0 1124.8,64.2 1125.5,64.1 1126.2,63.8 1127.0,63.4 1127.8,63.3 1128.5,63.5 1129.2,63.8 1130.0,63.8 1130.8,63.8 1131.5,63.8 1132.2,63.7 1133.0,63.5 1133.8,63.4 1134.5,63.4 1135.2,63.6 1136.0,63.7 1136.8,64.0 1137.5,64.3 1138.2,64.5 1139.0,64.4 1139.8,64.3 1140.5,64.1 1141.2,64.1 1142.0,64.1 1142.8,64.1 1143.5,64.3 1144.2,64.5 1145.0,64.8 1145.8,64.8 1146.5,64.9 1147.2,64.9 1148.0,64.9 1148.8,65.0 1149.5,65.0 1150.2,64.8 1151.0,64.6 1151.8,64.4 1152.5,64.6 1153.2,64.7 1154.0,64.8 1154.8,65.0 1155.5,65.2 1156.2,65.2 1157.0,65.0 1157.8,64.8 1158.5,64.7 1159.2,64.7 1160.0,64.7 1160.8,64.8 1161.5,65.1 1162.2,65.3 1163.0,65.5 1163.8,65.6 1164.5,65.7 1165.2,65.5 1166.0,65.2 1166.8,64.8 1167.5,64.6 1168.2,64.4 1169.0,64.2 1169.8,64.3 1170.5,64.5 1171.2,64.6 1172.0,64.7 1172.8,64.8 1173.5,64.8 1174.2,65.0 1175.0,65.1 1175.8,65.2 1176.5,65.3 1177.2,65.4 1178.0,65.6 1178.8,65.5 1179.5,65.4 1180.2,65.3 1181.0,65.2 1181.8,65.1 1182.5,65.1 1183.2,65.2 1184.0,65.4 1184.8,65.4 1185.5,65.3 1186.2,65.2 1187.0,65.1 1187.8,65.3 1188.5,65.4 1189.2,65.5 1190.0,65.4 1190.8,65.4 1191.5,65.5 1192.2,66.0 1193.0,66.5 1193.8,66.6 1194.5,66.4 1195.2,66.2 1196.0,66.0 1196.8,65.8 1197.5,65.6 1198.2,65.6 1199.0,65.6 1199.8,65.6 1200.5,65.7 1201.2,65.8 1202.0,65.9 1202.8,65.9 1203.5,66.3 1204.2,67.4 1205.0,68.1 1205.8,68.3 1206.5,67.3 1207.2,65.6 1208.0,64.5 1208.8,64.1 1209.5,64.1 1210.2,64.1 1211.0,64.2 1211.8,64.0 1212.5,63.8 1213.2,63.6 1214.0,63.6 1214.8,63.5 1215.5,63.5 1216.2,63.4 1217.0,63.3 1217.8,63.3 1218.5,63.3 1219.2,63.3 1220.0,63.4 1220.8,63.5 1221.5,63.7 1222.2,63.8 1223.0,63.8 1223.8,63.7 1224.5,63.8 1225.2,64.0 1226.0,64.2 1226.8,64.2 1227.5,63.9 1228.2,63.7 1229.0,63.7 1229.8,64.0 1230.5,64.2 1231.2,64.2 1232.0,64.1 1232.8,64.0 1233.5,64.0 1234.2,63.9 1235.0,63.9 1235.8,63.7 1236.5,63.4 1237.2,63.2 1238.0,63.2 1238.8,63.3 1239.5,63.4 1240.2,63.7 1241.0,64.0 1241.8,64.2 1242.5,64.4 1243.2,64.5 1244.0,64.6 1244.8,64.4 1245.5,64.3 1246.2,64.1 1247.0,64.2 1247.8,64.3 1248.5,64.4 1249.2,64.2 1250.0,64.1 1250.8,64.0 1251.5,64.0 1252.2,64.0 1253.0,64.0 1253.8,64.0 1254.5,64.0 1255.2,64.1 1256.0,64.3 1256.8,64.5 1257.5,64.6 1258.2,64.6 1259.0,64.5 1259.8,64.5 1260.5,64.4 1261.2,64.4 1262.0,64.3 1262.8,64.3 1263.5,64.4 1264.2,64.5 1265.0,64.6 1265.8,64.7 1266.5,64.8 1267.2,64.8 1268.0,64.8 1268.8,64.7 1269.5,64.6 1270.2,64.5 1271.0,64.7 1271.8,65.1 1272.5,65.5 1273.2,65.4 1274.0,65.2 1274.8,65.1 1275.5,65.1 1276.2,65.1 1277.0,65.1 1277.8,65.3 1278.5,65.5 1279.2,65.7 1280.0,65.7 1280.8,65.7 1281.5,65.7 1282.2,65.6 1283.0,65.5 1283.8,65.4 1284.5,65.6 1285.2,65.7 1286.0,65.7 1286.8,65.6 1287.5,65.4 1288.2,65.4 1289.0,65.5 1289.8,65.6 1290.5,65.6 1291.2,65.4 1292.0,65.3 1292.8,65.4 1293.5,65.9 1294.2,66.4 1295.0,66.5 1295.8,66.1 1296.5,65.8 1297.2,66.1 1298.0,67.0 1298.8,68.0 1299.5,69.0 1300.2,69.5 1301.0,69.3 1301.8,68.7 1302.5,67.8 1303.2,66.8 1304.0,66.4 1304.8,66.4 1305.5,66.5 1306.2,66.6 1307.0,66.6 1307.8,66.7 1308.5,66.8 1309.2,66.8 1310.0,66.9 1310.8,67.0 1311.5,67.2 1312.2,67.3 1313.0,67.1 1313.8,66.9 1314.5,66.8 1315.2,66.9 1316.0,67.0 1316.8,67.0 1317.5,66.8 1318.2,66.6 1319.0,66.5 1319.8,66.7 1320.5,66.9 1321.2,67.0 1322.0,66.9 1322.8,66.8 1323.5,66.8 1324.2,66.7 1325.0,66.6 1325.8,66.6 1326.5,66.7 1327.2,66.7 1328.0,66.8 1328.8,66.8 1329.5,66.8 1330.2,66.9 1331.0,66.9 1331.8,66.9 1332.5,67.0 1333.2,67.0 1334.0,67.1 1334.8,67.0 1335.5,66.9 1336.2,66.8 1337.0,66.8 1337.8,66.8 1338.5,66.7 1339.2,66.9 1340.0,67.1 1340.8,67.4 1341.5,67.1 1342.2,66.8 1343.0,66.5 1343.8,66.6 1344.5,66.8 1345.2,67.0 1346.0,67.3 1346.8,67.6 1347.5,67.8 1348.2,67.2 1349.0,66.7 1349.8,66.3 1350.5,66.6 1351.2,66.9 1352.0,67.1 1352.8,67.4 1353.5,67.6 1354.2,67.6 1355.0,67.3 1355.8,67.0 1356.5,67.1 1357.2,67.7 1358.0,68.3 1358.8,68.3 1359.5,67.6 1360.2,66.9 1361.0,66.9 1361.8,67.5 1362.5,68.0 1363.2,68.3 1364.0,68.3 1364.8,68.4 1365.5,68.3 1366.2,68.3 1367.0,68.2 1367.8,68.1 1368.5,68.0 1369.2,67.8 1370.0,67.9 1370.8,68.0 1371.5,68.1 1372.2,68.0 1373.0,67.8 1373.8,67.7 1374.5,67.9 1375.2,68.2 1376.0,68.4 1376.8,68.2 1377.5,68.0 1378.2,67.8 1379.0,67.9 1379.8,68.0 1380.5,68.2 1381.2,68.4 1382.0,68.6 1382.8,68.7 1383.5,68.4 1384.2,68.2 1385.0,68.0 1385.8,68.1 1386.5,68.3 1387.2,68.4 1388.0,68.5 1388.8,68.6 1389.5,68.5 1390.2,68.4 1391.0,68.2 1391.8,68.3 1392.5,68.6 1393.2,69.0 1394.0,69.1 1394.8,69.0 1395.5,68.9 1396.2,68.8 1397.0,68.5 1397.8,68.3 1398.5,68.4 1399.2,68.6 1400.0,68.8 1400.8,68.8 1401.5,68.8 1402.2,68.7 1403.0,68.7 1403.8,68.7 1404.5,68.8 1405.2,68.9 1406.0,69.0 1406.8,69.1 1407.5,69.1 1408.2,69.0 1409.0,68.9 1409.8,69.1 1410.5,69.4 1411.2,69.6 1412.0,69.4 1412.8,69.2 1413.5,69.1 1414.2,69.3 1415.0,69.5 1415.8,69.7 1416.5,69.6 1417.2,69.5 1418.0,69.5 1418.8,69.6 1419.5,69.8 1420.2,69.8 1421.0,69.7 1421.8,69.5 1422.5,69.4 1423.2,69.5 1424.0,69.5 1424.8,69.5 1425.5,69.5 1426.2,69.4 1427.0,69.6 1427.8,69.8 1428.5,70.1 1429.2,70.3 1430.0,70.4 1430.8,70.5 1431.5,70.7 1432.2,70.9 1433.0,71.1 1433.8,71.1 1434.5,71.1 1435.2,71.2 1436.0,71.2 1436.8,71.2 1437.5,71.3 1438.2,71.4 1439.0,71.6 1439.8,71.7 1440.5,72.0 1441.2,72.3 1442.0,72.6 1442.8,72.9 1443.5,73.1 1444.2,73.3 1445.0,73.8 1445.8,74.2 1446.5,74.6 1447.2,74.9 1448.0,75.2 1448.8,75.4 1449.5,75.6 1450.2,75.8 1451.0,76.1 1451.8,76.5 1452.5,77.0 1453.2,77.6 1454.0,78.3 1454.8,79.0 1455.5,79.6 1456.2,80.2 1457.0,80.9 1457.8,81.5 1458.5,82.3 1459.2,83.0 1460.0,83.7 1460.8,84.5 1461.5,85.3 1462.2,86.0 1463.0,86.7 1463.8,87.4 1464.5,88.2 1465.2,88.9 1466.0,89.7 1466.8,90.5 1467.5,91.3 1468.2,92.2 1469.0,93.0 1469.8,93.9 1470.5,94.8 1471.2,95.7 1472.0,96.7 1472.8,97.6 1473.5,98.6 1474.2,99.7 1475.0,100.9 1475.8,102.1 1476.5,103.4 1477.2,104.6 1478.0,105.8 1478.8,107.0 1479.5,108.0 1480.2,108.9 1481.0,109.8 1481.8,110.7 1482.5,111.6 1483.2,112.4 1484.0,113.2 1484.8,113.7 1485.5,114.1 1486.2,114.1 1487.0,113.8 1487.8,113.4 1488.5,112.8 1489.2,112.2 1490.0,111.3 1490.8,110.4 1491.5,109.4 1492.2,108.2 1493.0,106.6 1493.8,104.7 1494.5,102.6 1495.2,100.5 1496.0,98.4 1496.8,96.5 1497.5,94.7 1498.2,92.8 1499.0,91.0 1499.8,89.3 1500.5,87.7 1501.2,86.2 1502.0,85.0 1502.8,83.9 1503.5,82.8 1504.2,81.7 1505.0,80.7 1505.8,79.8 1506.5,78.9 1507.2,78.0 1508.0,77.3 1508.8,76.6 1509.5,75.9 1510.2,75.4 1511.0,75.0 1511.8,74.6 1512.5,74.3 1513.2,73.9 1514.0,73.5 1514.8,73.0 1515.5,72.5 1516.2,71.9 1517.0,71.4 1517.8,71.3 1518.5,71.3 1519.2,71.2 1520.0,70.9 1520.8,70.7 1521.5,70.6 1522.2,70.5 1523.0,70.5 1523.8,70.5 1524.5,70.4 1525.2,70.4 1526.0,70.2 1526.8,69.9 1527.5,69.7 1528.2,69.6 1529.0,69.6 1529.8,69.6 1530.5,69.8 1531.2,70.2 1532.0,70.6 1532.8,70.6 1533.5,70.3 1534.2,70.1 1535.0,69.9 1535.8,69.6 1536.5,69.4 1537.2,69.6 1538.0,69.8 1538.8,70.0 1539.5,70.0 1540.2,69.9 1541.0,69.8 1541.8,69.6 1542.5,69.4 1543.2,69.2 1544.0,69.1 1544.8,69.0 1545.5,69.0 1546.2,69.1 1547.0,69.3 1547.8,69.4 1548.5,69.7 1549.2,70.0 1550.0,70.2 1550.8,70.2 1551.5,70.2 1552.2,70.3 1553.0,70.3 1553.8,70.4 1554.5,70.5 1555.2,70.6 1556.0,70.8 1556.8,70.9 1557.5,71.1 1558.2,71.2 1559.0,71.1 1559.8,70.9 1560.5,70.7 1561.2,70.8 1562.0,71.1 1562.8,71.4 1563.5,71.6 1564.2,71.6 1565.0,71.6 1565.8,71.7 1566.5,71.7 1567.2,71.8 1568.0,71.9 1568.8,72.1 1569.5,72.3 1570.2,72.4 1571.0,72.6 1571.8,72.7 1572.5,72.8 1573.2,72.8 1574.0,72.9 1574.8,72.8 1575.5,72.8 1576.2,72.7 1577.0,72.9 1577.8,73.1 1578.5,73.4 1579.2,73.8 1580.0,74.2 1580.8,74.4 1581.5,74.2 1582.2,73.9 1583.0,73.7 1583.8,73.8 1584.5,73.8 1585.2,74.0 1586.0,74.4 1586.8,74.7 1587.5,75.1 1588.2,75.4 1589.0,75.7 1589.8,76.0 1590.5,76.2 1591.2,76.5 1592.0,76.7 1592.8,76.8 1593.5,76.9 1594.2,77.2 1595.0,77.6 1595.8,77.9 1596.5,77.9 1597.2,77.7 1598.0,77.4 1598.8,77.2 1599.5,77.0 1600.2,76.7 1601.0,76.5 1601.8,76.3 1602.5,76.0 1603.2,75.8 1604.0,75.5 1604.8,75.2 1605.5,74.9 1606.2,74.6 1607.0,74.3 1607.8,74.0 1608.5,73.7 1609.2,73.4 1610.0,73.1 1610.8,72.8 1611.5,72.6 1612.2,72.6 1613.0,72.5 1613.8,72.4 1614.5,72.2 1615.2,71.9 1616.0,71.7 1616.8,71.7 1617.5,71.6 1618.2,71.5 1619.0,71.1 1619.8,70.7 1620.5,70.4 1621.2,70.3 1622.0,70.1 1622.8,70.2 1623.5,70.3 1624.2,70.5 1625.0,70.5 1625.8,70.1 1626.5,69.8 1627.2,69.7 1628.0,69.7 1628.8,69.8 1629.5,69.8 1630.2,69.7 1631.0,69.7 1631.8,69.6 1632.5,69.5 1633.2,69.3 1634.0,69.3 1634.8,69.2 1635.5,69.2 1636.2,69.3 1637.0,69.5 1637.8,69.7 1638.5,69.2 1639.2,68.6 1640.0,68.1 1640.8,68.5 1641.5,68.9 1642.2,69.3 1643.0,69.5 1643.8,69.7 1644.5,69.8 1645.2,69.5 1646.0,69.2 1646.8,68.9 1647.5,68.9 1648.2,69.0 1649.0,69.0 1649.8,69.2 1650.5,69.3 1651.2,69.5 1652.0,69.7 1652.8,69.9 1653.5,69.9 1654.2,69.6 1655.0,69.4 1655.8,69.3 1656.5,69.6 1657.2,69.9 1658.0,70.0 1658.8,70.1 1659.5,70.2 1660.2,70.4 1661.0,70.6 1661.8,70.8 1662.5,70.9 1663.2,71.0 1664.0,71.1 1664.8,71.2 1665.5,71.4 1666.2,71.6 1667.0,71.7 1667.8,71.7 1668.5,71.7 1669.2,71.8 1670.0,72.0 1670.8,72.2 1671.5,72.2 1672.2,72.3 1673.0,72.3 1673.8,72.5 1674.5,72.6 1675.2,72.8 1676.0,73.0 1676.8,73.2 1677.5,73.4 1678.2,73.6 1679.0,73.8 1679.8,73.9 1680.5,74.0 1681.2,74.1 1682.0,74.3 1682.8,74.8 1683.5,75.3 1684.2,75.6 1685.0,75.6 1685.8,75.7 1686.5,75.8 1687.2,75.9 1688.0,76.1 1688.8,76.4 1689.5,76.9 1690.2,77.5 1691.0,77.8 1691.8,78.0 1692.5,78.2 1693.2,78.6 1694.0,79.1 1694.8,79.6 1695.5,80.1 1696.2,80.5 1697.0,80.9 1697.8,81.4 1698.5,81.9 1699.2,82.5 1700.0,83.1 1700.8,83.7 1701.5,84.4 1702.2,85.2 1703.0,86.0 1703.8,86.8 1704.5,87.8 1705.2,88.8 1706.0,89.9 1706.8,91.4 1707.5,93.0 1708.2,94.8 1709.0,96.6 1709.8,98.5 1710.5,100.4 1711.2,102.3 1712.0,104.2 1712.8,106.2 1713.5,108.2 1714.2,110.4 1715.0,112.6 1715.8,115.0 1716.5,117.5 1717.2,120.2 1718.0,122.9 1718.8,125.8 1719.5,128.9 1720.2,131.9 1721.0,135.2 1721.8,138.5 1722.5,142.1 1723.2,145.8 1724.0,149.6 1724.8,153.5 1725.5,157.8 1726.2,162.2 1727.0,166.5 1727.8,170.8 1728.5,175.0 1729.2,179.1 1730.0,183.2 1730.8,187.5 1731.5,191.9 1732.2,196.5 1733.0,201.2 1733.8,205.9 1734.5,210.6 1735.2,215.2 1736.0,219.6 1736.8,223.9 1737.5,228.0 1738.2,232.0 1739.0,235.9 1739.8,239.8 1740.5,243.6 1741.2,247.5 1742.0,251.4 1742.8,255.4 1743.5,259.6 1744.2,263.9 1745.0,268.4 1745.8,273.1 1746.5,278.1 1747.2,283.7 1748.0,289.7 1748.8,295.9 1749.5,302.2 1750.2,308.5 1751.0,314.5 1751.8,320.2 1752.5,325.6 1753.2,330.8 1754.0,335.8 1754.8,340.7 1755.5,345.6 1756.2,350.5 1757.0,355.6 1757.8,361.0 1758.5,365.9 1759.2,369.8 1760.0,372.6 1760.8,375.2 1761.5,377.3 1762.2,378.5 1763.0,378.6 1763.8,378.6 1764.5,378.5 1765.2,378.4 1766.0,378.3 1766.8,378.2 1767.5,378.2 1768.2,378.4 1769.0,379.3 1769.8,380.6 1770.5,382.2 1771.2,384.0 1772.0,386.6 1772.8,390.1 1773.5,394.2 1774.2,398.2 1775.0,402.2 1775.8,406.5 1776.5,410.6 1777.2,414.0 1778.0,416.6 1778.8,418.9 1779.5,421.2 1780.2,424.3 1781.0,428.8 1781.8,435.3 1782.5,442.8 1783.2,451.3 1784.0,461.0 1784.8,471.6 1785.5,483.8 1786.2,498.3 1787.0,513.1 1787.8,527.2 1788.5,541.4 1789.2,555.5 1790.0,569.9 1790.8,584.0 1791.5,597.1 1792.2,609.5 1793.0,622.0 1793.8,635.0 1794.5,648.3 1795.2,661.1 1796.0,673.2 1796.8,685.0 1797.5,696.4 1798.2,707.1 1799.0,717.1 1799.8,726.8 1800.5,736.0 1801.2,744.6 1802.0,752.7 1802.8,760.1 1803.5,767.0 1804.2,773.5 1805.0,779.6 1805.8,785.5 1806.5,791.2 1807.2,796.7 1808.0,801.9 1808.8,807.0 1809.5,811.9 1810.2,816.6 1811.0,821.1 1811.8,825.5 1812.5,829.7 1813.2,833.8 1814.0,837.7 1814.8,841.7 1815.5,846.0 1816.2,850.4 1817.0,854.6 1817.8,858.2 1818.5,861.0 1819.2,863.5 1820.0,865.6 1820.8,867.5 1821.5,869.0 1822.2,870.3 1823.0,871.5 1823.8,872.5 1824.5,873.2 1825.2,873.7 1826.0,874.0 1826.8,873.9 1827.5,873.6 1828.2,873.1 1829.0,872.6 1829.8,872.0 1830.5,871.0 1831.2,869.7 1832.0,868.2 1832.8,866.5 1833.5,864.6 1834.2,862.3 1835.0,859.9 1835.8,857.2 1836.5,854.0 1837.2,850.4 1838.0,846.6 1838.8,842.8 1839.5,838.9 1840.2,835.0 1841.0,831.0 1841.8,826.7 1842.5,822.3 1843.2,817.7 1844.0,812.8 1844.8,807.8 1845.5,802.7 1846.2,797.4 1847.0,791.9 1847.8,786.2 1848.5,780.1 1849.2,774.0 1850.0,767.9 1850.8,762.0 1851.5,755.9 1852.2,749.7 1853.0,744.1 1853.8,739.9 1854.5,736.4 1855.2,733.2 1856.0,730.5 1856.8,728.3 1857.5,726.6 1858.2,725.2 1859.0,724.1 1859.8,723.1 1860.5,722.2 1861.2,721.2 1862.0,720.1 1862.8,719.1 1863.5,718.0 1864.2,717.0 1865.0,715.9 1865.8,714.7 1866.5,713.3 1867.2,711.7 1868.0,709.7 1868.8,707.4 1869.5,704.7 1870.2,701.5 1871.0,697.9 1871.8,692.9 1872.5,686.6 1873.2,679.9 1874.0,672.5 1874.8,664.5 1875.5,656.7 1876.2,649.0 1877.0,641.4 1877.8,634.7 1878.5,628.8 1879.2,623.6 1880.0,618.9 1880.8,614.6 1881.5,611.1 1882.2,608.0 1883.0,605.1 1883.8,602.9 1884.5,602.0 1885.2,602.2 1886.0,602.4 1886.8,602.6 1887.5,602.7 1888.2,602.7 1889.0,602.7 1889.8,602.3 1890.5,601.3 1891.2,599.6 1892.0,597.5 1892.8,592.3 1893.5,583.4 1894.2,574.0 1895.0,564.9 1895.8,555.1 1896.5,545.3 1897.2,536.3 1898.0,528.0 1898.8,520.1 1899.5,512.7 1900.2,505.9 1901.0,499.8 1901.8,494.2 1902.5,488.9 1903.2,483.9 1904.0,479.0 1904.8,474.4 1905.5,470.0 1906.2,465.8 1907.0,461.7 1907.8,457.6 1908.5,453.4 1909.2,449.0 1910.0,444.7 1910.8,440.3 1911.5,435.9 1912.2,431.5 1913.0,427.1 1913.8,422.6 1914.5,417.9 1915.2,413.2 1916.0,408.5 1916.8,404.1 1917.5,400.0 1918.2,396.1 1919.0,392.0 1919.8,388.2 1920.5,385.0 1921.2,382.7 1922.0,381.3 1922.8,380.1 1923.5,379.0 1924.2,379.7 1925.0,381.2 1925.8,383.4 1926.5,386.1 1927.2,389.7 1928.0,395.3 1928.8,402.2 1929.5,409.3 1930.2,417.1 1931.0,427.0 1931.8,436.1 1932.5,441.2 1933.2,440.6 1934.0,437.0 1934.8,431.8 1935.5,426.1 1936.2,421.3 1937.0,418.5 1937.8,418.2 1938.5,418.1 1939.2,418.0 1940.0,417.8 1940.8,417.7 1941.5,417.5 1942.2,417.0 1943.0,416.6 1943.8,415.3 1944.5,410.6 1945.2,404.2 1946.0,398.0 1946.8,393.4 1947.5,389.2 1948.2,385.2 1949.0,381.4 1949.8,377.9 1950.5,374.6 1951.2,371.6 1952.0,368.6 1952.8,365.8 1953.5,363.2 1954.2,360.8 1955.0,358.9 1955.8,357.4 1956.5,356.1 1957.2,355.0 1958.0,354.2 1958.4,354.0"/>
<polyline class="curve" stroke="#7f00ff" points="224.0,69.1 224.8,69.3 225.5,69.5 226.2,69.4 227.0,69.4 227.8,69.4 228.5,69.7 229.2,70.0 230.0,70.2 230.8,70.0 231.5,69.8 232.2,69.6 233.0,69.6 233.8,69.6 234.5,69.5 235.2,69.3 236.0,69.2 236.8,69.0 237.5,68.7 238.2,68.5 239.0,68.5 239.8,68.8 240.5,69.0 241.2,69.0 242.0,68.9 242.8,68.7 243.5,68.9 244.2,69.3 245.0,69.6 245.8,69.6 246.5,69.4 247.2,69.2 248.0,69.4 248.8,69.7 249.5,70.1 250.2,70.0 251.0,69.8 251.8,69.6 252.5,69.6 253.2,69.6 254.0,69.6 254.8,69.5 255.5,69.4 256.2,69.3 257.0,69.2 257.8,69.2 258.5,69.2 259.2,69.3 260.0,69.4 260.8,69.5 261.5,69.5 262.2,69.6 263.0,69.6 263.8,69.2 264.5,68.9 265.2,68.7 266.0,69.0 266.8,69.2 267.5,69.5 268.2,70.0 269.0,70.4 269.8,70.4 270.5,69.8 271.2,69.3 272.0,69.0 272.8,69.0 273.5,68.9 274.2,68.8 275.0,68.8 275.8,68.7 276.5,68.5 277.2,68.4 278.0,68.2 278.8,68.6 279.5,69.1 280.2,69.6 281.0,69.6 281.8,69.3 282.5,69.1 283.2,69.1 284.0,69.2 284.8,69.2 285.5,69.5 286.2,69.8 287.0,70.1 287.8,70.3 288.5,70.4 289.2,70.5 290.0,69.8 290.8,69.1 291.5,68.5 292.2,68.9 293.0,69.3 293.8,69.6 294.5,69.5 295.2,69.5 296.0,69.4 296.8,69.3 297.5,69.3 298.2,69.3 299.0,69.3 299.8,69.3 300.5,69.3 301.2,69.2 302.0,69.1 302.8,69.2 303.5,69.5 304.2,69.8 305.0,69.9 305.8,69.7 306.5,69.5 307.2,69.3 308.0,69.3 308.8,69.2 309.5,69.3 310.2,69.5 311.0,69.7 311.8,69.7 312.5,69.6 313.2,69.6 314.0,69.5 314.8,69.4 315.5,69.3 316.2,69.3 317.0,69.2 317.8,69.2 318.5,69.5 319.2,69.8 320.0,70.1 320.8,69.8 321.5,69.5 322.2,69.3 323.0,69.2 323.8,69.1 324.5,68.9 325.2,68.8 326.0,68.6 326.8,68.5 327.5,68.6 328.2,68.7 329.0,68.8 329.8,68.6 330.5,68.5 331.2,68.5 332.0,68.7 332.8,68.9 333.5,69.1 334.2,69.1 335.0,69.1 335.8,68.9 336.5,68.5 337.2,68.0 338.0,68.0 338.8,68.4 339.5,68.8 340.2,69.1 341.0,69.2 341.8,69.4 342.5,69.3 343.2,69.2 344.0,69.1 344.8,69.0 345.5,68.7 346.2,68.5 347.0,68.8 347.8,69.3 348.5,69.8 349.2,69.5 350.0,69.1 350.8,68.7 351.5,68.6 352.2,68.5 353.0,68.4 353.8,68.5 354.5,68.6 355.2,68.6 356.0,68.9 356.8,69.1 357.5,69.3 358.2,69.6 359.0,69.8 359.8,70.0 360.5,70.0 361.2,70.1 362.0,70.1 362.8,70.0 363.5,69.8 364.2,69.7 365.0,69.4 365.8,69.2 366.5,69.1 367.2,69.3 368.0,69.4 368.8,69.5 369.5,69.5 370.2,69.5 371.0,69.6 371.8,69.8 372.5,70.0 373.2,70.0 374.0,69.9 374.8,70.0 375.5,70.4 376.2,71.1 377.0,71.7 377.8,72.2 378.5,72.7 379.2,73.2 380.0,73.7 380.8,74.1 381.5,74.5 382.2,75.0 383.0,75.4 383.8,75.9 384.5,76.2 385.2,76.4 386.0,76.7 386.8,77.0 387.5,77.4 388.2,77.8 389.0,78.4 389.8,78.9 390.5,79.6 391.2,80.3 392.0,81.0 392.8,81.7 393.5,82.3 394.2,83.0 395.0,83.9 395.8,84.8 396.5,85.8 397.2,86.9 398.0,88.0 398.8,89.2 399.5,90.4 400.2,91.5 401.0,92.7 401.8,93.9 402.5,95.1 403.2,96.4 404.0,97.7 404.8,99.1 405.5,100.6 406.2,102.1 407.0,103.8 407.8,105.9 408.5,108.1 409.2,110.5 410.0,112.8 410.8,114.8 411.5,116.5 412.2,117.9 413.0,119.2 413.8,120.4 414.5,121.6 415.2,122.4 416.0,122.9 416.8,123.2 417.5,123.7 418.2,124.3 419.0,124.8 419.8,125.0 420.5,125.2 421.2,125.3 422.0,125.4 422.8,125.5 423.5,125.4 424.2,125.2 425.0,124.9 425.8,124.6 426.5,124.4 427.2,124.1 428.0,123.7 428.8,123.0 429.5,122.3 430.2,121.7 431.0,121.2 431.8,120.7 432.5,120.1 433.2,119.6 434.0,119.0 434.8,118.3 435.5,117.6 436.2,116.9 437.0,116.2 437.8,115.5 438.5,114.8 439.2,114.2 440.0,113.5 440.8,112.8 441.5,112.5 442.2,112.3 443.0,112.2 443.8,112.1 444.5,112.0 445.2,112.0 446.0,111.7 446.8,111.4 447.5,111.1 448.2,111.1 449.0,111.2 449.8,111.3 450.5,110.7 451.2,110.1 452.0,109.4 452.8,109.6 453.5,109.8 454.2,110.0 455.0,109.6 455.8,109.2 456.5,109.0 457.2,109.2 458.0,109.5 458.8,109.7 459.5,109.4 460.2,109.1 461.0,108.9 461.8,109.1 462.5,109.4 463.2,109.5 464.0,109.2 464.8,108.9 465.5,108.7 466.2,108.6 467.0,108.5 467.8,108.6 468.5,108.7 469.2,108.9 470.0,109.0 470.8,109.2 471.5,109.4 472.2,109.5 473.0,109.6 473.8,109.6 474.5,109.9 475.2,110.5 476.0,111.0 476.8,111.2 477.5,111.4 478.2,111.5 479.0,111.6 479.8,111.6 480.5,111.6 481.2,111.6 482.0,111.6 482.8,111.7 483.5,112.0 484.2,112.4 485.0,112.8 485.8,113.0 486.5,113.2 487.2,113.4 488.0,113.9 488.8,114.5 489.5,115.0 490.2,115.1 491.0,115.1 491.8,115.2 492.5,115.5 493.2,115.8 494.0,116.0 494.8,116.2 495.5,116.3 496.2,116.4 497.0,116.4 497.8,116.5 498.5,116.7 499.2,117.1 500.0,117.6 500.8,117.9 501.5,118.1 502.2,118.3 503.0,118.6 503.8,119.1 504.5,119.5 505.2,119.8 506.0,120.0 506.8,120.1 507.5,120.2 508.2,120.2 509.0,120.3 509.8,120.4 510.5,120.7 511.2,120.9 512.0,121.4 512.8,121.9 513.5,122.4 514.2,122.2 515.0,121.9 515.8,121.6 516.5,121.8 517.2,121.9 518.0,122.0 518.8,122.3 519.5,122.5 520.2,122.8 521.0,122.8 521.8,122.8 522.5,122.9 523.2,123.1 524.0,123.2 524.8,123.4 525.5,123.7 526.2,124.0 527.0,124.3 527.8,124.6 528.5,125.0 529.2,125.0 530.0,124.5 530.8,123.9 531.5,123.7 532.2,124.1 533.0,124.5 533.8,124.7 534.5,124.8 535.2,124.8 536.0,124.8 536.8,124.8 537.5,124.8 538.2,124.7 539.0,124.7 539.8,124.7 540.5,124.6 541.2,124.6 542.0,124.5 542.8,124.7 543.5,124.9 544.2,125.2 545.0,125.0 545.8,124.6 546.5,124.3 547.2,124.3 548.0,124.3 548.8,124.4 549.5,124.4 550.2,124.4 551.0,124.3 551.8,124.3 552.5,124.3 553.2,124.3 554.0,124.2 554.8,124.1 555.5,124.0 556.2,124.1 557.0,124.3 557.8,124.3 558.5,124.0 559.2,123.7 560.0,123.5 560.8,123.4 561.5,123.3 562.2,123.2 563.0,123.0 563.8,122.8 564.5,122.6 565.2,122.3 566.0,122.0 566.8,121.8 567.5,121.7 568.2,121.6 569.0,121.4 569.8,121.3 570.5,121.1 571.2,121.1 572.0,121.2 572.8,121.3 573.5,121.1 574.2,120.8 575.0,120.5 575.8,120.3 576.5,120.1 577.2,120.0 578.0,120.0 578.8,120.1 579.5,120.2 580.2,120.1 581.0,120.0 581.8,119.9 582.5,119.4 583.2,118.9 584.0,118.3 584.8,118.8 585.5,119.2 586.2,119.6 587.0,119.2 587.8,118.7 588.5,118.3 589.2,118.1 590.0,118.0 590.8,117.8 591.5,117.9 592.2,117.9 593.0,117.9 593.8,117.5 594.5,117.2 595.2,116.9 596.0,116.6 596.8,116.3 597.5,116.3 598.2,116.6 599.0,116.9 599.8,116.8 600.5,116.0 601.2,115.3 602.0,115.0 602.8,115.0 603.5,115.0 604.2,115.0 605.0,115.0 605.8,115.0 606.5,114.7 607.2,114.2 608.0,113.7 608.8,113.6 609.5,113.6 610.2,113.6 611.0,113.6 611.8,113.5 612.5,113.4 613.2,113.6 614.0,113.8 614.8,114.0 615.5,113.3 616.2,112.6 617.0,111.9 617.8,111.9 618.5,111.9 619.2,111.9 620.0,111.9 620.8,111.9 621.5,111.8 622.2,111.6 623.0,111.3 623.8,111.1 624.5,110.7 625.2,110.3 626.0,110.1 626.8,110.3 627.5,110.4 628.2,110.4 629.0,110.2 629.8,110.0 630.5,109.9 631.2,109.8 632.0,109.7 632.8,109.6 633.5,109.5 634.2,109.5 635.0,109.4 635.8,109.2 636.5,109.0 637.2,108.8 638.0,108.5 638.8,108.2 639.5,108.0 640.2,107.8 641.0,107.6 641.8,107.2 642.5,106.8 643.2,106.4 644.0,106.2 644.8,106.2 645.5,106.1 646.2,106.0 647.0,105.8 647.8,105.6 648.5,105.3 649.2,105.0 650.0,104.7 650.8,104.5 651.5,104.4 652.2,104.2 653.0,103.8 653.8,103.4 654.5,103.1 655.2,103.2 656.0,103.3 656.8,103.4 657.5,103.2 658.2,103.0 659.0,102.8 659.8,102.1 660.5,101.5 661.2,101.0 662.0,100.9 662.8,100.8 663.5,100.5 664.2,100.2 665.0,99.8 665.8,99.6 666.5,99.6 667.2,99.6 668.0,99.3 668.8,98.9 669.5,98.5 670.2,98.2 671.0,97.9 671.8,97.5 672.5,97.2 673.2,96.9 674.0,96.6 674.8,96.3 675.5,96.1 676.2,95.9 677.0,95.5 677.8,95.0 678.5,94.6 679.2,94.5 680.0,94.5 680.8,94.5 681.5,94.0 682.2,93.6 683.0,93.1 683.8,93.0 684.5,93.0 685.2,92.9 686.0,92.6 686.8,92.3 687.5,92.1 688.2,92.0 689.0,91.9 689.8,91.7 690.5,91.3 691.2,90.9 692.0,90.6 692.8,90.6 693.5,90.5 694.2,90.3 695.0,89.8 695.8,89.2 696.5,88.9 697.2,88.9 698.0,89.0 698.8,88.8 699.5,88.5 700.2,88.1 701.0,87.9 701.8,87.8 702.5,87.6 703.2,87.4 704.0,87.2 704.8,87.0 705.5,86.9 706.2,86.8 707.0,86.8 707.8,86.3 708.5,85.6 709.2,84.9 710.0,84.9 710.8,85.1 711.5,85.4 712.2,85.0 713.0,84.5 713.8,84.0 714.5,84.2 715.2,84.5 716.0,84.8 716.8,84.1 717.5,83.4 718.2,82.8 719.0,82.8 719.8,82.8 720.5,82.8 721.2,82.5 722.0,82.3 722.8,82.1 723.5,82.6 724.2,83.0 725.0,83.1 725.8,82.5 726.5,81.9 727.2,81.5 728.0,81.6 728.8,81.7 729.5,81.6 730.2,81.4 731.0,81.2 731.8,80.9 732.5,80.5 733.2,80.2 734.0,80.1 734.8,80.2 735.5,80.3 736.2,80.4 737.0,80.5 737.8,80.5 738.5,80.4 739.2,80.1 740.0,79.8 740.8,79.8 741.5,79.9 742.2,80.0 743.0,79.7 743.8,79.4 744.5,79.0 745.2,79.0 746.0,78.9 746.8,78.9 747.5,78.7 748.2,78.5 749.0,78.3 749.8,78.3 750.5,78.3 751.2,78.4 752.0,78.5 752.8,78.7 753.5,78.8 754.2,78.4 755.0,78.0 755.8,77.7 756.5,77.6 757.2,77.4 758.0,77.3 758.8,77.0 759.5,76.7 760.2,76.5 761.0,76.4 761.8,76.3 762.5,76.3 763.2,76.6 764.0,76.9 764.8,76.8 765.5,76.3 766.2,75.7 767.0,75.4 767.8,75.3 768.5,75.3 769.2,75.3 770.0,75.3 770.8,75.4 771.5,75.3 772.2,75.2 773.0,75.0 773.8,75.2 774.5,75.6 775.2,76.0 776.0,75.3 776.8,74.4 777.5,73.5 778.2,73.8 779.0,74.2 779.8,74.7 780.5,74.7 781.2,74.7 782.0,74.7 782.8,74.3 783.5,73.8 784.2,73.4 785.0,73.5 785.8,73.5 786.5,73.5 787.2,73.7 788.0,73.8 788.8,73.9 789.5,74.1 790.2,74.3 791.0,74.2 791.8,73.7 792.5,73.1 793.2,72.7 794.0,72.5 794.8,72.3 795.5,72.4 796.2,72.8 797.0,73.2 797.8,73.5 798.5,73.5 799.2,73.6 800.0,73.4 800.8,72.9 801.5,72.5 802.2,72.1 803.0,71.7 803.8,71.3 804.5,71.5 805.2,72.2 806.0,72.8 806.8,72.7 807.5,72.4 808.2,72.0 809.0,72.1 809.8,72.3 810.5,72.4 811.2,72.2 812.0,71.9 812.8,71.7 813.5,71.5 814.2,71.4 815.0,71.3 815.8,71.2 816.5,71.1 817.2,71.1 818.0,71.4 818.8,71.7 819.5,72.0 820.2,71.9 821.0,71.8 821.8,71.6 822.5,70.9 823.2,70.2 824.0,69.7 824.8,69.8 825.5,70.0 826.2,70.3 827.0,70.8 827.8,71.2 828.5,71.4 829.2,70.9 830.0,70.4 830.8,70.1 831.5,69.8 832.2,69.6 833.0,69.6 833.8,69.8 834.5,70.1 835.2,70.1 836.0,70.1 836.8,70.0 837.5,70.0 838.2,70.0 839.0,69.9 839.8,69.9 840.5,69.8 841.2,69.7 842.0,69.6 842.8,69.6 843.5,69.7 844.2,69.6 845.0,69.6 845.8,69.5 846.5,69.6 847.2,69.8 848.0,69.9 848.8,69.7 849.5,69.4 850.2,69.2 851.0,69.3 851.8,69.4 852.5,69.4 853.2,69.4 854.0,69.5 854.8,69.5 855.5,69.8 856.2,70.1 857.0,70.2 857.8,70.0 858.5,69.8 859.2,69.6 860.0,69.5 860.8,69.4 861.5,69.4 862.2,69.5 863.0,69.6 863.8,69.6 864.5,69.6 865.2,69.6 866.0,69.6 866.8,69.7 867.5,69.8 868.2,69.8 869.0,69.7 869.8,69.5 870.5,69.7 871.2,69.9 872.0,70.1 872.8,70.1 873.5,70.0 874.2,69.9 875.0,69.6 875.8,69.3 876.5,69.0 877.2,68.9 878.0,68.8 878.8,68.7 879.5,68.9 880.2,69.1 881.0,69.4 881.8,69.3 882.5,69.2 883.2,69.1 884.0,68.9 884.8,68.8 885.5,68.6 886.2,68.3 887.0,68.0 887.8,67.7 888.5,67.6 889.2,67.5 890.0,67.5 890.8,67.9 891.5,68.3 892.2,68.5 893.0,68.6 893.8,68.6 894.5,68.6 895.2,68.6 896.0,68.5 896.8,68.3 897.5,67.9 898.2,67.4 899.0,67.4 899.8,67.8 900.5,68.2 901.2,68.2 902.0,67.8 902.8,67.5 903.5,67.4 904.2,67.6 905.0,67.7 905.8,67.7 906.5,67.7 907.2,67.6 908.0,67.4 908.8,67.1 909.5,66.8 910.2,66.8 911.0,66.8 911.8,66.8 912.5,66.5 913.2,66.2 914.0,65.8 914.8,66.0 915.5,66.2 916.2,66.4 917.0,66.2 917.8,65.9 918.5,65.8 919.2,66.2 920.0,66.6 920.8,67.0 921.5,66.9 922.2,66.8 923.0,66.7 923.8,66.9 924.5,67.0 925.2,67.1 926.0,67.0 926.8,66.8 927.5,66.7 928.2,66.5 929.0,66.2 929.8,66.2 930.5,66.4 931.2,66.6 932.0,66.6 932.8,66.5 933.5,66.3 934.2,66.4 935.0,66.6 935.8,66.8 936.5,66.8 937.2,66.7 938.0,66.6 938.8,66.4 939.5,66.2 940.2,65.9 941.0,66.0 941.8,66.2 942.5,66.4 943.2,66.4 944.0,66.4 944.8,66.4 945.5,66.4 946.2,66.3 947.0,66.2 947.8,66.4 948.5,66.7 949.2,66.9 950.0,67.1 950.8,67.2 951.5,67.3 952.2,66.9 953.0,66.5 953.8,66.1 954.5,66.1 955.2,66.1 956.0,66.0 956.8,65.6 957.5,65.2 958.2,65.1 959.0,65.6 959.8,66.0 960.5,66.2 961.2,66.2 962.0,66.1 962.8,65.9 963.5,65.5 964.2,65.2 965.0,65.3 965.8,65.8 966.5,66.3 967.2,66.5 968.0,66.6 968.8,66.6 969.5,66.5 970.2,66.2 971.0,65.9 971.8,65.9 972.5,66.0 973.2,66.0 974.0,66.0 974.8,65.8 975.5,65.7 976.2,66.0 977.0,66.3 977.8,66.7 978.5,66.3 979.2,65.8 980.0,65.3 980.8,65.6 981.5,65.8 982.2,66.1 983.0,66.6 983.8,67.0 984.5,67.4 985.2,67.0 986.0,66.6 986.8,66.3 987.5,66.4 988.2,66.5 989.0,66.5 989.8,66.3 990.5,66.2 991.2,66.1 992.0,65.9 992.8,65.6 993.5,65.6 994.2,65.8 995.0,66.1 995.8,66.2 996.5,66.3 997.2,66.4 998.0,66.3 998.8,66.0 999.5,65.7 1000.2,65.8 1001.0,66.0 1001.8,66.3 1002.5,66.5 1003.2,66.7 1004.0,66.9 1004.8,66.9 1005.5,66.9 1006.2,66.8 1007.0,66.4 1007.8,65.8 1008.5,65.3 1009.2,65.3 1010.0,65.5 1010.8,65.6 1011.5,65.5 1012.2,65.3 1013.0,65.2 1013.8,65.8 1014.5,66.3 1015.2,66.8 1016.0,66.7 1016.8,66.6 1017.5,66.5 1018.2,66.6 1019.0,66.6 1019.8,66.5 1020.5,66.2 1021.2,65.9 1022.0,65.6 1022.8,65.6 1023.5,65.5 1024.2,65.5 1025.0,65.8 1025.8,66.0 1026.5,66.2 1027.2,66.2 1028.0,66.2 1028.8,66.1 1029.5,65.9 1030.2,65.7 1031.0,65.7 1031.8,66.0 1032.5,66.2 1033.2,66.3 1034.0,66.4 1034.8,66.5 1035.5,66.5 1036.2,66.4 1037.0,66.3 1037.8,66.1 1038.5,65.8 1039.2,65.6 1040.0,65.3 1040.8,65.1 1041.5,64.9 1042.2,65.2 1043.0,65.6 1043.8,66.0 1044.5,66.1 1045.2,66.2 1046.0,66.2 1046.8,66.2 1047.5,66.1 1048.2,66.0 1049.0,65.9 1049.8,65.9 1050.5,65.9 1051.2,65.8 1052.0,65.8 1052.8,65.8 1053.5,66.1 1054.2,66.3 1055.0,66.5 1055.8,66.4 1056.5,66.2 1057.2,66.1 1058.0,66.1 1058.8,66.2 1059.5,66.1 1060.2,65.9 1061.0,65.7 1061.8,65.6 1062.5,65.6 1063.2,65.7 1064.0,65.8 1064.8,66.0 1065.5,66.1 1066.2,66.1 1067.0,65.8 1067.8,65.6 1068.5,65.5 1069.2,65.4 1070.0,65.4 1070.8,65.5 1071.5,65.7 1072.2,65.9 1073.0,66.1 1073.8,66.5 1074.5,66.8 1075.2,66.6 1076.0,66.4 1076.8,66.2 1077.5,66.4 1078.2,66.7 1079.0,66.9 1079.8,66.6 1080.5,66.3 1081.2,66.0 1082.0,65.9 1082.8,65.9 1083.5,65.8 1084.2,65.6 1085.0,65.4 1085.8,65.2 1086.5,65.4 1087.2,65.6 1088.0,65.8 1088.8,66.2 1089.5,66.6 1090.2,66.8 1091.0,66.6 1091.8,66.3 1092.5,66.2 1093.2,66.3 1094.0,66.3 1094.8,65.9 1095.5,65.2 1096.2,64.7 1097.0,64.5 1097.8,64.6 1098.5,65.1 1099.2,65.7 1100.0,65.9 1100.8,65.9 1101.5,65.9 1102.2,66.0 1103.0,66.1 1103.8,66.2 1104.5,66.3 1105.2,66.4 1106.0,66.4 1106.8,66.3 1107.5,66.3 1108.2,66.3 1109.0,66.3 1109.8,66.3 1110.5,66.2 1111.2,66.2 1112.0,66.1 1112.8,65.9 1113.5,65.7 1114.2,65.5 1115.0,65.6 1115.8,65.7 1116.5,65.8 1117.2,65.7 1118.0,65.5 1118.8,65.5 1119.5,65.9 1120.2,66.3 1121.0,66.4 1121.8,65.8 1122.5,65.1 1123.2,64.8 1124.0,65.2 1124.8,65.6 1125.5,66.0 1126.2,66.6 1127.0,67.1 1127.8,67.1 1128.5,66.6 1129.2,66.0 1130.0,65.7 1130.8,65.5 1131.5,65.3 1132.2,65.4 1133.0,65.6 1133.8,65.9 1134.5,66.1 1135.2,66.4 1136.0,66.6 1136.8,66.5 1137.5,66.2 1138.2,65.9 1139.0,66.0 1139.8,66.1 1140.5,66.3 1141.2,66.2 1142.0,66.1 1142.8,66.0 1143.5,65.9 1144.2,65.8 1145.0,65.7 1145.8,66.4 1146.5,67.1 1147.2,67.8 1148.0,67.1 1148.8,66.5 1149.5,65.9 1150.2,65.8 1151.0,65.7 1151.8,65.6 1152.5,65.6 1153.2,65.6 1154.0,65.7 1154.8,65.8 1155.5,66.0 1156.2,66.1 1157.0,66.1 1157.8,66.1 1158.5,66.2 1159.2,66.2 1160.0,66.3 1160.8,66.3 1161.5,66.2 1162.2,66.0 1163.0,65.8 1163.8,65.5 1164.5,65.2 1165.2,65.3 1166.0,65.7 1166.8,66.1 1167.5,66.1 1168.2,65.9 1169.0,65.8 1169.8,65.7 1170.5,65.7 1171.2,65.8 1172.0,65.6 1172.8,65.3 1173.5,65.1 1174.2,65.2 1175.0,65.4 1175.8,65.6 1176.5,65.6 1177.2,65.6 1178.0,65.5 1178.8,65.7 1179.5,65.8 1180.2,66.0 1181.0,65.7 1181.8,65.4 1182.5,65.2 1183.2,65.5 1184.0,65.9 1184.8,66.1 1185.5,66.1 1186.2,66.2 1187.0,66.1 1187.8,65.9 1188.5,65.7 1189.2,65.5 1190.0,65.7 1190.8,65.8 1191.5,65.8 1192.2,65.8 1193.0,65.8 1193.8,66.0 1194.5,66.3 1195.2,66.7 1196.0,66.5 1196.8,65.9 1197.5,65.2 1198.2,65.2 1199.0,65.7 1199.8,66.2 1200.5,66.2 1201.2,65.9 1202.0,65.8 1202.8,66.4 1203.5,67.1 1204.2,67.5 1205.0,67.5 1205.8,66.4 1206.5,65.1 1207.2,64.4 1208.0,64.2 1208.8,64.0 1209.5,64.2 1210.2,64.5 1211.0,64.7 1211.8,64.5 1212.5,64.3 1213.2,64.2 1214.0,64.8 1214.8,65.4 1215.5,65.9 1216.2,65.7 1217.0,65.5 1217.8,65.4 1218.5,65.4 1219.2,65.5 1220.0,65.4 1220.8,64.9 1221.5,64.5 1222.2,64.2 1223.0,64.2 1223.8,64.3 1224.5,64.5 1225.2,64.9 1226.0,65.4 1226.8,65.5 1227.5,65.3 1228.2,65.0 1229.0,64.9 1229.8,64.9 1230.5,64.9 1231.2,65.0 1232.0,65.1 1232.8,65.2 1233.5,65.1 1234.2,64.8 1235.0,64.4 1235.8,64.7 1236.5,65.1 1237.2,65.5 1238.0,65.5 1238.8,65.3 1239.5,65.2 1240.2,65.2 1241.0,65.3 1241.8,65.4 1242.5,65.2 1243.2,65.0 1244.0,64.8 1244.8,65.0 1245.5,65.3 1246.2,65.5 1247.0,65.2 1247.8,65.0 1248.5,64.8 1249.2,65.2 1250.0,65.5 1250.8,65.8 1251.5,65.8 1252.2,65.9 1253.0,65.9 1253.8,65.8 1254.5,65.8 1255.2,65.7 1256.0,65.7 1256.8,65.6 1257.5,65.5 1258.2,65.6 1259.0,65.6 1259.8,65.3 1260.5,64.6 1261.2,63.9 1262.0,64.0 1262.8,64.7 1263.5,65.5 1264.2,65.6 1265.0,65.4 1265.8,65.2 1266.5,65.2 1267.2,65.2 1268.0,65.3 1268.8,65.3 1269.5,65.2 1270.2,65.2 1271.0,65.0 1271.8,64.8 1272.5,64.5 1273.2,64.7 1274.0,64.9 1274.8,65.0 1275.5,65.3 1276.2,65.5 1277.0,65.8 1277.8,66.0 1278.5,66.1 1279.2,66.3 1280.0,65.9 1280.8,65.5 1281.5,65.1 1282.2,65.1 1283.0,65.0 1283.8,65.1 1284.5,65.6 1285.2,66.1 1286.0,66.3 1286.8,65.9 1287.5,65.4 1288.2,65.3 1289.0,66.0 1289.8,66.6 1290.5,66.8 1291.2,66.4 1292.0,66.0 1292.8,65.8 1293.5,65.6 1294.2,65.5 1295.0,65.6 1295.8,66.0 1296.5,66.4 1297.2,66.5 1298.0,66.8 1298.8,67.5 1299.5,68.4 1300.2,68.7 1301.0,68.2 1301.8,67.9 1302.5,67.1 1303.2,66.7 1304.0,66.5 1304.8,66.3 1305.5,65.9 1306.2,66.1 1307.0,66.5 1307.8,66.8 1308.5,66.5 1309.2,66.1 1310.0,65.7 1310.8,65.5 1311.5,65.2 1312.2,65.0 1313.0,65.5 1313.8,65.9 1314.5,66.3 1315.2,66.3 1316.0,66.4 1316.8,66.5 1317.5,66.8 1318.2,67.0 1319.0,67.2 1319.8,67.1 1320.5,67.0 1321.2,66.9 1322.0,66.7 1322.8,66.4 1323.5,66.2 1324.2,66.1 1325.0,65.9 1325.8,65.7 1326.5,65.7 1327.2,65.6 1328.0,65.6 1328.8,65.6 1329.5,65.7 1330.2,65.6 1331.0,65.5 1331.8,65.4 1332.5,65.5 1333.2,65.6 1334.0,65.7 1334.8,65.4 1335.5,64.9 1336.2,64.4 1337.0,64.8 1337.8,65.3 1338.5,65.9 1339.2,65.9 1340.0,65.9 1340.8,65.8 1341.5,66.3 1342.2,66.9 1343.0,67.4 1343.8,67.0 1344.5,66.6 1345.2,66.3 1346.0,66.0 1346.8,65.8 1347.5,65.6 1348.2,65.8 1349.0,66.0 1349.8,66.1 1350.5,65.7 1351.2,65.4 1352.0,65.1 1352.8,65.3 1353.5,65.4 1354.2,65.4 1355.0,65.1 1355.8,64.9 1356.5,65.0 1357.2,65.6 1358.0,66.3 1358.8,66.6 1359.5,66.4 1360.2,66.3 1361.0,66.0 1361.8,65.6 1362.5,65.3 1363.2,65.2 1364.0,65.5 1364.8,65.7 1365.5,65.9 1366.2,66.1 1367.0,66.3 1367.8,66.3 1368.5,66.2 1369.2,66.1 1370.0,66.1 1370.8,66.1 1371.5,66.0 1372.2,65.8 1373.0,65.6 1373.8,65.3 1374.5,65.3 1375.2,65.4 1376.0,65.4 1376.8,65.6 1377.5,65.7 1378.2,65.9 1379.0,66.0 1379.8,66.2 1380.5,66.3 1381.2,65.9 1382.0,65.6 1382.8,65.3 1383.5,65.2 1384.2,65.2 1385.0,65.3 1385.8,65.7 1386.5,66.2 1387.2,66.3 1388.0,65.9 1388.8,65.5 1389.5,65.4 1390.2,65.8 1391.0,66.2 1391.8,66.4 1392.5,66.2 1393.2,66.0 1394.0,66.0 1394.8,66.1 1395.5,66.3 1396.2,66.4 1397.0,66.6 1397.8,66.8 1398.5,66.7 1399.2,66.5 1400.0,66.3 1400.8,66.2 1401.5,66.2 1402.2,66.3 1403.0,66.0 1403.8,65.6 1404.5,65.3 1405.2,65.3 1406.0,65.3 1406.8,65.4 1407.5,65.6 1408.2,65.9 1409.0,66.2 1409.8,66.4 1410.5,66.6 1411.2,66.7 1412.0,66.7 1412.8,66.7 1413.5,66.7 1414.2,66.8 1415.0,67.0 1415.8,67.1 1416.5,66.7 1417.2,66.3 1418.0,66.0 1418.8,66.0 1419.5,65.9 1420.2,66.0 1421.0,66.1 1421.8,66.3 1422.5,66.3 1423.2,66.1 1424.0,65.9 1424.8,65.8 1425.5,65.8 1426.2,65.8 1427.0,65.7 1427.8,65.5 1428.5,65.4 1429.2,65.6 1430.0,66.0 1430.8,66.5 1431.5,66.4 1432.2,66.1 1433.0,65.8 1433.8,66.0 1434.5,66.4 1435.2,66.8 1436.0,66.6 1436.8,66.4 1437.5,66.2 1438.2,66.6 1439.0,67.2 1439.8,67.8 1440.5,67.6 1441.2,67.4 1442.0,67.2 1442.8,67.7 1443.5,68.1 1444.2,68.6 1445.0,68.3 1445.8,68.1 1446.5,67.9 1447.2,68.3 1448.0,68.7 1448.8,69.1 1449.5,69.5 1450.2,70.0 1451.0,70.2 1451.8,70.2 1452.5,70.2 1453.2,70.4 1454.0,70.8 1454.8,71.3 1455.5,71.8 1456.2,72.2 1457.0,72.6 1457.8,72.9 1458.5,73.2 1459.2,73.6 1460.0,74.2 1460.8,74.9 1461.5,75.7 1462.2,76.3 1463.0,76.9 1463.8,77.4 1464.5,77.9 1465.2,78.3 1466.0,78.7 1466.8,79.3 1467.5,80.1 1468.2,80.8 1469.0,81.4 1469.8,82.0 1470.5,82.6 1471.2,83.3 1472.0,84.0 1472.8,84.7 1473.5,85.4 1474.2,86.1 1475.0,86.8 1475.8,87.4 1476.5,87.9 1477.2,88.4 1478.0,89.2 1478.8,89.9 1479.5,90.6 1480.2,90.9 1481.0,91.1 1481.8,91.3 1482.5,92.0 1483.2,92.7 1484.0,93.2 1484.8,93.6 1485.5,93.9 1486.2,93.8 1487.0,93.1 1487.8,92.5 1488.5,92.0 1489.2,91.5 1490.0,90.9 1490.8,90.3 1491.5,89.5 1492.2,88.7 1493.0,87.9 1493.8,87.0 1494.5,86.2 1495.2,85.2 1496.0,84.2 1496.8,83.1 1497.5,81.9 1498.2,80.7 1499.0,79.6 1499.8,78.4 1500.5,77.4 1501.2,76.5 1502.0,75.6 1502.8,74.9 1503.5,74.1 1504.2,73.3 1505.0,72.5 1505.8,71.7 1506.5,71.2 1507.2,70.8 1508.0,70.4 1508.8,69.8 1509.5,69.2 1510.2,68.6 1511.0,68.3 1511.8,68.1 1512.5,68.0 1513.2,67.8 1514.0,67.6 1514.8,67.4 1515.5,66.9 1516.2,66.5 1517.0,66.2 1517.8,66.6 1518.5,67.0 1519.2,67.2 1520.0,67.0 1520.8,66.8 1521.5,66.6 1522.2,66.5 1523.0,66.4 1523.8,66.2 1524.5,65.7 1525.2,65.3 1526.0,65.2 1526.8,65.3 1527.5,65.5 1528.2,65.6 1529.0,65.5 1529.8,65.5 1530.5,65.5 1531.2,65.6 1532.0,65.6 1532.8,65.5 1533.5,65.4 1534.2,65.3 1535.0,65.5 1535.8,65.8 1536.5,66.2 1537.2,66.2 1538.0,66.2 1538.8,66.1 1539.5,66.2 1540.2,66.2 1541.0,66.3 1541.8,66.1 1542.5,66.0 1543.2,65.9 1544.0,66.3 1544.8,66.6 1545.5,66.9 1546.2,66.8 1547.0,66.6 1547.8,66.3 1548.5,65.7 1549.2,65.2 1550.0,64.9 1550.8,65.3 1551.5,65.8 1552.2,66.1 1553.0,66.3 1553.8,66.4 1554.5,66.6 1555.2,66.8 1556.0,67.0 1556.8,67.1 1557.5,66.8 1558.2,66.6 1559.0,66.5 1559.8,66.6 1560.5,66.6 1561.2,66.6 1562.0,66.6 1562.8,66.5 1563.5,66.7 1564.2,67.0 1565.0,67.3 1565.8,67.3 1566.5,67.1 1567.2,66.9 1568.0,66.9 1568.8,66.9 1569.5,66.9 1570.2,67.0 1571.0,67.0 1571.8,67.0 1572.5,67.3 1573.2,67.6 1574.0,67.9 1574.8,67.7 1575.5,67.6 1576.2,67.4 1577.0,67.3 1577.8,67.1 1578.5,67.1 1579.2,67.6 1580.0,68.1 1580.8,68.5 1581.5,68.4 1582.2,68.2 1583.0,68.2 1583.8,68.5 1584.5,68.8 1585.2,69.1 1586.0,69.2 1586.8,69.3 1587.5,69.5 1588.2,69.7 1589.0,70.0 1589.8,70.1 1590.5,70.2 1591.2,70.2 1592.0,70.1 1592.8,69.9 1593.5,69.6 1594.2,69.6 1595.0,69.7 1595.8,69.8 1596.5,69.6 1597.2,69.4 1598.0,69.1 1598.8,69.4 1599.5,69.9 1600.2,70.3 1601.0,70.0 1601.8,69.6 1602.5,69.3 1603.2,69.2 1604.0,69.2 1604.8,69.1 1605.5,68.7 1606.2,68.2 1607.0,67.7 1607.8,67.2 1608.5,66.7 1609.2,66.3 1610.0,66.7 1610.8,67.1 1611.5,67.5 1612.2,67.1 1613.0,66.7 1613.8,66.4 1614.5,66.3 1615.2,66.2 1616.0,66.1 1616.8,66.0 1617.5,65.9 1618.2,65.8 1619.0,65.8 1619.8,65.8 1620.5,65.8 1621.2,65.7 1622.0,65.6 1622.8,65.3 1623.5,64.8 1624.2,64.3 1625.0,64.3 1625.8,64.7 1626.5,65.2 1627.2,65.1 1628.0,64.8 1628.8,64.4 1629.5,64.3 1630.2,64.3 1631.0,64.2 1631.8,64.6 1632.5,65.0 1633.2,65.4 1634.0,65.4 1634.8,65.2 1635.5,65.1 1636.2,64.9 1637.0,64.6 1637.8,64.4 1638.5,64.1 1639.2,63.8 1640.0,63.6 1640.8,64.0 1641.5,64.4 1642.2,64.9 1643.0,65.0 1643.8,65.1 1644.5,65.2 1645.2,65.1 1646.0,65.0 1646.8,64.9 1647.5,64.7 1648.2,64.6 1649.0,64.5 1649.8,64.6 1650.5,64.8 1651.2,64.8 1652.0,64.8 1652.8,64.8 1653.5,64.9 1654.2,65.2 1655.0,65.6 1655.8,65.8 1656.5,66.0 1657.2,66.2 1658.0,66.3 1658.8,66.4 1659.5,66.5 1660.2,66.4 1661.0,66.1 1661.8,65.9 1662.5,66.0 1663.2,66.2 1664.0,66.5 1664.8,66.7 1665.5,66.8 1666.2,67.0 1667.0,66.9 1667.8,66.8 1668.5,66.7 1669.2,66.9 1670.0,67.0 1670.8,67.2 1671.5,67.7 1672.2,68.2 1673.0,68.8 1673.8,68.6 1674.5,68.3 1675.2,68.2 1676.0,68.4 1676.8,68.7 1677.5,68.9 1678.2,68.8 1679.0,68.8 1679.8,68.8 1680.5,69.1 1681.2,69.4 1682.0,69.6 1682.8,69.5 1683.5,69.5 1684.2,69.7 1685.0,70.2 1685.8,70.7 1686.5,71.2 1687.2,71.7 1688.0,72.1 1688.8,72.6 1689.5,73.0 1690.2,73.4 1691.0,73.7 1691.8,73.9 1692.5,74.2 1693.2,74.4 1694.0,74.8 1694.8,75.2 1695.5,75.5 1696.2,76.0 1697.0,76.4 1697.8,76.9 1698.5,77.4 1699.2,77.9 1700.0,78.6 1700.8,79.2 1701.5,80.0 1702.2,80.7 1703.0,81.5 1703.8,82.4 1704.5,83.3 1705.2,84.4 1706.0,85.5 1706.8,86.7 1707.5,88.0 1708.2,89.6 1709.0,91.6 1709.8,93.9 1710.5,96.3 1711.2,98.7 1712.0,101.0 1712.8,103.2 1713.5,105.5 1714.2,107.8 1715.0,110.2 1715.8,112.7 1716.5,115.3 1717.2,118.0 1718.0,120.8 1718.8,123.7 1719.5,126.7 1720.2,129.8 1721.0,133.0 1721.8,136.3 1722.5,139.7 1723.2,143.2 1724.0,146.8 1724.8,150.4 1725.5,154.0 1726.2,157.6 1727.0,161.3 1727.8,165.1 1728.5,168.9 1729.2,172.7 1730.0,176.6 1730.8,180.5 1731.5,184.5 1732.2,188.7 1733.0,193.0 1733.8,197.8 1734.5,202.7 1735.2,207.6 1736.0,212.3 1736.8,216.6 1737.5,220.4 1738.2,223.7 1739.0,226.9 1739.8,230.5 1740.5,234.3 1741.2,238.4 1742.0,242.6 1742.8,246.9 1743.5,251.3 1744.2,255.8 1745.0,260.3 1745.8,264.9 1746.5,269.6 1747.2,274.3 1748.0,279.1 1748.8,283.9 1749.5,288.6 1750.2,293.3 1751.0,297.9 1751.8,302.5 1752.5,307.0 1753.2,311.5 1754.0,315.7 1754.8,320.2 1755.5,324.8 1756.2,329.1 1757.0,332.8 1757.8,335.6 1758.5,337.6 1759.2,339.2 1760.0,340.7 1760.8,341.9 1761.5,343.1 1762.2,344.1 1763.0,345.0 1763.8,345.6 1764.5,346.1 1765.2,346.7 1766.0,347.4 1766.8,348.3 1767.5,349.5 1768.2,351.2 1769.0,353.5 1769.8,356.2 1770.5,359.2 1771.2,362.2 1772.0,365.3 1772.8,368.6 1773.5,372.2 1774.2,376.0 1775.0,379.9 1775.8,383.7 1776.5,387.7 1777.2,391.8 1778.0,396.4 1778.8,401.5 1779.5,407.7 1780.2,414.4 1781.0,421.2 1781.8,427.5 1782.5,433.4 1783.2,440.1 1784.0,447.9 1784.8,456.6 1785.5,466.0 1786.2,476.1 1787.0,487.6 1787.8,500.3 1788.5,513.1 1789.2,525.9 1790.0,538.9 1790.8,551.6 1791.5,564.3 1792.2,576.8 1793.0,588.5 1793.8,599.6 1794.5,610.2 1795.2,619.4 1796.0,626.6 1796.8,632.5 1797.5,637.8 1798.2,642.8 1799.0,648.0 1799.8,653.7 1800.5,659.5 1801.2,665.5 1802.0,671.5 1802.8,677.5 1803.5,683.6 1804.2,690.0 1805.0,696.4 1805.8,702.7 1806.5,708.4 1807.2,713.5 1808.0,718.2 1808.8,722.7 1809.5,726.9 1810.2,731.0 1811.0,734.9 1811.8,738.8 1812.5,742.7 1813.2,746.6 1814.0,750.5 1814.8,754.2 1815.5,757.6 1816.2,760.5 1817.0,762.9 1817.8,765.1 1818.5,766.8 1819.2,768.1 1820.0,769.2 1820.8,770.1 1821.5,770.0 1822.2,769.6 1823.0,769.5 1823.8,769.4 1824.5,769.1 1825.2,768.1 1826.0,767.1 1826.8,766.1 1827.5,765.0 1828.2,763.9 1829.0,762.7 1829.8,761.6 1830.5,760.4 1831.2,759.1 1832.0,757.6 1832.8,756.0 1833.5,754.1 1834.2,751.9 1835.0,748.6 1835.8,744.6 1836.5,740.3 1837.2,736.3 1838.0,732.2 1838.8,728.1 1839.5,723.8 1840.2,719.6 1841.0,715.4 1841.8,711.2 1842.5,707.0 1843.2,702.7 1844.0,698.4 1844.8,693.9 1845.5,689.2 1846.2,684.5 1847.0,679.7 1847.8,674.8 1848.5,670.0 1849.2,665.2 1850.0,660.4 1850.8,655.6 1851.5,650.8 1852.2,646.2 1853.0,641.4 1853.8,636.6 1854.5,632.0 1855.2,628.1 1856.0,625.0 1856.8,622.2 1857.5,619.6 1858.2,617.3 1859.0,615.1 1859.8,613.0 1860.5,610.8 1861.2,608.8 1862.0,606.9 1862.8,605.1 1863.5,603.2 1864.2,601.1 1865.0,598.6 1865.8,595.8 1866.5,592.5 1867.2,588.9 1868.0,584.9 1868.8,580.6 1869.5,575.6 1870.2,569.8 1871.0,563.8 1871.8,557.9 1872.5,552.3 1873.2,546.6 1874.0,541.0 1874.8,535.3 1875.5,529.6 1876.2,523.8 1877.0,518.2 1877.8,512.7 1878.5,507.3 1879.2,501.9 1880.0,497.0 1880.8,493.3 1881.5,490.3 1882.2,487.6 1883.0,485.6 1883.8,484.4 1884.5,483.9 1885.2,483.3 1886.0,482.6 1886.8,482.3 1887.5,482.3 1888.2,482.1 1889.0,481.5 1889.8,480.5 1890.5,479.2 1891.2,477.5 1892.0,475.4 1892.8,471.8 1893.5,466.5 1894.2,460.7 1895.0,454.5 1895.8,447.6 1896.5,440.7 1897.2,433.6 1898.0,426.4 1898.8,420.0 1899.5,414.7 1900.2,409.9 1901.0,405.5 1901.8,401.2 1902.5,396.6 1903.2,391.7 1904.0,386.7 1904.8,381.5 1905.5,376.4 1906.2,371.3 1907.0,366.4 1907.8,361.7 1908.5,356.9 1909.2,352.3 1910.0,347.7 1910.8,343.4 1911.5,339.2 1912.2,335.3 1913.0,331.4 1913.8,327.6 1914.5,324.1 1915.2,320.8 1916.0,318.0 1916.8,315.4 1917.5,313.0 1918.2,310.8 1919.0,308.9 1919.8,307.3 1920.5,305.9 1921.2,304.6 1922.0,303.5 1922.8,302.6 1923.5,302.5 1924.2,303.0 1925.0,304.1 1925.8,305.8 1926.5,307.9 1927.2,311.3 1928.0,317.8 1928.8,325.5 1929.5,333.9 1930.2,343.8 1931.0,351.6 1931.8,357.9 1932.5,361.9 1933.2,361.3 1934.0,358.5 1934.8,354.9 1935.5,351.0 1936.2,345.9 1937.0,342.1 1937.8,341.1 1938.5,340.7 1939.2,340.5 1940.0,340.1 1940.8,339.7 1941.5,339.3 1942.2,339.0 1943.0,338.6 1943.8,338.1 1944.5,336.4 1945.2,331.3 1946.0,325.5 1946.8,321.1 1947.5,317.1 1948.2,313.3 1949.0,309.8 1949.8,306.6 1950.5,303.4 1951.2,300.3 1952.0,297.7 1952.8,295.7 1953.5,294.4 1954.2,293.2 1955.0,292.2 1955.8,291.2 1956.5,290.3 1957.2,289.8 1958.0,289.7 1958.4,289.9"/>
</g>
<g id="yticks" font-size="58.5">
<text x="99.39" y="62.1" textLength="88.97" lengthAdjust="spacingAndGlyphs">100</text>
<text x="129.77" y="331.15" textLength="58.56" lengthAdjust="spacingAndGlyphs">80</text>
<text x="129.47" y="600.2" textLength="58.87" lengthAdjust="spacingAndGlyphs">60</text>
<text x="130.88" y="869.25" textLength="57.41" lengthAdjust="spacingAndGlyphs">40</text>
<text x="129.41" y="1138.3" textLength="58.93" lengthAdjust="spacingAndGlyphs">20</text>
</g>
<g id="xticks" font-size="58.5">
<text x="166.68" y="1334.5" textLength="114.91" lengthAdjust="spacingAndGlyphs">4000</text>
<text x="431.6" y="1334.5" textLength="117.13" lengthAdjust="spacingAndGlyphs">3500</text>
<text x="697.81" y="1334.5" textLength="116.61" lengthAdjust="spacingAndGlyphs">3000</text>
<text x="965.26" y="1334.5" textLength="115.54" lengthAdjust="spacingAndGlyphs">2500</text>
<text x="1232.65" y="1334.5" textLength="115.85" lengthAdjust="spacingAndGlyphs">2000</text>
<text x="1497.39" y="1334.5" textLength="118.46" lengthAdjust="spacingAndGlyphs">1500</text>
<text x="1764.18" y="1334.5" textLength="118.78" lengthAdjust="spacingAndGlyphs">1000</text>
</g>
<g id="annotations" font-size="51">
<text x="361.36" y="311.2" textLength="101.98" lengthAdjust="spacingAndGlyphs">3628</text>
<text x="494.33" y="328.9" textLength="103.15" lengthAdjust="spacingAndGlyphs">3397</text>
<text x="1431.67" y="263.0" textLength="102.99" lengthAdjust="spacingAndGlyphs">1638</text>
<text x="1673.9" y="476.0" textLength="102.35" lengthAdjust="spacingAndGlyphs">1048</text>
<text x="1873.04" y="916.3" textLength="77.09" lengthAdjust="spacingAndGlyphs">916</text>
<text x="1795.66" y="1121.4" textLength="76.43" lengthAdjust="spacingAndGlyphs">993</text>
</g>
<g id="legend" font-size="60.5">
<rect x="373" y="621" width="162" height="3" fill="#000000" shape-rendering="crispEdges"/>
<text transform="scale(1.0409,1)" x="528.87 574.38 602.54 628.50 665.93 694.63 728.70 744.92 773.10 801.31" y="645.4">Na–Bent–60</text>
<rect x="373" y="707" width="162" height="4" fill="#ff0000" shape-rendering="crispEdges"/>
<text transform="scale(1.0467,1)" x="525.80 571.10 599.10 624.89 662.14 690.68 724.60 740.69 769.45 797.06 825.53" y="731.8">Na–Bent–200</text>
<rect x="373" y="793" width="162" height="4" fill="#0000ff" shape-rendering="crispEdges"/>
<text transform="scale(1.0442,1)" x="527.13 572.52 600.59 626.46 663.79 692.39 726.38 742.52 770.75 799.03 827.57" y="818.2">Na–Bent–300</text>
<rect x="373" y="880" width="162" height="3" fill="#007f00" shape-rendering="crispEdges"/>
<text transform="scale(1.0335,1)" x="532.77 578.55 606.92 633.09 670.74 699.66 733.93 750.31 778.98 807.39 836.23" y="904.6">Na–Bent–400</text>
<rect x="373" y="966" width="162" height="4" fill="#7f00ff" shape-rendering="crispEdges"/>
<text transform="scale(1.0463,1)" x="526.01 571.33 599.34 625.14 662.41 690.95 724.88 740.98 768.84 797.37 825.85" y="991.0">Na–Bent–500</text>
</g>
<g id="titles">
<text transform="scale(1.0924,1)" font-size="70" y="1461.1" x="733.73 798.92 830.39 865.61 896.80 914.96 945.96 982.38 1019.83 1039.50 1074.50 1091.05 1112.59 1142.30">Wavelength (cm<tspan font-size="46" x="1195.89 1218.32" y="1432.2">−1</tspan><tspan x="1239.65" y="1461.1">)</tspan></text>
<text transform="translate(79.3,898) rotate(-90) scale(1.0370,1)" font-size="71.5" y="0" x="-2.07 40.73 66.92 101.32 137.98 166.88 224.61 246.67 267.45 288.56 322.10 357.82 387.77 419.51 436.02 456.46 512.65">Transmittance (%)</text>
</g>
</svg>
</body>
</html>
